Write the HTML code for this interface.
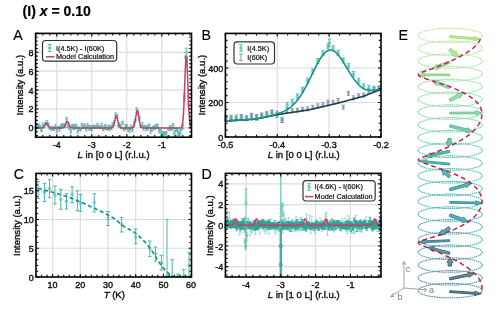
<!DOCTYPE html><html><head><meta charset="utf-8"><style>html,body{margin:0;padding:0;background:#fff;overflow:hidden;}svg{display:block;will-change:transform;}text{font-family:"Liberation Sans", sans-serif;}</style></head><body>
<svg width="500" height="311" viewBox="0 0 500 311">
<rect width="500" height="311" fill="#fff"/>
<text x="22.6" y="15.6" font-size="14" text-anchor="start" font-weight="bold" fill="#000" stroke="#000" stroke-width="0.2" >(I) <tspan font-style="italic">x</tspan> = 0.10</text>
<text x="13.2" y="39.6" font-size="14.2" text-anchor="start" font-weight="normal" fill="#000" stroke="#000" stroke-width="0.15" >A</text>
<text x="201.4" y="39.8" font-size="14.2" text-anchor="start" font-weight="normal" fill="#000" stroke="#000" stroke-width="0.15" >B</text>
<text x="13.8" y="178.6" font-size="14.2" text-anchor="start" font-weight="normal" fill="#000" stroke="#000" stroke-width="0.15" >C</text>
<text x="201.6" y="178.6" font-size="14.2" text-anchor="start" font-weight="normal" fill="#000" stroke="#000" stroke-width="0.15" >D</text>
<text x="398.4" y="39.8" font-size="14.2" text-anchor="start" font-weight="normal" fill="#000" stroke="#000" stroke-width="0.15" >E</text>
<path d="M56.8 33.4V137.2M91.8 33.4V137.2M126.8 33.4V137.2M161.8 33.4V137.2M35.6 127.9H191.5M35.6 109H191.5M35.6 90.1H191.5M35.6 71.2H191.5M35.6 52.3H191.5" stroke="#dcdcdc" stroke-width="1.2" fill="none"/>
<g opacity="0.9"><path d="M35.8 126.75V128.98M34.4 126.75h2.8M34.4 128.98h2.8" stroke="#3aaea2" stroke-width="0.8" fill="none"/><circle cx="35.8" cy="127.86" r="0.9" fill="none" stroke="#3aaea2" stroke-width="0.8"/><path d="M37.2 124.97V128.14M35.8 124.97h2.8M35.8 128.14h2.8" stroke="#3aaea2" stroke-width="0.8" fill="none"/><circle cx="37.2" cy="126.56" r="0.9" fill="none" stroke="#3aaea2" stroke-width="0.8"/><path d="M38.6 123.84V127.23M37.2 123.84h2.8M37.2 127.23h2.8" stroke="#3aaea2" stroke-width="0.8" fill="none"/><circle cx="38.6" cy="125.54" r="0.9" fill="none" stroke="#3aaea2" stroke-width="0.8"/><path d="M40 125.56V127.85M38.6 125.56h2.8M38.6 127.85h2.8" stroke="#3aaea2" stroke-width="0.8" fill="none"/><circle cx="40" cy="126.7" r="0.9" fill="none" stroke="#3aaea2" stroke-width="0.8"/><path d="M41.4 128.87V131.58M40 128.87h2.8M40 131.58h2.8" stroke="#3aaea2" stroke-width="0.8" fill="none"/><circle cx="41.4" cy="130.23" r="0.9" fill="none" stroke="#3aaea2" stroke-width="0.8"/><path d="M42.8 123.05V128.08M41.4 123.05h2.8M41.4 128.08h2.8" stroke="#3aaea2" stroke-width="0.8" fill="none"/><circle cx="42.8" cy="125.56" r="0.9" fill="none" stroke="#3aaea2" stroke-width="0.8"/><path d="M44.2 125.74V127.89M42.8 125.74h2.8M42.8 127.89h2.8" stroke="#3aaea2" stroke-width="0.8" fill="none"/><circle cx="44.2" cy="126.81" r="0.9" fill="none" stroke="#3aaea2" stroke-width="0.8"/><path d="M45.6 122.17V125.1M44.2 122.17h2.8M44.2 125.1h2.8" stroke="#3aaea2" stroke-width="0.8" fill="none"/><circle cx="45.6" cy="123.64" r="0.9" fill="none" stroke="#3aaea2" stroke-width="0.8"/><path d="M47 120.48V125.09M45.6 120.48h2.8M45.6 125.09h2.8" stroke="#3aaea2" stroke-width="0.8" fill="none"/><circle cx="47" cy="122.79" r="0.9" fill="none" stroke="#3aaea2" stroke-width="0.8"/><path d="M48.4 123.01V126.87M47 123.01h2.8M47 126.87h2.8" stroke="#3aaea2" stroke-width="0.8" fill="none"/><circle cx="48.4" cy="124.94" r="0.9" fill="none" stroke="#3aaea2" stroke-width="0.8"/><path d="M49.8 126.98V129.18M48.4 126.98h2.8M48.4 129.18h2.8" stroke="#3aaea2" stroke-width="0.8" fill="none"/><circle cx="49.8" cy="128.08" r="0.9" fill="none" stroke="#3aaea2" stroke-width="0.8"/><path d="M51.2 127.32V129.98M49.8 127.32h2.8M49.8 129.98h2.8" stroke="#3aaea2" stroke-width="0.8" fill="none"/><circle cx="51.2" cy="128.65" r="0.9" fill="none" stroke="#3aaea2" stroke-width="0.8"/><path d="M52.6 126.25V130.12M51.2 126.25h2.8M51.2 130.12h2.8" stroke="#3aaea2" stroke-width="0.8" fill="none"/><circle cx="52.6" cy="128.19" r="0.9" fill="none" stroke="#3aaea2" stroke-width="0.8"/><path d="M54 127.58V130.53M52.6 127.58h2.8M52.6 130.53h2.8" stroke="#3aaea2" stroke-width="0.8" fill="none"/><circle cx="54" cy="129.06" r="0.9" fill="none" stroke="#3aaea2" stroke-width="0.8"/><path d="M55.4 124.78V128.62M54 124.78h2.8M54 128.62h2.8" stroke="#3aaea2" stroke-width="0.8" fill="none"/><circle cx="55.4" cy="126.7" r="0.9" fill="none" stroke="#3aaea2" stroke-width="0.8"/><path d="M56.8 127.56V132.36M55.4 127.56h2.8M55.4 132.36h2.8" stroke="#3aaea2" stroke-width="0.8" fill="none"/><circle cx="56.8" cy="129.96" r="0.9" fill="none" stroke="#3aaea2" stroke-width="0.8"/><path d="M58.2 126.42V128.8M56.8 126.42h2.8M56.8 128.8h2.8" stroke="#3aaea2" stroke-width="0.8" fill="none"/><circle cx="58.2" cy="127.61" r="0.9" fill="none" stroke="#3aaea2" stroke-width="0.8"/><path d="M59.6 126.61V131.03M58.2 126.61h2.8M58.2 131.03h2.8" stroke="#3aaea2" stroke-width="0.8" fill="none"/><circle cx="59.6" cy="128.82" r="0.9" fill="none" stroke="#3aaea2" stroke-width="0.8"/><path d="M61 124.22V128.36M59.6 124.22h2.8M59.6 128.36h2.8" stroke="#3aaea2" stroke-width="0.8" fill="none"/><circle cx="61" cy="126.29" r="0.9" fill="none" stroke="#3aaea2" stroke-width="0.8"/><path d="M62.4 123.85V127.68M61 123.85h2.8M61 127.68h2.8" stroke="#3aaea2" stroke-width="0.8" fill="none"/><circle cx="62.4" cy="125.77" r="0.9" fill="none" stroke="#3aaea2" stroke-width="0.8"/><path d="M63.8 123.86V127.77M62.4 123.86h2.8M62.4 127.77h2.8" stroke="#3aaea2" stroke-width="0.8" fill="none"/><circle cx="63.8" cy="125.82" r="0.9" fill="none" stroke="#3aaea2" stroke-width="0.8"/><path d="M65.2 124.05V127.51M63.8 124.05h2.8M63.8 127.51h2.8" stroke="#3aaea2" stroke-width="0.8" fill="none"/><circle cx="65.2" cy="125.78" r="0.9" fill="none" stroke="#3aaea2" stroke-width="0.8"/><path d="M66.6 117.38V121.51M65.2 117.38h2.8M65.2 121.51h2.8" stroke="#3aaea2" stroke-width="0.8" fill="none"/><circle cx="66.6" cy="119.44" r="0.9" fill="none" stroke="#3aaea2" stroke-width="0.8"/><path d="M68 123.45V127.7M66.6 123.45h2.8M66.6 127.7h2.8" stroke="#3aaea2" stroke-width="0.8" fill="none"/><circle cx="68" cy="125.57" r="0.9" fill="none" stroke="#3aaea2" stroke-width="0.8"/><path d="M69.4 126.39V129.3M68 126.39h2.8M68 129.3h2.8" stroke="#3aaea2" stroke-width="0.8" fill="none"/><circle cx="69.4" cy="127.85" r="0.9" fill="none" stroke="#3aaea2" stroke-width="0.8"/><path d="M70.8 129.11V133.25M69.4 129.11h2.8M69.4 133.25h2.8" stroke="#3aaea2" stroke-width="0.8" fill="none"/><circle cx="70.8" cy="131.18" r="0.9" fill="none" stroke="#3aaea2" stroke-width="0.8"/><path d="M72.2 124.32V126.69M70.8 124.32h2.8M70.8 126.69h2.8" stroke="#3aaea2" stroke-width="0.8" fill="none"/><circle cx="72.2" cy="125.51" r="0.9" fill="none" stroke="#3aaea2" stroke-width="0.8"/><path d="M73.6 124.93V129.39M72.2 124.93h2.8M72.2 129.39h2.8" stroke="#3aaea2" stroke-width="0.8" fill="none"/><circle cx="73.6" cy="127.16" r="0.9" fill="none" stroke="#3aaea2" stroke-width="0.8"/><path d="M75 124.15V128.94M73.6 124.15h2.8M73.6 128.94h2.8" stroke="#3aaea2" stroke-width="0.8" fill="none"/><circle cx="75" cy="126.55" r="0.9" fill="none" stroke="#3aaea2" stroke-width="0.8"/><path d="M76.4 124.78V128.21M75 124.78h2.8M75 128.21h2.8" stroke="#3aaea2" stroke-width="0.8" fill="none"/><circle cx="76.4" cy="126.5" r="0.9" fill="none" stroke="#3aaea2" stroke-width="0.8"/><path d="M77.8 128.4V133.17M76.4 128.4h2.8M76.4 133.17h2.8" stroke="#3aaea2" stroke-width="0.8" fill="none"/><circle cx="77.8" cy="130.79" r="0.9" fill="none" stroke="#3aaea2" stroke-width="0.8"/><path d="M79.2 126.84V130.17M77.8 126.84h2.8M77.8 130.17h2.8" stroke="#3aaea2" stroke-width="0.8" fill="none"/><circle cx="79.2" cy="128.51" r="0.9" fill="none" stroke="#3aaea2" stroke-width="0.8"/><path d="M80.6 128.42V130.9M79.2 128.42h2.8M79.2 130.9h2.8" stroke="#3aaea2" stroke-width="0.8" fill="none"/><circle cx="80.6" cy="129.66" r="0.9" fill="none" stroke="#3aaea2" stroke-width="0.8"/><path d="M82 123.32V126.06M80.6 123.32h2.8M80.6 126.06h2.8" stroke="#3aaea2" stroke-width="0.8" fill="none"/><circle cx="82" cy="124.69" r="0.9" fill="none" stroke="#3aaea2" stroke-width="0.8"/><path d="M83.4 125.8V128.64M82 125.8h2.8M82 128.64h2.8" stroke="#3aaea2" stroke-width="0.8" fill="none"/><circle cx="83.4" cy="127.22" r="0.9" fill="none" stroke="#3aaea2" stroke-width="0.8"/><path d="M84.8 123.81V127.15M83.4 123.81h2.8M83.4 127.15h2.8" stroke="#3aaea2" stroke-width="0.8" fill="none"/><circle cx="84.8" cy="125.48" r="0.9" fill="none" stroke="#3aaea2" stroke-width="0.8"/><path d="M86.2 126.82V131.03M84.8 126.82h2.8M84.8 131.03h2.8" stroke="#3aaea2" stroke-width="0.8" fill="none"/><circle cx="86.2" cy="128.93" r="0.9" fill="none" stroke="#3aaea2" stroke-width="0.8"/><path d="M87.6 123.83V127.81M86.2 123.83h2.8M86.2 127.81h2.8" stroke="#3aaea2" stroke-width="0.8" fill="none"/><circle cx="87.6" cy="125.82" r="0.9" fill="none" stroke="#3aaea2" stroke-width="0.8"/><path d="M89 125.43V129.93M87.6 125.43h2.8M87.6 129.93h2.8" stroke="#3aaea2" stroke-width="0.8" fill="none"/><circle cx="89" cy="127.68" r="0.9" fill="none" stroke="#3aaea2" stroke-width="0.8"/><path d="M90.4 125.66V130.21M89 125.66h2.8M89 130.21h2.8" stroke="#3aaea2" stroke-width="0.8" fill="none"/><circle cx="90.4" cy="127.93" r="0.9" fill="none" stroke="#3aaea2" stroke-width="0.8"/><path d="M91.8 126.75V130.78M90.4 126.75h2.8M90.4 130.78h2.8" stroke="#3aaea2" stroke-width="0.8" fill="none"/><circle cx="91.8" cy="128.77" r="0.9" fill="none" stroke="#3aaea2" stroke-width="0.8"/><path d="M93.2 125.25V127.46M91.8 125.25h2.8M91.8 127.46h2.8" stroke="#3aaea2" stroke-width="0.8" fill="none"/><circle cx="93.2" cy="126.35" r="0.9" fill="none" stroke="#3aaea2" stroke-width="0.8"/><path d="M94.6 126.08V128.25M93.2 126.08h2.8M93.2 128.25h2.8" stroke="#3aaea2" stroke-width="0.8" fill="none"/><circle cx="94.6" cy="127.17" r="0.9" fill="none" stroke="#3aaea2" stroke-width="0.8"/><path d="M96 125.21V127.69M94.6 125.21h2.8M94.6 127.69h2.8" stroke="#3aaea2" stroke-width="0.8" fill="none"/><circle cx="96" cy="126.45" r="0.9" fill="none" stroke="#3aaea2" stroke-width="0.8"/><path d="M97.4 123.73V128.53M96 123.73h2.8M96 128.53h2.8" stroke="#3aaea2" stroke-width="0.8" fill="none"/><circle cx="97.4" cy="126.13" r="0.9" fill="none" stroke="#3aaea2" stroke-width="0.8"/><path d="M98.8 125.23V127.7M97.4 125.23h2.8M97.4 127.7h2.8" stroke="#3aaea2" stroke-width="0.8" fill="none"/><circle cx="98.8" cy="126.46" r="0.9" fill="none" stroke="#3aaea2" stroke-width="0.8"/><path d="M100.2 126.25V128.65M98.8 126.25h2.8M98.8 128.65h2.8" stroke="#3aaea2" stroke-width="0.8" fill="none"/><circle cx="100.2" cy="127.45" r="0.9" fill="none" stroke="#3aaea2" stroke-width="0.8"/><path d="M101.6 123.27V128.45M100.2 123.27h2.8M100.2 128.45h2.8" stroke="#3aaea2" stroke-width="0.8" fill="none"/><circle cx="101.6" cy="125.86" r="0.9" fill="none" stroke="#3aaea2" stroke-width="0.8"/><path d="M103 128.18V130.5M101.6 128.18h2.8M101.6 130.5h2.8" stroke="#3aaea2" stroke-width="0.8" fill="none"/><circle cx="103" cy="129.34" r="0.9" fill="none" stroke="#3aaea2" stroke-width="0.8"/><path d="M104.4 125.59V128.44M103 125.59h2.8M103 128.44h2.8" stroke="#3aaea2" stroke-width="0.8" fill="none"/><circle cx="104.4" cy="127.01" r="0.9" fill="none" stroke="#3aaea2" stroke-width="0.8"/><path d="M105.8 124.43V129.47M104.4 124.43h2.8M104.4 129.47h2.8" stroke="#3aaea2" stroke-width="0.8" fill="none"/><circle cx="105.8" cy="126.95" r="0.9" fill="none" stroke="#3aaea2" stroke-width="0.8"/><path d="M107.2 127.08V129.55M105.8 127.08h2.8M105.8 129.55h2.8" stroke="#3aaea2" stroke-width="0.8" fill="none"/><circle cx="107.2" cy="128.32" r="0.9" fill="none" stroke="#3aaea2" stroke-width="0.8"/><path d="M108.6 125.25V130.38M107.2 125.25h2.8M107.2 130.38h2.8" stroke="#3aaea2" stroke-width="0.8" fill="none"/><circle cx="108.6" cy="127.81" r="0.9" fill="none" stroke="#3aaea2" stroke-width="0.8"/><path d="M110 125.42V129.64M108.6 125.42h2.8M108.6 129.64h2.8" stroke="#3aaea2" stroke-width="0.8" fill="none"/><circle cx="110" cy="127.53" r="0.9" fill="none" stroke="#3aaea2" stroke-width="0.8"/><path d="M111.4 125.22V129.69M110 125.22h2.8M110 129.69h2.8" stroke="#3aaea2" stroke-width="0.8" fill="none"/><circle cx="111.4" cy="127.46" r="0.9" fill="none" stroke="#3aaea2" stroke-width="0.8"/><path d="M112.8 122.58V127.07M111.4 122.58h2.8M111.4 127.07h2.8" stroke="#3aaea2" stroke-width="0.8" fill="none"/><circle cx="112.8" cy="124.82" r="0.9" fill="none" stroke="#3aaea2" stroke-width="0.8"/><path d="M114.2 120.4V125.55M112.8 120.4h2.8M112.8 125.55h2.8" stroke="#3aaea2" stroke-width="0.8" fill="none"/><circle cx="114.2" cy="122.97" r="0.9" fill="none" stroke="#3aaea2" stroke-width="0.8"/><path d="M115.6 112.9V117.48M114.2 112.9h2.8M114.2 117.48h2.8" stroke="#3aaea2" stroke-width="0.8" fill="none"/><circle cx="115.6" cy="115.19" r="0.9" fill="none" stroke="#3aaea2" stroke-width="0.8"/><path d="M117 114.56V118.22M115.6 114.56h2.8M115.6 118.22h2.8" stroke="#3aaea2" stroke-width="0.8" fill="none"/><circle cx="117" cy="116.39" r="0.9" fill="none" stroke="#3aaea2" stroke-width="0.8"/><path d="M118.4 124.32V126.41M117 124.32h2.8M117 126.41h2.8" stroke="#3aaea2" stroke-width="0.8" fill="none"/><circle cx="118.4" cy="125.36" r="0.9" fill="none" stroke="#3aaea2" stroke-width="0.8"/><path d="M119.8 123.03V127.25M118.4 123.03h2.8M118.4 127.25h2.8" stroke="#3aaea2" stroke-width="0.8" fill="none"/><circle cx="119.8" cy="125.14" r="0.9" fill="none" stroke="#3aaea2" stroke-width="0.8"/><path d="M121.2 125.37V128.8M119.8 125.37h2.8M119.8 128.8h2.8" stroke="#3aaea2" stroke-width="0.8" fill="none"/><circle cx="121.2" cy="127.09" r="0.9" fill="none" stroke="#3aaea2" stroke-width="0.8"/><path d="M122.6 121.17V124.34M121.2 121.17h2.8M121.2 124.34h2.8" stroke="#3aaea2" stroke-width="0.8" fill="none"/><circle cx="122.6" cy="122.75" r="0.9" fill="none" stroke="#3aaea2" stroke-width="0.8"/><path d="M124 128.02V130.74M122.6 128.02h2.8M122.6 130.74h2.8" stroke="#3aaea2" stroke-width="0.8" fill="none"/><circle cx="124" cy="129.38" r="0.9" fill="none" stroke="#3aaea2" stroke-width="0.8"/><path d="M125.4 124.61V129.49M124 124.61h2.8M124 129.49h2.8" stroke="#3aaea2" stroke-width="0.8" fill="none"/><circle cx="125.4" cy="127.05" r="0.9" fill="none" stroke="#3aaea2" stroke-width="0.8"/><path d="M126.8 124.57V128.11M125.4 124.57h2.8M125.4 128.11h2.8" stroke="#3aaea2" stroke-width="0.8" fill="none"/><circle cx="126.8" cy="126.34" r="0.9" fill="none" stroke="#3aaea2" stroke-width="0.8"/><path d="M128.2 127.12V131.23M126.8 127.12h2.8M126.8 131.23h2.8" stroke="#3aaea2" stroke-width="0.8" fill="none"/><circle cx="128.2" cy="129.17" r="0.9" fill="none" stroke="#3aaea2" stroke-width="0.8"/><path d="M129.6 127.68V132.18M128.2 127.68h2.8M128.2 132.18h2.8" stroke="#3aaea2" stroke-width="0.8" fill="none"/><circle cx="129.6" cy="129.93" r="0.9" fill="none" stroke="#3aaea2" stroke-width="0.8"/><path d="M131 125.16V129.68M129.6 125.16h2.8M129.6 129.68h2.8" stroke="#3aaea2" stroke-width="0.8" fill="none"/><circle cx="131" cy="127.42" r="0.9" fill="none" stroke="#3aaea2" stroke-width="0.8"/><path d="M132.4 126.96V131.52M131 126.96h2.8M131 131.52h2.8" stroke="#3aaea2" stroke-width="0.8" fill="none"/><circle cx="132.4" cy="129.24" r="0.9" fill="none" stroke="#3aaea2" stroke-width="0.8"/><path d="M133.8 121.82V126.85M132.4 121.82h2.8M132.4 126.85h2.8" stroke="#3aaea2" stroke-width="0.8" fill="none"/><circle cx="133.8" cy="124.34" r="0.9" fill="none" stroke="#3aaea2" stroke-width="0.8"/><path d="M135.2 119.15V121.69M133.8 119.15h2.8M133.8 121.69h2.8" stroke="#3aaea2" stroke-width="0.8" fill="none"/><circle cx="135.2" cy="120.42" r="0.9" fill="none" stroke="#3aaea2" stroke-width="0.8"/><path d="M136.6 107.8V112.38M135.2 107.8h2.8M135.2 112.38h2.8" stroke="#3aaea2" stroke-width="0.8" fill="none"/><circle cx="136.6" cy="110.09" r="0.9" fill="none" stroke="#3aaea2" stroke-width="0.8"/><path d="M138 110.09V114.73M136.6 110.09h2.8M136.6 114.73h2.8" stroke="#3aaea2" stroke-width="0.8" fill="none"/><circle cx="138" cy="112.41" r="0.9" fill="none" stroke="#3aaea2" stroke-width="0.8"/><path d="M139.4 116.3V120.05M138 116.3h2.8M138 120.05h2.8" stroke="#3aaea2" stroke-width="0.8" fill="none"/><circle cx="139.4" cy="118.17" r="0.9" fill="none" stroke="#3aaea2" stroke-width="0.8"/><path d="M140.8 125.38V127.42M139.4 125.38h2.8M139.4 127.42h2.8" stroke="#3aaea2" stroke-width="0.8" fill="none"/><circle cx="140.8" cy="126.4" r="0.9" fill="none" stroke="#3aaea2" stroke-width="0.8"/><path d="M142.2 122.38V127.36M140.8 122.38h2.8M140.8 127.36h2.8" stroke="#3aaea2" stroke-width="0.8" fill="none"/><circle cx="142.2" cy="124.87" r="0.9" fill="none" stroke="#3aaea2" stroke-width="0.8"/><path d="M143.6 125.48V130.26M142.2 125.48h2.8M142.2 130.26h2.8" stroke="#3aaea2" stroke-width="0.8" fill="none"/><circle cx="143.6" cy="127.87" r="0.9" fill="none" stroke="#3aaea2" stroke-width="0.8"/><path d="M145 125.42V128.36M143.6 125.42h2.8M143.6 128.36h2.8" stroke="#3aaea2" stroke-width="0.8" fill="none"/><circle cx="145" cy="126.89" r="0.9" fill="none" stroke="#3aaea2" stroke-width="0.8"/><path d="M146.4 126.53V130.41M145 126.53h2.8M145 130.41h2.8" stroke="#3aaea2" stroke-width="0.8" fill="none"/><circle cx="146.4" cy="128.47" r="0.9" fill="none" stroke="#3aaea2" stroke-width="0.8"/><path d="M147.8 125.08V129.99M146.4 125.08h2.8M146.4 129.99h2.8" stroke="#3aaea2" stroke-width="0.8" fill="none"/><circle cx="147.8" cy="127.53" r="0.9" fill="none" stroke="#3aaea2" stroke-width="0.8"/><path d="M149.2 123.92V127.39M147.8 123.92h2.8M147.8 127.39h2.8" stroke="#3aaea2" stroke-width="0.8" fill="none"/><circle cx="149.2" cy="125.66" r="0.9" fill="none" stroke="#3aaea2" stroke-width="0.8"/><path d="M150.6 128.15V133.09M149.2 128.15h2.8M149.2 133.09h2.8" stroke="#3aaea2" stroke-width="0.8" fill="none"/><circle cx="150.6" cy="130.62" r="0.9" fill="none" stroke="#3aaea2" stroke-width="0.8"/><path d="M152 127.42V131.12M150.6 127.42h2.8M150.6 131.12h2.8" stroke="#3aaea2" stroke-width="0.8" fill="none"/><circle cx="152" cy="129.27" r="0.9" fill="none" stroke="#3aaea2" stroke-width="0.8"/><path d="M153.4 126.46V129.05M152 126.46h2.8M152 129.05h2.8" stroke="#3aaea2" stroke-width="0.8" fill="none"/><circle cx="153.4" cy="127.75" r="0.9" fill="none" stroke="#3aaea2" stroke-width="0.8"/><path d="M154.8 125.2V129.75M153.4 125.2h2.8M153.4 129.75h2.8" stroke="#3aaea2" stroke-width="0.8" fill="none"/><circle cx="154.8" cy="127.48" r="0.9" fill="none" stroke="#3aaea2" stroke-width="0.8"/><path d="M156.2 124.63V128.41M154.8 124.63h2.8M154.8 128.41h2.8" stroke="#3aaea2" stroke-width="0.8" fill="none"/><circle cx="156.2" cy="126.52" r="0.9" fill="none" stroke="#3aaea2" stroke-width="0.8"/><path d="M157.6 123.9V127.55M156.2 123.9h2.8M156.2 127.55h2.8" stroke="#3aaea2" stroke-width="0.8" fill="none"/><circle cx="157.6" cy="125.73" r="0.9" fill="none" stroke="#3aaea2" stroke-width="0.8"/><path d="M159 128.33V132.12M157.6 128.33h2.8M157.6 132.12h2.8" stroke="#3aaea2" stroke-width="0.8" fill="none"/><circle cx="159" cy="130.23" r="0.9" fill="none" stroke="#3aaea2" stroke-width="0.8"/><path d="M160.4 129.38V133M159 129.38h2.8M159 133h2.8" stroke="#3aaea2" stroke-width="0.8" fill="none"/><circle cx="160.4" cy="131.19" r="1.3" fill="none" stroke="#3aaea2" stroke-width="0.8"/><path d="M161.8 133.64V137.05M160.4 133.64h2.8M160.4 137.05h2.8" stroke="#3aaea2" stroke-width="0.8" fill="none"/><circle cx="161.8" cy="135.35" r="1.3" fill="none" stroke="#3aaea2" stroke-width="0.8"/><path d="M163.2 131.49V135.7M161.8 131.49h2.8M161.8 135.7h2.8" stroke="#3aaea2" stroke-width="0.8" fill="none"/><circle cx="163.2" cy="133.6" r="1.3" fill="none" stroke="#3aaea2" stroke-width="0.8"/><path d="M164.6 131.82V136.84M163.2 131.82h2.8M163.2 136.84h2.8" stroke="#3aaea2" stroke-width="0.8" fill="none"/><circle cx="164.6" cy="134.33" r="1.3" fill="none" stroke="#3aaea2" stroke-width="0.8"/><path d="M166 131.49V134.32M164.6 131.49h2.8M164.6 134.32h2.8" stroke="#3aaea2" stroke-width="0.8" fill="none"/><circle cx="166" cy="132.91" r="1.3" fill="none" stroke="#3aaea2" stroke-width="0.8"/><path d="M167.4 135.89V138.33M166 135.89h2.8M166 138.33h2.8" stroke="#3aaea2" stroke-width="0.8" fill="none"/><circle cx="167.4" cy="137.11" r="1.3" fill="none" stroke="#3aaea2" stroke-width="0.8"/><path d="M168.8 127.76V130.53M167.4 127.76h2.8M167.4 130.53h2.8" stroke="#3aaea2" stroke-width="0.8" fill="none"/><circle cx="168.8" cy="129.14" r="1.3" fill="none" stroke="#3aaea2" stroke-width="0.8"/><path d="M170.2 125.24V130.11M168.8 125.24h2.8M168.8 130.11h2.8" stroke="#3aaea2" stroke-width="0.8" fill="none"/><circle cx="170.2" cy="127.68" r="1.3" fill="none" stroke="#3aaea2" stroke-width="0.8"/><path d="M171.6 127.61V130.06M170.2 127.61h2.8M170.2 130.06h2.8" stroke="#3aaea2" stroke-width="0.8" fill="none"/><circle cx="171.6" cy="128.84" r="1.3" fill="none" stroke="#3aaea2" stroke-width="0.8"/><path d="M173 123.55V128.6M171.6 123.55h2.8M171.6 128.6h2.8" stroke="#3aaea2" stroke-width="0.8" fill="none"/><circle cx="173" cy="126.07" r="1.3" fill="none" stroke="#3aaea2" stroke-width="0.8"/><path d="M174.4 131.33V135.99M173 131.33h2.8M173 135.99h2.8" stroke="#3aaea2" stroke-width="0.8" fill="none"/><circle cx="174.4" cy="133.66" r="1.3" fill="none" stroke="#3aaea2" stroke-width="0.8"/><path d="M175.8 128.18V131.27M174.4 128.18h2.8M174.4 131.27h2.8" stroke="#3aaea2" stroke-width="0.8" fill="none"/><circle cx="175.8" cy="129.72" r="1.3" fill="none" stroke="#3aaea2" stroke-width="0.8"/><path d="M177.2 129.4V131.46M175.8 129.4h2.8M175.8 131.46h2.8" stroke="#3aaea2" stroke-width="0.8" fill="none"/><circle cx="177.2" cy="130.43" r="1.3" fill="none" stroke="#3aaea2" stroke-width="0.8"/><path d="M178.6 132.37V135.43M177.2 132.37h2.8M177.2 135.43h2.8" stroke="#3aaea2" stroke-width="0.8" fill="none"/><circle cx="178.6" cy="133.9" r="1.3" fill="none" stroke="#3aaea2" stroke-width="0.8"/><path d="M180 130.87V136.02M178.6 130.87h2.8M178.6 136.02h2.8" stroke="#3aaea2" stroke-width="0.8" fill="none"/><circle cx="180" cy="133.44" r="1.3" fill="none" stroke="#3aaea2" stroke-width="0.8"/><path d="M181.4 127.57V130.42M180 127.57h2.8M180 130.42h2.8" stroke="#3aaea2" stroke-width="0.8" fill="none"/><circle cx="181.4" cy="129" r="1.3" fill="none" stroke="#3aaea2" stroke-width="0.8"/><path d="M182.8 124.07V128.56M181.4 124.07h2.8M181.4 128.56h2.8" stroke="#3aaea2" stroke-width="0.8" fill="none"/><circle cx="182.8" cy="126.32" r="0.9" fill="none" stroke="#3aaea2" stroke-width="0.8"/><path d="M184.2 96.02V100.93M182.8 96.02h2.8M182.8 100.93h2.8" stroke="#3aaea2" stroke-width="0.8" fill="none"/><circle cx="184.2" cy="98.48" r="0.9" fill="none" stroke="#3aaea2" stroke-width="0.8"/><path d="M185.6 55.91V58.74M184.2 55.91h2.8M184.2 58.74h2.8" stroke="#3aaea2" stroke-width="0.8" fill="none"/><circle cx="185.6" cy="57.32" r="0.9" fill="none" stroke="#3aaea2" stroke-width="0.8"/><path d="M187 57.07V61.31M185.6 57.07h2.8M185.6 61.31h2.8" stroke="#3aaea2" stroke-width="0.8" fill="none"/><circle cx="187" cy="59.19" r="0.9" fill="none" stroke="#3aaea2" stroke-width="0.8"/><path d="M188.4 96.16V98.34M187 96.16h2.8M187 98.34h2.8" stroke="#3aaea2" stroke-width="0.8" fill="none"/><circle cx="188.4" cy="97.25" r="0.9" fill="none" stroke="#3aaea2" stroke-width="0.8"/><path d="M189.8 120.04V125.05M188.4 120.04h2.8M188.4 125.05h2.8" stroke="#3aaea2" stroke-width="0.8" fill="none"/><circle cx="189.8" cy="122.55" r="0.9" fill="none" stroke="#3aaea2" stroke-width="0.8"/><path d="M186.3 48.2V57M184.5 48.2h3.6M184.5 57h3.6" stroke="#4cb8ae" stroke-width="0.9" fill="none"/><circle cx="186.3" cy="52.6" r="1.4" fill="none" stroke="#4cb8ae" stroke-width="0.8"/><path d="M184.6 93.5V98.5M183.1 93.5h3M183.1 98.5h3" stroke="#4cb8ae" stroke-width="0.8" fill="none"/><circle cx="184.6" cy="96" r="1.1" fill="none" stroke="#4cb8ae" stroke-width="0.8"/><path d="M188.2 101.5V106.5M186.7 101.5h3M186.7 106.5h3" stroke="#4cb8ae" stroke-width="0.8" fill="none"/><circle cx="188.2" cy="104" r="1.1" fill="none" stroke="#4cb8ae" stroke-width="0.8"/></g>
<path d="M35.45 127.9 L35.8 127.9 L36.15 127.9 L36.5 127.9 L36.85 127.9 L37.2 127.9 L37.55 127.9 L37.9 127.9 L38.25 127.9 L38.6 127.9 L38.95 127.9 L39.3 127.9 L39.65 127.9 L40 127.9 L40.35 127.9 L40.7 127.89 L41.05 127.88 L41.4 127.86 L41.75 127.83 L42.1 127.77 L42.45 127.66 L42.8 127.5 L43.15 127.26 L43.5 126.93 L43.85 126.49 L44.2 125.96 L44.55 125.35 L44.9 124.72 L45.25 124.12 L45.6 123.62 L45.95 123.29 L46.3 123.18 L46.65 123.29 L47 123.62 L47.35 124.12 L47.7 124.72 L48.05 125.35 L48.4 125.96 L48.75 126.49 L49.1 126.93 L49.45 127.26 L49.8 127.5 L50.15 127.66 L50.5 127.77 L50.85 127.83 L51.2 127.86 L51.55 127.88 L51.9 127.89 L52.25 127.9 L52.6 127.9 L52.95 127.9 L53.3 127.9 L53.65 127.9 L54 127.9 L54.35 127.9 L54.7 127.9 L55.05 127.9 L55.4 127.9 L55.75 127.9 L56.1 127.9 L56.45 127.9 L56.8 127.9 L57.15 127.9 L57.5 127.9 L57.85 127.9 L58.2 127.9 L58.55 127.9 L58.9 127.9 L59.25 127.9 L59.6 127.9 L59.95 127.9 L60.3 127.9 L60.65 127.9 L61 127.9 L61.35 127.89 L61.7 127.89 L62.05 127.88 L62.4 127.85 L62.75 127.8 L63.1 127.72 L63.45 127.58 L63.8 127.36 L64.15 127.03 L64.5 126.58 L64.85 125.98 L65.2 125.26 L65.55 124.43 L65.9 123.57 L66.25 122.75 L66.6 122.08 L66.95 121.63 L67.3 121.47 L67.65 121.63 L68 122.08 L68.35 122.75 L68.7 123.57 L69.05 124.43 L69.4 125.26 L69.75 125.98 L70.1 126.58 L70.45 127.03 L70.8 127.36 L71.15 127.58 L71.5 127.72 L71.85 127.8 L72.2 127.85 L72.55 127.88 L72.9 127.89 L73.25 127.89 L73.6 127.9 L73.95 127.9 L74.3 127.9 L74.65 127.9 L75 127.9 L75.35 127.9 L75.7 127.9 L76.05 127.9 L76.4 127.9 L76.75 127.9 L77.1 127.9 L77.45 127.9 L77.8 127.9 L78.15 127.9 L78.5 127.9 L78.85 127.9 L79.2 127.9 L79.55 127.9 L79.9 127.9 L80.25 127.9 L80.6 127.9 L80.95 127.9 L81.3 127.9 L81.65 127.9 L82 127.9 L82.35 127.9 L82.7 127.9 L83.05 127.9 L83.4 127.9 L83.75 127.9 L84.1 127.9 L84.45 127.9 L84.8 127.9 L85.15 127.9 L85.5 127.9 L85.85 127.9 L86.2 127.9 L86.55 127.9 L86.9 127.9 L87.25 127.9 L87.6 127.9 L87.95 127.9 L88.3 127.9 L88.65 127.9 L89 127.9 L89.35 127.9 L89.7 127.9 L90.05 127.9 L90.4 127.9 L90.75 127.9 L91.1 127.9 L91.45 127.9 L91.8 127.9 L92.15 127.9 L92.5 127.9 L92.85 127.9 L93.2 127.9 L93.55 127.9 L93.9 127.9 L94.25 127.9 L94.6 127.9 L94.95 127.9 L95.3 127.9 L95.65 127.9 L96 127.9 L96.35 127.9 L96.7 127.9 L97.05 127.9 L97.4 127.9 L97.75 127.9 L98.1 127.9 L98.45 127.9 L98.8 127.9 L99.15 127.9 L99.5 127.9 L99.85 127.9 L100.2 127.9 L100.55 127.9 L100.9 127.9 L101.25 127.9 L101.6 127.9 L101.95 127.9 L102.3 127.9 L102.65 127.9 L103 127.9 L103.35 127.9 L103.7 127.9 L104.05 127.9 L104.4 127.9 L104.75 127.9 L105.1 127.9 L105.45 127.9 L105.8 127.9 L106.15 127.9 L106.5 127.9 L106.85 127.9 L107.2 127.9 L107.55 127.9 L107.9 127.9 L108.25 127.9 L108.6 127.9 L108.95 127.9 L109.3 127.9 L109.65 127.9 L110 127.9 L110.35 127.89 L110.7 127.88 L111.05 127.86 L111.4 127.81 L111.75 127.72 L112.1 127.57 L112.45 127.32 L112.8 126.92 L113.15 126.34 L113.5 125.53 L113.85 124.46 L114.2 123.16 L114.55 121.68 L114.9 120.13 L115.25 118.67 L115.6 117.46 L115.95 116.65 L116.3 116.37 L116.65 116.65 L117 117.46 L117.35 118.67 L117.7 120.13 L118.05 121.68 L118.4 123.16 L118.75 124.46 L119.1 125.53 L119.45 126.34 L119.8 126.92 L120.15 127.32 L120.5 127.57 L120.85 127.72 L121.2 127.81 L121.55 127.86 L121.9 127.88 L122.25 127.89 L122.6 127.9 L122.95 127.9 L123.3 127.9 L123.65 127.9 L124 127.9 L124.35 127.9 L124.7 127.9 L125.05 127.9 L125.4 127.9 L125.75 127.9 L126.1 127.9 L126.45 127.9 L126.8 127.9 L127.15 127.9 L127.5 127.9 L127.85 127.9 L128.2 127.9 L128.55 127.9 L128.9 127.9 L129.25 127.9 L129.6 127.9 L129.95 127.9 L130.3 127.9 L130.65 127.9 L131 127.89 L131.35 127.89 L131.7 127.87 L132.05 127.83 L132.4 127.77 L132.75 127.64 L133.1 127.41 L133.45 127.04 L133.8 126.46 L134.15 125.6 L134.5 124.4 L134.85 122.83 L135.2 120.91 L135.55 118.72 L135.9 116.44 L136.25 114.28 L136.6 112.49 L136.95 111.3 L137.3 110.89 L137.65 111.3 L138 112.49 L138.35 114.28 L138.7 116.44 L139.05 118.72 L139.4 120.91 L139.75 122.83 L140.1 124.4 L140.45 125.6 L140.8 126.46 L141.15 127.04 L141.5 127.41 L141.85 127.64 L142.2 127.77 L142.55 127.83 L142.9 127.87 L143.25 127.89 L143.6 127.89 L143.95 127.9 L144.3 127.9 L144.65 127.9 L145 127.9 L145.35 127.9 L145.7 127.9 L146.05 127.9 L146.4 127.9 L146.75 127.9 L147.1 127.9 L147.45 127.9 L147.8 127.9 L148.15 127.9 L148.5 127.9 L148.85 127.9 L149.2 127.9 L149.55 127.9 L149.9 127.9 L150.25 127.9 L150.6 127.9 L150.95 127.9 L151.3 127.9 L151.65 127.9 L152 127.9 L152.35 127.9 L152.7 127.9 L153.05 127.9 L153.4 127.9 L153.75 127.9 L154.1 127.9 L154.45 127.9 L154.8 127.9 L155.15 127.9 L155.5 127.9 L155.85 127.9 L156.2 127.9 L156.55 127.9 L156.9 127.9 L157.25 127.9 L157.6 127.9 L157.95 127.9 L158.3 127.9 L158.65 127.9 L159 127.9 L159.35 127.9 L159.7 127.9 L160.05 127.9 L160.4 127.9 L160.75 127.9 L161.1 127.9 L161.45 127.9 L161.8 127.9 L162.15 127.9 L162.5 127.9 L162.85 127.9 L163.2 127.9 L163.55 127.9 L163.9 127.9 L164.25 127.9 L164.6 127.9 L164.95 127.9 L165.3 127.9 L165.65 127.9 L166 127.9 L166.35 127.9 L166.7 127.9 L167.05 127.9 L167.4 127.9 L167.75 127.9 L168.1 127.9 L168.45 127.9 L168.8 127.9 L169.15 127.9 L169.5 127.9 L169.85 127.9 L170.2 127.9 L170.55 127.9 L170.9 127.9 L171.25 127.9 L171.6 127.9 L171.95 127.9 L172.3 127.9 L172.65 127.9 L173 127.9 L173.35 127.9 L173.7 127.9 L174.05 127.9 L174.4 127.9 L174.75 127.9 L175.1 127.9 L175.45 127.9 L175.8 127.9 L176.15 127.9 L176.5 127.9 L176.85 127.9 L177.2 127.9 L177.55 127.9 L177.9 127.9 L178.25 127.9 L178.6 127.9 L178.95 127.9 L179.3 127.9 L179.65 127.89 L180 127.88 L180.35 127.84 L180.7 127.77 L181.05 127.62 L181.4 127.33 L181.75 126.79 L182.1 125.85 L182.45 124.28 L182.8 121.82 L183.15 118.18 L183.5 113.11 L183.85 106.48 L184.2 98.37 L184.55 89.16 L184.9 79.52 L185.25 70.39 L185.6 62.83 L185.95 57.83 L186.3 56.08 L186.65 57.83 L187 62.83 L187.35 70.39 L187.7 79.52 L188.05 89.16 L188.4 98.37 L188.75 106.48 L189.1 113.11 L189.45 118.18 L189.8 121.82 L190.15 124.28 L190.5 125.85 L190.85 126.79 L191.2 127.33 L191.55 127.62" stroke="#c93d68" stroke-width="1.5" fill="none" stroke-linejoin="round" />
<rect x="35.6" y="33.4" width="155.9" height="103.8" fill="none" stroke="#000" stroke-width="1.6"/><path d="M35.8 137.2v-2.2M35.8 33.4v2.2M42.8 137.2v-2.2M42.8 33.4v2.2M49.8 137.2v-2.2M49.8 33.4v2.2M56.8 137.2v-3.0M56.8 33.4v3.0M63.8 137.2v-2.2M63.8 33.4v2.2M70.8 137.2v-2.2M70.8 33.4v2.2M77.8 137.2v-2.2M77.8 33.4v2.2M84.8 137.2v-2.2M84.8 33.4v2.2M91.8 137.2v-3.0M91.8 33.4v3.0M98.8 137.2v-2.2M98.8 33.4v2.2M105.8 137.2v-2.2M105.8 33.4v2.2M112.8 137.2v-2.2M112.8 33.4v2.2M119.8 137.2v-2.2M119.8 33.4v2.2M126.8 137.2v-3.0M126.8 33.4v3.0M133.8 137.2v-2.2M133.8 33.4v2.2M140.8 137.2v-2.2M140.8 33.4v2.2M147.8 137.2v-2.2M147.8 33.4v2.2M154.8 137.2v-2.2M154.8 33.4v2.2M161.8 137.2v-3.0M161.8 33.4v3.0M168.8 137.2v-2.2M168.8 33.4v2.2M175.8 137.2v-2.2M175.8 33.4v2.2M182.8 137.2v-2.2M182.8 33.4v2.2M189.8 137.2v-2.2M189.8 33.4v2.2M35.6 135.46h2.2M191.5 135.46h-2.2M35.6 131.68h2.2M191.5 131.68h-2.2M35.6 127.9h3.0M191.5 127.9h-3.0M35.6 124.12h2.2M191.5 124.12h-2.2M35.6 120.34h2.2M191.5 120.34h-2.2M35.6 116.56h2.2M191.5 116.56h-2.2M35.6 112.78h2.2M191.5 112.78h-2.2M35.6 109h3.0M191.5 109h-3.0M35.6 105.22h2.2M191.5 105.22h-2.2M35.6 101.44h2.2M191.5 101.44h-2.2M35.6 97.66h2.2M191.5 97.66h-2.2M35.6 93.88h2.2M191.5 93.88h-2.2M35.6 90.1h3.0M191.5 90.1h-3.0M35.6 86.32h2.2M191.5 86.32h-2.2M35.6 82.54h2.2M191.5 82.54h-2.2M35.6 78.76h2.2M191.5 78.76h-2.2M35.6 74.98h2.2M191.5 74.98h-2.2M35.6 71.2h3.0M191.5 71.2h-3.0M35.6 67.42h2.2M191.5 67.42h-2.2M35.6 63.64h2.2M191.5 63.64h-2.2M35.6 59.86h2.2M191.5 59.86h-2.2M35.6 56.08h2.2M191.5 56.08h-2.2M35.6 52.3h3.0M191.5 52.3h-3.0M35.6 48.52h2.2M191.5 48.52h-2.2M35.6 44.74h2.2M191.5 44.74h-2.2M35.6 40.96h2.2M191.5 40.96h-2.2M35.6 37.18h2.2M191.5 37.18h-2.2M35.6 33.4h3.0M191.5 33.4h-3.0" stroke="#000" stroke-width="1.1" fill="none"/>
<text x="56.8" y="147.6" font-size="9.0" text-anchor="middle" font-weight="normal" fill="#111" stroke="#111" stroke-width="0.38" >-4</text>
<text x="91.8" y="147.6" font-size="9.0" text-anchor="middle" font-weight="normal" fill="#111" stroke="#111" stroke-width="0.38" >-3</text>
<text x="126.8" y="147.6" font-size="9.0" text-anchor="middle" font-weight="normal" fill="#111" stroke="#111" stroke-width="0.38" >-2</text>
<text x="161.8" y="147.6" font-size="9.0" text-anchor="middle" font-weight="normal" fill="#111" stroke="#111" stroke-width="0.38" >-1</text>
<text x="33.6" y="131.3" font-size="9.0" text-anchor="end" font-weight="normal" fill="#111" stroke="#111" stroke-width="0.38" >0</text>
<text x="33.6" y="112.4" font-size="9.0" text-anchor="end" font-weight="normal" fill="#111" stroke="#111" stroke-width="0.38" >2</text>
<text x="33.6" y="93.5" font-size="9.0" text-anchor="end" font-weight="normal" fill="#111" stroke="#111" stroke-width="0.38" >4</text>
<text x="33.6" y="74.6" font-size="9.0" text-anchor="end" font-weight="normal" fill="#111" stroke="#111" stroke-width="0.38" >6</text>
<text x="33.6" y="55.7" font-size="9.0" text-anchor="end" font-weight="normal" fill="#111" stroke="#111" stroke-width="0.38" >8</text>
<text x="113.6" y="157.8" font-size="9.6" text-anchor="middle" font-weight="normal" fill="#111" stroke="#111" stroke-width="0.38" ><tspan font-style="italic">L</tspan> in [0 0 L] (r.l.u.)</text>
<text x="0" y="0" font-size="9.6" text-anchor="middle" font-weight="normal" fill="#111" stroke="#111" stroke-width="0.38" transform="translate(22.9 85.1) rotate(-90)">Intensity (a.u.)</text>
<rect x="42.5" y="40.5" width="74.2" height="20.7" rx="3.2" ry="3.2" fill="#fff" stroke="#333" stroke-width="1.2"/>
<path d="M49.7 44.5V51.5M47.9 44.5h3.6M47.9 51.5h3.6" stroke="#4cb8ae" stroke-width="0.9" fill="none"/><circle cx="49.7" cy="48" r="1.3" fill="none" stroke="#4cb8ae" stroke-width="0.8"/>
<path d="M46 56.8H54.5" stroke="#c93d68" stroke-width="1.5"/>
<text x="56" y="50.8" font-size="7.3" text-anchor="start" font-weight="normal" fill="#111" stroke="#111" stroke-width="0.2" >I(4.5K) - I(60K)</text>
<text x="56" y="58.7" font-size="7.3" text-anchor="start" font-weight="normal" fill="#111" stroke="#111" stroke-width="0.2" >Model Calculation</text>
<path d="M277.25 33.4V137M329.1 33.4V137M225.4 102.5H381M225.4 68H381" stroke="#dcdcdc" stroke-width="1.2" fill="none"/>
<g><path d="M226 115.44V120.44M224.3 115.44h3.4M224.3 120.44h3.4" stroke="#4cb8ae" stroke-width="0.9" fill="none"/><circle cx="226" cy="117.94" r="1.3" fill="none" stroke="#4cb8ae" stroke-width="0.8"/><path d="M231.1 116.47V121.47M229.4 116.47h3.4M229.4 121.47h3.4" stroke="#4cb8ae" stroke-width="0.9" fill="none"/><circle cx="231.1" cy="118.97" r="1.3" fill="none" stroke="#4cb8ae" stroke-width="0.8"/><path d="M236.2 115V120M234.5 115h3.4M234.5 120h3.4" stroke="#4cb8ae" stroke-width="0.9" fill="none"/><circle cx="236.2" cy="117.5" r="1.3" fill="none" stroke="#4cb8ae" stroke-width="0.8"/><path d="M241.3 115.23V120.23M239.6 115.23h3.4M239.6 120.23h3.4" stroke="#4cb8ae" stroke-width="0.9" fill="none"/><circle cx="241.3" cy="117.73" r="1.3" fill="none" stroke="#4cb8ae" stroke-width="0.8"/><path d="M246.4 115.74V120.74M244.7 115.74h3.4M244.7 120.74h3.4" stroke="#4cb8ae" stroke-width="0.9" fill="none"/><circle cx="246.4" cy="118.24" r="1.3" fill="none" stroke="#4cb8ae" stroke-width="0.8"/><path d="M251.5 113.3V118.3M249.8 113.3h3.4M249.8 118.3h3.4" stroke="#4cb8ae" stroke-width="0.9" fill="none"/><circle cx="251.5" cy="115.8" r="1.3" fill="none" stroke="#4cb8ae" stroke-width="0.8"/><path d="M256.6 115.36V120.36M254.9 115.36h3.4M254.9 120.36h3.4" stroke="#4cb8ae" stroke-width="0.9" fill="none"/><circle cx="256.6" cy="117.86" r="1.3" fill="none" stroke="#4cb8ae" stroke-width="0.8"/><path d="M261.7 112.92V117.92M260 112.92h3.4M260 117.92h3.4" stroke="#4cb8ae" stroke-width="0.9" fill="none"/><circle cx="261.7" cy="115.42" r="1.3" fill="none" stroke="#4cb8ae" stroke-width="0.8"/><path d="M266.8 111.72V116.72M265.1 111.72h3.4M265.1 116.72h3.4" stroke="#4cb8ae" stroke-width="0.9" fill="none"/><circle cx="266.8" cy="114.22" r="1.3" fill="none" stroke="#4cb8ae" stroke-width="0.8"/><path d="M271.9 110.3V115.3M270.2 110.3h3.4M270.2 115.3h3.4" stroke="#4cb8ae" stroke-width="0.9" fill="none"/><circle cx="271.9" cy="112.8" r="1.3" fill="none" stroke="#4cb8ae" stroke-width="0.8"/><path d="M277 112.44V117.44M275.3 112.44h3.4M275.3 117.44h3.4" stroke="#4cb8ae" stroke-width="0.9" fill="none"/><circle cx="277" cy="114.94" r="1.3" fill="none" stroke="#4cb8ae" stroke-width="0.8"/><path d="M282.1 117.4V122.4M280.4 117.4h3.4M280.4 122.4h3.4" stroke="#4cb8ae" stroke-width="0.9" fill="none"/><circle cx="282.1" cy="119.9" r="1.3" fill="none" stroke="#4cb8ae" stroke-width="0.8"/><path d="M287.2 102.65V107.65M285.5 102.65h3.4M285.5 107.65h3.4" stroke="#4cb8ae" stroke-width="0.9" fill="none"/><circle cx="287.2" cy="105.15" r="1.3" fill="none" stroke="#4cb8ae" stroke-width="0.8"/><path d="M292.3 99.23V104.23M290.6 99.23h3.4M290.6 104.23h3.4" stroke="#4cb8ae" stroke-width="0.9" fill="none"/><circle cx="292.3" cy="101.73" r="1.3" fill="none" stroke="#4cb8ae" stroke-width="0.8"/><path d="M297.4 93.91V98.91M295.7 93.91h3.4M295.7 98.91h3.4" stroke="#4cb8ae" stroke-width="0.9" fill="none"/><circle cx="297.4" cy="96.41" r="1.3" fill="none" stroke="#4cb8ae" stroke-width="0.8"/><path d="M302.5 87.22V92.22M300.8 87.22h3.4M300.8 92.22h3.4" stroke="#4cb8ae" stroke-width="0.9" fill="none"/><circle cx="302.5" cy="89.72" r="1.3" fill="none" stroke="#4cb8ae" stroke-width="0.8"/><path d="M307.6 78.2V83.2M305.9 78.2h3.4M305.9 83.2h3.4" stroke="#4cb8ae" stroke-width="0.9" fill="none"/><circle cx="307.6" cy="80.7" r="1.3" fill="none" stroke="#4cb8ae" stroke-width="0.8"/><path d="M312.7 68.85V73.85M311 68.85h3.4M311 73.85h3.4" stroke="#4cb8ae" stroke-width="0.9" fill="none"/><circle cx="312.7" cy="71.35" r="1.3" fill="none" stroke="#4cb8ae" stroke-width="0.8"/><path d="M317.8 58.51V63.51M316.1 58.51h3.4M316.1 63.51h3.4" stroke="#4cb8ae" stroke-width="0.9" fill="none"/><circle cx="317.8" cy="61.01" r="1.3" fill="none" stroke="#4cb8ae" stroke-width="0.8"/><path d="M322.9 50.76V55.76M321.2 50.76h3.4M321.2 55.76h3.4" stroke="#4cb8ae" stroke-width="0.9" fill="none"/><circle cx="322.9" cy="53.26" r="1.3" fill="none" stroke="#4cb8ae" stroke-width="0.8"/><path d="M328 44.02V49.02M326.3 44.02h3.4M326.3 49.02h3.4" stroke="#4cb8ae" stroke-width="0.9" fill="none"/><circle cx="328" cy="46.52" r="1.3" fill="none" stroke="#4cb8ae" stroke-width="0.8"/><path d="M333.1 45.73V50.73M331.4 45.73h3.4M331.4 50.73h3.4" stroke="#4cb8ae" stroke-width="0.9" fill="none"/><circle cx="333.1" cy="48.23" r="1.3" fill="none" stroke="#4cb8ae" stroke-width="0.8"/><path d="M338.2 50.39V55.39M336.5 50.39h3.4M336.5 55.39h3.4" stroke="#4cb8ae" stroke-width="0.9" fill="none"/><circle cx="338.2" cy="52.89" r="1.3" fill="none" stroke="#4cb8ae" stroke-width="0.8"/><path d="M343.3 57.91V62.91M341.6 57.91h3.4M341.6 62.91h3.4" stroke="#4cb8ae" stroke-width="0.9" fill="none"/><circle cx="343.3" cy="60.41" r="1.3" fill="none" stroke="#4cb8ae" stroke-width="0.8"/><path d="M348.4 63.68V68.68M346.7 63.68h3.4M346.7 68.68h3.4" stroke="#4cb8ae" stroke-width="0.9" fill="none"/><circle cx="348.4" cy="66.18" r="1.3" fill="none" stroke="#4cb8ae" stroke-width="0.8"/><path d="M353.5 71.44V76.44M351.8 71.44h3.4M351.8 76.44h3.4" stroke="#4cb8ae" stroke-width="0.9" fill="none"/><circle cx="353.5" cy="73.94" r="1.3" fill="none" stroke="#4cb8ae" stroke-width="0.8"/><path d="M358.6 78.31V83.31M356.9 78.31h3.4M356.9 83.31h3.4" stroke="#4cb8ae" stroke-width="0.9" fill="none"/><circle cx="358.6" cy="80.81" r="1.3" fill="none" stroke="#4cb8ae" stroke-width="0.8"/><path d="M363.7 83.73V88.73M362 83.73h3.4M362 88.73h3.4" stroke="#4cb8ae" stroke-width="0.9" fill="none"/><circle cx="363.7" cy="86.23" r="1.3" fill="none" stroke="#4cb8ae" stroke-width="0.8"/><path d="M368.8 85.4V90.4M367.1 85.4h3.4M367.1 90.4h3.4" stroke="#4cb8ae" stroke-width="0.9" fill="none"/><circle cx="368.8" cy="87.9" r="1.3" fill="none" stroke="#4cb8ae" stroke-width="0.8"/><path d="M373.9 86.16V91.16M372.2 86.16h3.4M372.2 91.16h3.4" stroke="#4cb8ae" stroke-width="0.9" fill="none"/><circle cx="373.9" cy="88.66" r="1.3" fill="none" stroke="#4cb8ae" stroke-width="0.8"/><path d="M379 85.85V90.85M377.3 85.85h3.4M377.3 90.85h3.4" stroke="#4cb8ae" stroke-width="0.9" fill="none"/><circle cx="379" cy="88.35" r="1.3" fill="none" stroke="#4cb8ae" stroke-width="0.8"/><path d="M329.4 39.3V46.7M327.7 39.3h3.4M327.7 46.7h3.4" stroke="#4cb8ae" stroke-width="0.9" fill="none"/><circle cx="329.4" cy="43" r="1.3" fill="none" stroke="#4cb8ae" stroke-width="0.8"/></g>
<g><path d="M226 116.04V120.04M224.3 116.04h3.4M224.3 120.04h3.4" stroke="#7f909c" stroke-width="0.9" fill="none"/><circle cx="226" cy="118.04" r="1.0" fill="none" stroke="#7f909c" stroke-width="0.8"/><path d="M231.1 115.23V119.23M229.4 115.23h3.4M229.4 119.23h3.4" stroke="#7f909c" stroke-width="0.9" fill="none"/><circle cx="231.1" cy="117.23" r="1.0" fill="none" stroke="#7f909c" stroke-width="0.8"/><path d="M236.2 117.08V121.08M234.5 117.08h3.4M234.5 121.08h3.4" stroke="#7f909c" stroke-width="0.9" fill="none"/><circle cx="236.2" cy="119.08" r="1.0" fill="none" stroke="#7f909c" stroke-width="0.8"/><path d="M241.3 114.45V118.45M239.6 114.45h3.4M239.6 118.45h3.4" stroke="#7f909c" stroke-width="0.9" fill="none"/><circle cx="241.3" cy="116.45" r="1.0" fill="none" stroke="#7f909c" stroke-width="0.8"/><path d="M246.4 116.52V120.52M244.7 116.52h3.4M244.7 120.52h3.4" stroke="#7f909c" stroke-width="0.9" fill="none"/><circle cx="246.4" cy="118.52" r="1.0" fill="none" stroke="#7f909c" stroke-width="0.8"/><path d="M251.5 113.82V117.82M249.8 113.82h3.4M249.8 117.82h3.4" stroke="#7f909c" stroke-width="0.9" fill="none"/><circle cx="251.5" cy="115.82" r="1.0" fill="none" stroke="#7f909c" stroke-width="0.8"/><path d="M256.6 114.52V118.52M254.9 114.52h3.4M254.9 118.52h3.4" stroke="#7f909c" stroke-width="0.9" fill="none"/><circle cx="256.6" cy="116.52" r="1.0" fill="none" stroke="#7f909c" stroke-width="0.8"/><path d="M261.7 113.85V117.85M260 113.85h3.4M260 117.85h3.4" stroke="#7f909c" stroke-width="0.9" fill="none"/><circle cx="261.7" cy="115.85" r="1.0" fill="none" stroke="#7f909c" stroke-width="0.8"/><path d="M266.8 112.19V116.19M265.1 112.19h3.4M265.1 116.19h3.4" stroke="#7f909c" stroke-width="0.9" fill="none"/><circle cx="266.8" cy="114.19" r="1.0" fill="none" stroke="#7f909c" stroke-width="0.8"/><path d="M271.9 110.05V114.05M270.2 110.05h3.4M270.2 114.05h3.4" stroke="#7f909c" stroke-width="0.9" fill="none"/><circle cx="271.9" cy="112.05" r="1.0" fill="none" stroke="#7f909c" stroke-width="0.8"/><path d="M277 111.01V115.01M275.3 111.01h3.4M275.3 115.01h3.4" stroke="#7f909c" stroke-width="0.9" fill="none"/><circle cx="277" cy="113.01" r="1.0" fill="none" stroke="#7f909c" stroke-width="0.8"/><path d="M282.1 118.53V122.53M280.4 118.53h3.4M280.4 122.53h3.4" stroke="#7f909c" stroke-width="0.9" fill="none"/><circle cx="282.1" cy="120.53" r="1.0" fill="none" stroke="#7f909c" stroke-width="0.8"/><path d="M287.2 108.55V112.55M285.5 108.55h3.4M285.5 112.55h3.4" stroke="#7f909c" stroke-width="0.9" fill="none"/><circle cx="287.2" cy="110.55" r="1.0" fill="none" stroke="#7f909c" stroke-width="0.8"/><path d="M292.3 108.64V112.64M290.6 108.64h3.4M290.6 112.64h3.4" stroke="#7f909c" stroke-width="0.9" fill="none"/><circle cx="292.3" cy="110.64" r="1.0" fill="none" stroke="#7f909c" stroke-width="0.8"/><path d="M297.4 108.24V112.24M295.7 108.24h3.4M295.7 112.24h3.4" stroke="#7f909c" stroke-width="0.9" fill="none"/><circle cx="297.4" cy="110.24" r="1.0" fill="none" stroke="#7f909c" stroke-width="0.8"/><path d="M302.5 107.3V111.3M300.8 107.3h3.4M300.8 111.3h3.4" stroke="#7f909c" stroke-width="0.9" fill="none"/><circle cx="302.5" cy="109.3" r="1.0" fill="none" stroke="#7f909c" stroke-width="0.8"/><path d="M307.6 106.86V110.86M305.9 106.86h3.4M305.9 110.86h3.4" stroke="#7f909c" stroke-width="0.9" fill="none"/><circle cx="307.6" cy="108.86" r="1.0" fill="none" stroke="#7f909c" stroke-width="0.8"/><path d="M312.7 105.38V109.38M311 105.38h3.4M311 109.38h3.4" stroke="#7f909c" stroke-width="0.9" fill="none"/><circle cx="312.7" cy="107.38" r="1.0" fill="none" stroke="#7f909c" stroke-width="0.8"/><path d="M317.8 103.88V107.88M316.1 103.88h3.4M316.1 107.88h3.4" stroke="#7f909c" stroke-width="0.9" fill="none"/><circle cx="317.8" cy="105.88" r="1.0" fill="none" stroke="#7f909c" stroke-width="0.8"/><path d="M322.9 102.73V106.73M321.2 102.73h3.4M321.2 106.73h3.4" stroke="#7f909c" stroke-width="0.9" fill="none"/><circle cx="322.9" cy="104.73" r="1.0" fill="none" stroke="#7f909c" stroke-width="0.8"/><path d="M328 100.19V104.19M326.3 100.19h3.4M326.3 104.19h3.4" stroke="#7f909c" stroke-width="0.9" fill="none"/><circle cx="328" cy="102.19" r="1.0" fill="none" stroke="#7f909c" stroke-width="0.8"/><path d="M333.1 100.43V104.43M331.4 100.43h3.4M331.4 104.43h3.4" stroke="#7f909c" stroke-width="0.9" fill="none"/><circle cx="333.1" cy="102.43" r="1.0" fill="none" stroke="#7f909c" stroke-width="0.8"/><path d="M338.2 98.57V102.57M336.5 98.57h3.4M336.5 102.57h3.4" stroke="#7f909c" stroke-width="0.9" fill="none"/><circle cx="338.2" cy="100.57" r="1.0" fill="none" stroke="#7f909c" stroke-width="0.8"/><path d="M343.3 105.16V109.16M341.6 105.16h3.4M341.6 109.16h3.4" stroke="#7f909c" stroke-width="0.9" fill="none"/><circle cx="343.3" cy="107.16" r="1.0" fill="none" stroke="#7f909c" stroke-width="0.8"/><path d="M348.4 91.27V95.27M346.7 91.27h3.4M346.7 95.27h3.4" stroke="#7f909c" stroke-width="0.9" fill="none"/><circle cx="348.4" cy="93.27" r="1.0" fill="none" stroke="#7f909c" stroke-width="0.8"/><path d="M353.5 95.87V99.87M351.8 95.87h3.4M351.8 99.87h3.4" stroke="#7f909c" stroke-width="0.9" fill="none"/><circle cx="353.5" cy="97.87" r="1.0" fill="none" stroke="#7f909c" stroke-width="0.8"/><path d="M358.6 93.79V97.79M356.9 93.79h3.4M356.9 97.79h3.4" stroke="#7f909c" stroke-width="0.9" fill="none"/><circle cx="358.6" cy="95.79" r="1.0" fill="none" stroke="#7f909c" stroke-width="0.8"/><path d="M363.7 93.12V97.12M362 93.12h3.4M362 97.12h3.4" stroke="#7f909c" stroke-width="0.9" fill="none"/><circle cx="363.7" cy="95.12" r="1.0" fill="none" stroke="#7f909c" stroke-width="0.8"/><path d="M368.8 88.99V92.99M367.1 88.99h3.4M367.1 92.99h3.4" stroke="#7f909c" stroke-width="0.9" fill="none"/><circle cx="368.8" cy="90.99" r="1.0" fill="none" stroke="#7f909c" stroke-width="0.8"/><path d="M373.9 87.48V91.48M372.2 87.48h3.4M372.2 91.48h3.4" stroke="#7f909c" stroke-width="0.9" fill="none"/><circle cx="373.9" cy="89.48" r="1.0" fill="none" stroke="#7f909c" stroke-width="0.8"/><path d="M379 86.52V90.52M377.3 86.52h3.4M377.3 90.52h3.4" stroke="#7f909c" stroke-width="0.9" fill="none"/><circle cx="379" cy="88.52" r="1.0" fill="none" stroke="#7f909c" stroke-width="0.8"/></g>
<path d="M225.4 120.98 L225.9 120.95 L226.4 120.92 L226.9 120.89 L227.4 120.86 L227.9 120.83 L228.4 120.8 L228.9 120.77 L229.4 120.74 L229.9 120.71 L230.4 120.68 L230.9 120.65 L231.4 120.62 L231.9 120.59 L232.4 120.56 L232.9 120.53 L233.4 120.5 L233.9 120.47 L234.4 120.44 L234.9 120.41 L235.4 120.38 L235.9 120.35 L236.4 120.32 L236.9 120.29 L237.4 120.26 L237.9 120.23 L238.4 120.2 L238.9 120.17 L239.4 120.14 L239.9 120.11 L240.4 120.08 L240.9 120.05 L241.4 120.02 L241.9 119.99 L242.4 119.96 L242.9 119.93 L243.4 119.9 L243.9 119.87 L244.4 119.84 L244.9 119.81 L245.4 119.78 L245.9 119.75 L246.4 119.72 L246.9 119.69 L247.4 119.66 L247.9 119.63 L248.4 119.6 L248.9 119.57 L249.4 119.54 L249.9 119.51 L250.4 119.48 L250.9 119.45 L251.4 119.42 L251.9 119.39 L252.4 119.36 L252.9 119.33 L253.4 119.3 L253.9 119.27 L254.4 119.24 L254.9 119.21 L255.4 119.12 L255.9 119.02 L256.4 118.92 L256.9 118.82 L257.4 118.72 L257.9 118.62 L258.4 118.52 L258.9 118.42 L259.4 118.32 L259.9 118.22 L260.4 118.12 L260.9 118.02 L261.4 117.93 L261.9 117.83 L262.4 117.73 L262.9 117.63 L263.4 117.53 L263.9 117.43 L264.4 117.33 L264.9 117.23 L265.4 117.13 L265.9 117.03 L266.4 116.93 L266.9 116.83 L267.4 116.73 L267.9 116.63 L268.4 116.53 L268.9 116.43 L269.4 116.33 L269.9 116.23 L270.4 116.13 L270.9 116.03 L271.4 115.93 L271.9 115.83 L272.4 115.73 L272.9 115.63 L273.4 115.53 L273.9 115.44 L274.4 115.34 L274.9 115.24 L275.4 115.14 L275.9 115.04 L276.4 114.94 L276.9 114.84 L277.4 114.74 L277.9 114.64 L278.4 114.54 L278.9 114.44 L279.4 114.34 L279.9 114.25 L280.4 114.18 L280.9 114.1 L281.4 114.02 L281.9 113.95 L282.4 113.87 L282.9 113.79 L283.4 113.72 L283.9 113.64 L284.4 113.56 L284.9 113.49 L285.4 113.41 L285.9 113.33 L286.4 113.26 L286.9 113.18 L287.4 113.1 L287.9 113.03 L288.4 112.95 L288.9 112.87 L289.4 112.8 L289.9 112.72 L290.4 112.64 L290.9 112.57 L291.4 112.49 L291.9 112.41 L292.4 112.34 L292.9 112.26 L293.4 112.18 L293.9 112.11 L294.4 112.03 L294.9 111.95 L295.4 111.88 L295.9 111.8 L296.4 111.72 L296.9 111.65 L297.4 111.57 L297.9 111.49 L298.4 111.42 L298.9 111.34 L299.4 111.26 L299.9 111.19 L300.4 111.11 L300.9 111.03 L301.4 110.96 L301.9 110.88 L302.4 110.8 L302.9 110.73 L303.4 110.65 L303.9 110.57 L304.4 110.5 L304.9 110.42 L305.4 110.34 L305.9 110.27 L306.4 110.19 L306.9 110.11 L307.4 110.04 L307.9 109.96 L308.4 109.88 L308.9 109.81 L309.4 109.73 L309.9 109.63 L310.4 109.52 L310.9 109.4 L311.4 109.29 L311.9 109.17 L312.4 109.06 L312.9 108.94 L313.4 108.83 L313.9 108.71 L314.4 108.6 L314.9 108.48 L315.4 108.37 L315.9 108.25 L316.4 108.14 L316.9 108.02 L317.4 107.91 L317.9 107.79 L318.4 107.68 L318.9 107.56 L319.4 107.45 L319.9 107.33 L320.4 107.22 L320.9 107.1 L321.4 106.99 L321.9 106.87 L322.4 106.76 L322.9 106.64 L323.4 106.53 L323.9 106.41 L324.4 106.3 L324.9 106.18 L325.4 106.07 L325.9 105.95 L326.4 105.84 L326.9 105.72 L327.4 105.61 L327.9 105.49 L328.4 105.38 L328.9 105.26 L329.4 105.15 L329.9 105.03 L330.4 104.92 L330.9 104.8 L331.4 104.69 L331.9 104.57 L332.4 104.46 L332.9 104.34 L333.4 104.23 L333.9 104.11 L334.4 104 L334.9 103.88 L335.4 103.77 L335.9 103.65 L336.4 103.54 L336.9 103.42 L337.4 103.29 L337.9 103.16 L338.4 103.02 L338.9 102.88 L339.4 102.75 L339.9 102.61 L340.4 102.48 L340.9 102.34 L341.4 102.21 L341.9 102.07 L342.4 101.94 L342.9 101.8 L343.4 101.67 L343.9 101.53 L344.4 101.39 L344.9 101.26 L345.4 101.12 L345.9 100.99 L346.4 100.85 L346.9 100.72 L347.4 100.58 L347.9 100.45 L348.4 100.31 L348.9 100.17 L349.4 100.04 L349.9 99.9 L350.4 99.77 L350.9 99.63 L351.4 99.5 L351.9 99.36 L352.4 99.23 L352.9 99.09 L353.4 98.95 L353.9 98.82 L354.4 98.68 L354.9 98.55 L355.4 98.41 L355.9 98.28 L356.4 98.14 L356.9 98.01 L357.4 97.87 L357.9 97.73 L358.4 97.6 L358.9 97.46 L359.4 97.33 L359.9 97.19 L360.4 97.06 L360.9 96.92 L361.4 96.79 L361.9 96.65 L362.4 96.52 L362.9 96.38 L363.4 96.24 L363.9 96.11 L364.4 95.96 L364.9 95.76 L365.4 95.56 L365.9 95.36 L366.4 95.16 L366.9 94.95 L367.4 94.75 L367.9 94.55 L368.4 94.35 L368.9 94.15 L369.4 93.95 L369.9 93.75 L370.4 93.55 L370.9 93.34 L371.4 93.14 L371.9 92.94 L372.4 92.74 L372.9 92.54 L373.4 92.34 L373.9 92.14 L374.4 91.94 L374.9 91.73 L375.4 91.53 L375.9 91.33 L376.4 91.13 L376.9 90.93 L377.4 90.73 L377.9 90.53 L378.4 90.33 L378.9 90.13 L379.4 89.92 L379.9 89.72 L380.4 89.52 L380.9 89.32" stroke="#1f3f55" stroke-width="1.6" fill="none" stroke-linejoin="round" />
<path d="M225.4 120.98 L225.9 120.95 L226.4 120.92 L226.9 120.89 L227.4 120.86 L227.9 120.83 L228.4 120.8 L228.9 120.77 L229.4 120.74 L229.9 120.71 L230.4 120.68 L230.9 120.65 L231.4 120.62 L231.9 120.59 L232.4 120.56 L232.9 120.53 L233.4 120.5 L233.9 120.47 L234.4 120.44 L234.9 120.41 L235.4 120.38 L235.9 120.35 L236.4 120.32 L236.9 120.29 L237.4 120.26 L237.9 120.23 L238.4 120.2 L238.9 120.17 L239.4 120.14 L239.9 120.11 L240.4 120.08 L240.9 120.05 L241.4 120.02 L241.9 119.99 L242.4 119.96 L242.9 119.93 L243.4 119.9 L243.9 119.87 L244.4 119.84 L244.9 119.81 L245.4 119.77 L245.9 119.74 L246.4 119.71 L246.9 119.68 L247.4 119.65 L247.9 119.62 L248.4 119.59 L248.9 119.56 L249.4 119.53 L249.9 119.5 L250.4 119.47 L250.9 119.44 L251.4 119.41 L251.9 119.38 L252.4 119.35 L252.9 119.32 L253.4 119.29 L253.9 119.26 L254.4 119.23 L254.9 119.2 L255.4 119.11 L255.9 119.01 L256.4 118.91 L256.9 118.8 L257.4 118.7 L257.9 118.6 L258.4 118.5 L258.9 118.4 L259.4 118.29 L259.9 118.19 L260.4 118.09 L260.9 117.98 L261.4 117.88 L261.9 117.78 L262.4 117.67 L262.9 117.57 L263.4 117.46 L263.9 117.35 L264.4 117.24 L264.9 117.14 L265.4 117.03 L265.9 116.92 L266.4 116.81 L266.9 116.69 L267.4 116.58 L267.9 116.47 L268.4 116.35 L268.9 116.23 L269.4 116.12 L269.9 115.99 L270.4 115.87 L270.9 115.75 L271.4 115.62 L271.9 115.49 L272.4 115.36 L272.9 115.23 L273.4 115.09 L273.9 114.95 L274.4 114.81 L274.9 114.66 L275.4 114.52 L275.9 114.36 L276.4 114.2 L276.9 114.04 L277.4 113.88 L277.9 113.71 L278.4 113.53 L278.9 113.35 L279.4 113.16 L279.9 112.98 L280.4 112.8 L280.9 112.62 L281.4 112.43 L281.9 112.23 L282.4 112.02 L282.9 111.81 L283.4 111.59 L283.9 111.36 L284.4 111.11 L284.9 110.86 L285.4 110.6 L285.9 110.33 L286.4 110.04 L286.9 109.75 L287.4 109.44 L287.9 109.12 L288.4 108.79 L288.9 108.44 L289.4 108.08 L289.9 107.71 L290.4 107.32 L290.9 106.92 L291.4 106.5 L291.9 106.06 L292.4 105.61 L292.9 105.14 L293.4 104.66 L293.9 104.16 L294.4 103.64 L294.9 103.1 L295.4 102.54 L295.9 101.97 L296.4 101.37 L296.9 100.76 L297.4 100.13 L297.9 99.48 L298.4 98.82 L298.9 98.13 L299.4 97.42 L299.9 96.7 L300.4 95.95 L300.9 95.19 L301.4 94.41 L301.9 93.61 L302.4 92.8 L302.9 91.97 L303.4 91.12 L303.9 90.25 L304.4 89.37 L304.9 88.48 L305.4 87.57 L305.9 86.64 L306.4 85.71 L306.9 84.76 L307.4 83.8 L307.9 82.83 L308.4 81.85 L308.9 80.87 L309.4 79.88 L309.9 78.86 L310.4 77.82 L310.9 76.78 L311.4 75.74 L311.9 74.7 L312.4 73.66 L312.9 72.62 L313.4 71.59 L313.9 70.57 L314.4 69.55 L314.9 68.54 L315.4 67.55 L315.9 66.56 L316.4 65.59 L316.9 64.64 L317.4 63.7 L317.9 62.79 L318.4 61.89 L318.9 61.02 L319.4 60.17 L319.9 59.34 L320.4 58.55 L320.9 57.78 L321.4 57.04 L321.9 56.33 L322.4 55.65 L322.9 55.01 L323.4 54.4 L323.9 53.83 L324.4 53.3 L324.9 52.8 L325.4 52.34 L325.9 51.92 L326.4 51.55 L326.9 51.21 L327.4 50.91 L327.9 50.66 L328.4 50.45 L328.9 50.28 L329.4 50.15 L329.9 50.07 L330.4 50.03 L330.9 50.04 L331.4 50.1 L331.9 50.2 L332.4 50.34 L332.9 50.53 L333.4 50.77 L333.9 51.04 L334.4 51.36 L334.9 51.72 L335.4 52.12 L335.9 52.56 L336.4 53.03 L336.9 53.54 L337.4 54.06 L337.9 54.62 L338.4 55.2 L338.9 55.82 L339.4 56.46 L339.9 57.13 L340.4 57.82 L340.9 58.53 L341.4 59.26 L341.9 60.02 L342.4 60.78 L342.9 61.57 L343.4 62.36 L343.9 63.17 L344.4 63.98 L344.9 64.81 L345.4 65.63 L345.9 66.47 L346.4 67.3 L346.9 68.13 L347.4 68.97 L347.9 69.8 L348.4 70.62 L348.9 71.44 L349.4 72.25 L349.9 73.06 L350.4 73.85 L350.9 74.63 L351.4 75.4 L351.9 76.16 L352.4 76.91 L352.9 77.63 L353.4 78.35 L353.9 79.04 L354.4 79.72 L354.9 80.38 L355.4 81.02 L355.9 81.64 L356.4 82.24 L356.9 82.83 L357.4 83.39 L357.9 83.93 L358.4 84.45 L358.9 84.95 L359.4 85.43 L359.9 85.89 L360.4 86.33 L360.9 86.75 L361.4 87.15 L361.9 87.52 L362.4 87.88 L362.9 88.22 L363.4 88.54 L363.9 88.84 L364.4 89.1 L364.9 89.3 L365.4 89.48 L365.9 89.64 L366.4 89.78 L366.9 89.91 L367.4 90.02 L367.9 90.12 L368.4 90.2 L368.9 90.26 L369.4 90.32 L369.9 90.35 L370.4 90.38 L370.9 90.39 L371.4 90.39 L371.9 90.38 L372.4 90.36 L372.9 90.33 L373.4 90.28 L373.9 90.23 L374.4 90.17 L374.9 90.1 L375.4 90.02 L375.9 89.93 L376.4 89.84 L376.9 89.74 L377.4 89.63 L377.9 89.51 L378.4 89.39 L378.9 89.27 L379.4 89.13 L379.9 89 L380.4 88.86 L380.9 88.71" stroke="#12978a" stroke-width="1.6" fill="none" stroke-linejoin="round" />
<rect x="225.4" y="33.4" width="155.6" height="103.6" fill="none" stroke="#000" stroke-width="1.6"/><path d="M225.4 137v-3.0M225.4 33.4v3.0M235.77 137v-2.2M235.77 33.4v2.2M246.14 137v-2.2M246.14 33.4v2.2M256.51 137v-2.2M256.51 33.4v2.2M266.88 137v-2.2M266.88 33.4v2.2M277.25 137v-3.0M277.25 33.4v3.0M287.62 137v-2.2M287.62 33.4v2.2M297.99 137v-2.2M297.99 33.4v2.2M308.36 137v-2.2M308.36 33.4v2.2M318.73 137v-2.2M318.73 33.4v2.2M329.1 137v-3.0M329.1 33.4v3.0M339.47 137v-2.2M339.47 33.4v2.2M349.84 137v-2.2M349.84 33.4v2.2M360.21 137v-2.2M360.21 33.4v2.2M370.58 137v-2.2M370.58 33.4v2.2M380.95 137v-3.0M380.95 33.4v3.0M225.4 137h3.0M381 137h-3.0M225.4 130.1h2.2M381 130.1h-2.2M225.4 123.2h2.2M381 123.2h-2.2M225.4 116.3h2.2M381 116.3h-2.2M225.4 109.4h2.2M381 109.4h-2.2M225.4 102.5h3.0M381 102.5h-3.0M225.4 95.6h2.2M381 95.6h-2.2M225.4 88.7h2.2M381 88.7h-2.2M225.4 81.8h2.2M381 81.8h-2.2M225.4 74.9h2.2M381 74.9h-2.2M225.4 68h3.0M381 68h-3.0M225.4 61.1h2.2M381 61.1h-2.2M225.4 54.2h2.2M381 54.2h-2.2M225.4 47.3h2.2M381 47.3h-2.2M225.4 40.4h2.2M381 40.4h-2.2M225.4 33.5h3.0M381 33.5h-3.0" stroke="#000" stroke-width="1.1" fill="none"/>
<text x="225.4" y="147.6" font-size="9.0" text-anchor="middle" font-weight="normal" fill="#111" stroke="#111" stroke-width="0.38" >-0.5</text>
<text x="277.25" y="147.6" font-size="9.0" text-anchor="middle" font-weight="normal" fill="#111" stroke="#111" stroke-width="0.38" >-0.4</text>
<text x="329.1" y="147.6" font-size="9.0" text-anchor="middle" font-weight="normal" fill="#111" stroke="#111" stroke-width="0.38" >-0.3</text>
<text x="380.95" y="147.6" font-size="9.0" text-anchor="middle" font-weight="normal" fill="#111" stroke="#111" stroke-width="0.38" >-0.2</text>
<text x="223.3" y="140.6" font-size="9.0" text-anchor="end" font-weight="normal" fill="#111" stroke="#111" stroke-width="0.38" >0</text>
<text x="223.3" y="106.1" font-size="9.0" text-anchor="end" font-weight="normal" fill="#111" stroke="#111" stroke-width="0.38" >200</text>
<text x="223.3" y="71.6" font-size="9.0" text-anchor="end" font-weight="normal" fill="#111" stroke="#111" stroke-width="0.38" >400</text>
<text x="303.7" y="157.8" font-size="9.6" text-anchor="middle" font-weight="normal" fill="#111" stroke="#111" stroke-width="0.38" ><tspan font-style="italic">L</tspan> in [0 0 L] (r.l.u.)</text>
<text x="0" y="0" font-size="9.6" text-anchor="middle" font-weight="normal" fill="#111" stroke="#111" stroke-width="0.38" transform="translate(205 85.1) rotate(-90)">Intensity (a.u.)</text>
<rect x="234" y="41.8" width="40.5" height="22.2" rx="3.2" ry="3.2" fill="#fff" stroke="#333" stroke-width="1.2"/>
<path d="M241 44.7V51.3M239.2 44.7h3.6M239.2 51.3h3.6" stroke="#4cb8ae" stroke-width="0.9" fill="none"/><circle cx="241" cy="48" r="1.3" fill="none" stroke="#4cb8ae" stroke-width="0.8"/>
<path d="M241 54V60.6M239.2 54h3.6M239.2 60.6h3.6" stroke="#7f909c" stroke-width="0.9" fill="none"/>
<text x="247.2" y="50.6" font-size="7.3" text-anchor="start" font-weight="normal" fill="#111" stroke="#111" stroke-width="0.2" >I(4.5K)</text>
<text x="247.2" y="59.9" font-size="7.3" text-anchor="start" font-weight="normal" fill="#111" stroke="#111" stroke-width="0.2" >I(60K)</text>
<path d="M52.6 173.4V277M80.3 173.4V277M108 173.4V277M135.7 173.4V277M163.4 173.4V277M36 248.25H191.5M36 219.5H191.5M36 190.75H191.5" stroke="#dcdcdc" stroke-width="1.2" fill="none"/>
<g><path d="M38 181.6V198.5M36.2 181.6h3.6M36.2 198.5h3.6" stroke="#4cb8ae" stroke-width="1.0" fill="none"/><circle cx="38" cy="190" r="1.3" fill="none" stroke="#4cb8ae" stroke-width="0.8"/><path d="M44.5 183.6V201.7M42.7 183.6h3.6M42.7 201.7h3.6" stroke="#4cb8ae" stroke-width="1.0" fill="none"/><circle cx="44.5" cy="192" r="1.3" fill="none" stroke="#4cb8ae" stroke-width="0.8"/><path d="M49.6 179.7V197.7M47.8 179.7h3.6M47.8 197.7h3.6" stroke="#4cb8ae" stroke-width="1.0" fill="none"/><circle cx="49.6" cy="188.6" r="1.3" fill="none" stroke="#4cb8ae" stroke-width="0.8"/><path d="M54.9 186V204M53.1 186h3.6M53.1 204h3.6" stroke="#4cb8ae" stroke-width="1.0" fill="none"/><circle cx="54.9" cy="195.3" r="1.3" fill="none" stroke="#4cb8ae" stroke-width="0.8"/><path d="M60.8 189.4V209.3M59 189.4h3.6M59 209.3h3.6" stroke="#4cb8ae" stroke-width="1.0" fill="none"/><circle cx="60.8" cy="199.3" r="1.3" fill="none" stroke="#4cb8ae" stroke-width="0.8"/><path d="M66.5 193.7V209M64.7 193.7h3.6M64.7 209h3.6" stroke="#4cb8ae" stroke-width="1.0" fill="none"/><circle cx="66.5" cy="201.3" r="1.3" fill="none" stroke="#4cb8ae" stroke-width="0.8"/><path d="M72.1 186.8V202.5M70.3 186.8h3.6M70.3 202.5h3.6" stroke="#4cb8ae" stroke-width="1.0" fill="none"/><circle cx="72.1" cy="194.5" r="1.3" fill="none" stroke="#4cb8ae" stroke-width="0.8"/><path d="M77.4 190.8V210.6M75.6 190.8h3.6M75.6 210.6h3.6" stroke="#4cb8ae" stroke-width="1.0" fill="none"/><circle cx="77.4" cy="201" r="1.3" fill="none" stroke="#4cb8ae" stroke-width="0.8"/><path d="M80.6 194.5V211.4M78.8 194.5h3.6M78.8 211.4h3.6" stroke="#4cb8ae" stroke-width="1.0" fill="none"/><circle cx="80.6" cy="203.4" r="1.3" fill="none" stroke="#4cb8ae" stroke-width="0.8"/><path d="M94.3 193.7V211.9M92.5 193.7h3.6M92.5 211.9h3.6" stroke="#4cb8ae" stroke-width="1.0" fill="none"/><circle cx="94.3" cy="202.5" r="1.3" fill="none" stroke="#4cb8ae" stroke-width="0.8"/><path d="M108.1 211.5V225.5M106.3 211.5h3.6M106.3 225.5h3.6" stroke="#4cb8ae" stroke-width="1.0" fill="none"/><circle cx="108.1" cy="218.5" r="1.3" fill="none" stroke="#4cb8ae" stroke-width="0.8"/><path d="M121.6 217.5V232M119.8 217.5h3.6M119.8 232h3.6" stroke="#4cb8ae" stroke-width="1.0" fill="none"/><circle cx="121.6" cy="224.4" r="1.3" fill="none" stroke="#4cb8ae" stroke-width="0.8"/><path d="M135.7 229V243.7M133.9 229h3.6M133.9 243.7h3.6" stroke="#4cb8ae" stroke-width="1.0" fill="none"/><circle cx="135.7" cy="237.3" r="1.3" fill="none" stroke="#4cb8ae" stroke-width="0.8"/><path d="M149.8 241V256.6M148 241h3.6M148 256.6h3.6" stroke="#4cb8ae" stroke-width="1.0" fill="none"/><circle cx="149.8" cy="248.8" r="1.3" fill="none" stroke="#4cb8ae" stroke-width="0.8"/><path d="M155.5 247V261M153.7 247h3.6M153.7 261h3.6" stroke="#4cb8ae" stroke-width="1.0" fill="none"/><circle cx="155.5" cy="254" r="1.3" fill="none" stroke="#4cb8ae" stroke-width="0.8"/><path d="M161.4 255.3V270M159.6 255.3h3.6M159.6 270h3.6" stroke="#4cb8ae" stroke-width="1.0" fill="none"/><circle cx="161.4" cy="263" r="1.3" fill="none" stroke="#4cb8ae" stroke-width="0.8"/><path d="M167 219.3V276.3M165.2 219.3h3.6M165.2 276.3h3.6" stroke="#4cb8ae" stroke-width="1.0" fill="none"/><circle cx="167" cy="276.3" r="1.3" fill="none" stroke="#4cb8ae" stroke-width="0.8"/><path d="M172.2 259.6V276.3M170.4 259.6h3.6M170.4 276.3h3.6" stroke="#4cb8ae" stroke-width="1.0" fill="none"/><circle cx="172.2" cy="276.3" r="1.3" fill="none" stroke="#4cb8ae" stroke-width="0.8"/><path d="M178 274V276.3M176.2 274h3.6M176.2 276.3h3.6" stroke="#4cb8ae" stroke-width="1.0" fill="none"/><circle cx="178" cy="276.3" r="1.3" fill="none" stroke="#4cb8ae" stroke-width="0.8"/><path d="M183.8 269.4V276.3M182 269.4h3.6M182 276.3h3.6" stroke="#4cb8ae" stroke-width="1.0" fill="none"/><circle cx="183.8" cy="276.3" r="1.3" fill="none" stroke="#4cb8ae" stroke-width="0.8"/><path d="M189 252.7V276.3M187.2 252.7h3.6M187.2 276.3h3.6" stroke="#4cb8ae" stroke-width="1.0" fill="none"/><circle cx="189" cy="265.5" r="1.3" fill="none" stroke="#4cb8ae" stroke-width="0.8"/></g>
<path d="M38 188.2 L39.63 188.68 L41.67 189.24 L44.04 189.9 L46.71 190.63 L49.61 191.43 L52.7 192.29 L55.91 193.22 L59.2 194.2 L62.51 195.22 L65.78 196.28 L68.96 197.38 L72 198.5 L75.04 199.7 L78.23 201.01 L81.54 202.42 L84.9 203.89 L88.28 205.41 L91.64 206.95 L94.93 208.49 L98.11 210.01 L101.13 211.48 L103.95 212.89 L106.52 214.2 L108.8 215.4 L110.77 216.5 L112.48 217.53 L113.95 218.5 L115.23 219.42 L116.35 220.29 L117.35 221.12 L118.27 221.93 L119.14 222.7 L120 223.46 L120.89 224.21 L121.84 224.95 L122.9 225.7 L124.01 226.42 L125.11 227.07 L126.19 227.69 L127.26 228.27 L128.32 228.83 L129.38 229.39 L130.43 229.95 L131.47 230.54 L132.52 231.17 L133.58 231.85 L134.63 232.58 L135.7 233.4 L136.77 234.27 L137.85 235.17 L138.92 236.11 L140 237.08 L141.07 238.08 L142.15 239.12 L143.23 240.21 L144.3 241.33 L145.38 242.5 L146.45 243.72 L147.53 244.98 L148.6 246.3 L149.68 247.71 L150.77 249.25 L151.87 250.88 L152.97 252.58 L154.07 254.32 L155.16 256.09 L156.25 257.84 L157.32 259.57 L158.38 261.23 L159.41 262.81 L160.42 264.27 L161.4 265.6 L162.38 266.83 L163.38 268 L164.39 269.13 L165.4 270.2 L166.39 271.21 L167.35 272.16 L168.27 273.04 L169.12 273.84 L169.91 274.58 L170.61 275.24 L171.21 275.81 L171.7 276.3" stroke="#12978a" stroke-width="1.7" fill="none" stroke-linejoin="round" stroke-dasharray="4 2.6"/>
<rect x="36" y="173.4" width="155.5" height="103.6" fill="none" stroke="#000" stroke-width="1.6"/><path d="M35.98 277v-2.2M35.98 173.4v2.2M41.52 277v-2.2M41.52 173.4v2.2M47.06 277v-2.2M47.06 173.4v2.2M52.6 277v-3.0M52.6 173.4v3.0M58.14 277v-2.2M58.14 173.4v2.2M63.68 277v-2.2M63.68 173.4v2.2M69.22 277v-2.2M69.22 173.4v2.2M74.76 277v-2.2M74.76 173.4v2.2M80.3 277v-3.0M80.3 173.4v3.0M85.84 277v-2.2M85.84 173.4v2.2M91.38 277v-2.2M91.38 173.4v2.2M96.92 277v-2.2M96.92 173.4v2.2M102.46 277v-2.2M102.46 173.4v2.2M108 277v-3.0M108 173.4v3.0M113.54 277v-2.2M113.54 173.4v2.2M119.08 277v-2.2M119.08 173.4v2.2M124.62 277v-2.2M124.62 173.4v2.2M130.16 277v-2.2M130.16 173.4v2.2M135.7 277v-3.0M135.7 173.4v3.0M141.24 277v-2.2M141.24 173.4v2.2M146.78 277v-2.2M146.78 173.4v2.2M152.32 277v-2.2M152.32 173.4v2.2M157.86 277v-2.2M157.86 173.4v2.2M163.4 277v-3.0M163.4 173.4v3.0M168.94 277v-2.2M168.94 173.4v2.2M174.48 277v-2.2M174.48 173.4v2.2M180.02 277v-2.2M180.02 173.4v2.2M185.56 277v-2.2M185.56 173.4v2.2M191.1 277v-3.0M191.1 173.4v3.0M36 277h3.0M191.5 277h-3.0M36 271.25h2.2M191.5 271.25h-2.2M36 265.5h2.2M191.5 265.5h-2.2M36 259.75h2.2M191.5 259.75h-2.2M36 254h2.2M191.5 254h-2.2M36 248.25h3.0M191.5 248.25h-3.0M36 242.5h2.2M191.5 242.5h-2.2M36 236.75h2.2M191.5 236.75h-2.2M36 231h2.2M191.5 231h-2.2M36 225.25h2.2M191.5 225.25h-2.2M36 219.5h3.0M191.5 219.5h-3.0M36 213.75h2.2M191.5 213.75h-2.2M36 208h2.2M191.5 208h-2.2M36 202.25h2.2M191.5 202.25h-2.2M36 196.5h2.2M191.5 196.5h-2.2M36 190.75h3.0M191.5 190.75h-3.0M36 185h2.2M191.5 185h-2.2M36 179.25h2.2M191.5 179.25h-2.2M36 173.5h2.2M191.5 173.5h-2.2" stroke="#000" stroke-width="1.1" fill="none"/>
<text x="52.6" y="287.6" font-size="9.0" text-anchor="middle" font-weight="normal" fill="#111" stroke="#111" stroke-width="0.38" >10</text>
<text x="80.3" y="287.6" font-size="9.0" text-anchor="middle" font-weight="normal" fill="#111" stroke="#111" stroke-width="0.38" >20</text>
<text x="108" y="287.6" font-size="9.0" text-anchor="middle" font-weight="normal" fill="#111" stroke="#111" stroke-width="0.38" >30</text>
<text x="135.7" y="287.6" font-size="9.0" text-anchor="middle" font-weight="normal" fill="#111" stroke="#111" stroke-width="0.38" >40</text>
<text x="163.4" y="287.6" font-size="9.0" text-anchor="middle" font-weight="normal" fill="#111" stroke="#111" stroke-width="0.38" >50</text>
<text x="191.1" y="287.6" font-size="9.0" text-anchor="middle" font-weight="normal" fill="#111" stroke="#111" stroke-width="0.38" >60</text>
<text x="33.8" y="280.6" font-size="9.0" text-anchor="end" font-weight="normal" fill="#111" stroke="#111" stroke-width="0.38" >0</text>
<text x="33.8" y="251.85" font-size="9.0" text-anchor="end" font-weight="normal" fill="#111" stroke="#111" stroke-width="0.38" >5</text>
<text x="33.8" y="223.1" font-size="9.0" text-anchor="end" font-weight="normal" fill="#111" stroke="#111" stroke-width="0.38" >10</text>
<text x="33.8" y="194.35" font-size="9.0" text-anchor="end" font-weight="normal" fill="#111" stroke="#111" stroke-width="0.38" >15</text>
<text x="114.3" y="297.8" font-size="9.6" text-anchor="middle" font-weight="normal" fill="#111" stroke="#111" stroke-width="0.38" ><tspan font-style="italic">T</tspan> (K)</text>
<text x="0" y="0" font-size="9.6" text-anchor="middle" font-weight="normal" fill="#111" stroke="#111" stroke-width="0.38" transform="translate(19.6 225.6) rotate(-90)">Intensity (a.u.)</text>
<path d="M246 173.4V277M280.8 173.4V277M315.6 173.4V277M350.4 173.4V277M225.4 266.65H381M225.4 245.95H381M225.4 204.55H381M225.4 183.85H381" stroke="#dcdcdc" stroke-width="1.2" fill="none"/>
<g opacity="0.85"><path d="M225.12 227.11V231.05M223.82 227.11h2.6M223.82 231.05h2.6" stroke="#6cc4bb" stroke-width="0.7" fill="none"/><path d="M226.16 223.25V228.92M224.86 223.25h2.6M224.86 228.92h2.6" stroke="#6cc4bb" stroke-width="0.7" fill="none"/><path d="M227.21 210.82V219.65M225.91 210.82h2.6M225.91 219.65h2.6" stroke="#6cc4bb" stroke-width="0.7" fill="none"/><path d="M228.25 221.75V228.03M226.95 221.75h2.6M226.95 228.03h2.6" stroke="#6cc4bb" stroke-width="0.7" fill="none"/><path d="M229.3 212.61V217.47M228 212.61h2.6M228 217.47h2.6" stroke="#6cc4bb" stroke-width="0.7" fill="none"/><path d="M230.34 218.82V223.96M229.04 218.82h2.6M229.04 223.96h2.6" stroke="#6cc4bb" stroke-width="0.7" fill="none"/><path d="M231.38 222.3V228.15M230.08 222.3h2.6M230.08 228.15h2.6" stroke="#6cc4bb" stroke-width="0.7" fill="none"/><path d="M232.43 220.83V226.84M231.13 220.83h2.6M231.13 226.84h2.6" stroke="#6cc4bb" stroke-width="0.7" fill="none"/><path d="M233.47 219.29V222.32M232.17 219.29h2.6M232.17 222.32h2.6" stroke="#6cc4bb" stroke-width="0.7" fill="none"/><path d="M234.52 219.6V224.19M233.22 219.6h2.6M233.22 224.19h2.6" stroke="#6cc4bb" stroke-width="0.7" fill="none"/><path d="M235.56 221.5V224.75M234.26 221.5h2.6M234.26 224.75h2.6" stroke="#6cc4bb" stroke-width="0.7" fill="none"/><path d="M236.6 224.64V227.77M235.3 224.64h2.6M235.3 227.77h2.6" stroke="#6cc4bb" stroke-width="0.7" fill="none"/><path d="M237.65 219.29V225.81M236.35 219.29h2.6M236.35 225.81h2.6" stroke="#6cc4bb" stroke-width="0.7" fill="none"/><path d="M238.69 222.14V228.32M237.39 222.14h2.6M237.39 228.32h2.6" stroke="#6cc4bb" stroke-width="0.7" fill="none"/><path d="M239.74 227.36V234.66M238.44 227.36h2.6M238.44 234.66h2.6" stroke="#6cc4bb" stroke-width="0.7" fill="none"/><path d="M240.78 223.8V232.07M239.48 223.8h2.6M239.48 232.07h2.6" stroke="#6cc4bb" stroke-width="0.7" fill="none"/><path d="M241.82 218.56V227.47M240.52 218.56h2.6M240.52 227.47h2.6" stroke="#6cc4bb" stroke-width="0.7" fill="none"/><path d="M242.87 224.21V228.11M241.57 224.21h2.6M241.57 228.11h2.6" stroke="#6cc4bb" stroke-width="0.7" fill="none"/><path d="M243.91 229.19V232.45M242.61 229.19h2.6M242.61 232.45h2.6" stroke="#6cc4bb" stroke-width="0.7" fill="none"/><path d="M244.96 216.94V224.96M243.66 216.94h2.6M243.66 224.96h2.6" stroke="#6cc4bb" stroke-width="0.7" fill="none"/><path d="M246 225.02V232.42M244.7 225.02h2.6M244.7 232.42h2.6" stroke="#6cc4bb" stroke-width="0.7" fill="none"/><path d="M247.04 218.24V226.12M245.74 218.24h2.6M245.74 226.12h2.6" stroke="#6cc4bb" stroke-width="0.7" fill="none"/><path d="M248.09 218.56V224.59M246.79 218.56h2.6M246.79 224.59h2.6" stroke="#6cc4bb" stroke-width="0.7" fill="none"/><path d="M249.13 218.77V226.78M247.83 218.77h2.6M247.83 226.78h2.6" stroke="#6cc4bb" stroke-width="0.7" fill="none"/><path d="M250.18 228.93V235.43M248.88 228.93h2.6M248.88 235.43h2.6" stroke="#6cc4bb" stroke-width="0.7" fill="none"/><path d="M251.22 223.55V231.9M249.92 223.55h2.6M249.92 231.9h2.6" stroke="#6cc4bb" stroke-width="0.7" fill="none"/><path d="M252.26 228.58V232.96M250.96 228.58h2.6M250.96 232.96h2.6" stroke="#6cc4bb" stroke-width="0.7" fill="none"/><path d="M253.31 221.16V224.35M252.01 221.16h2.6M252.01 224.35h2.6" stroke="#6cc4bb" stroke-width="0.7" fill="none"/><path d="M254.35 220.67V224.3M253.05 220.67h2.6M253.05 224.3h2.6" stroke="#6cc4bb" stroke-width="0.7" fill="none"/><path d="M255.4 226.4V234.42M254.1 226.4h2.6M254.1 234.42h2.6" stroke="#6cc4bb" stroke-width="0.7" fill="none"/><path d="M256.44 223.86V230.62M255.14 223.86h2.6M255.14 230.62h2.6" stroke="#6cc4bb" stroke-width="0.7" fill="none"/><path d="M257.48 222.03V229.11M256.18 222.03h2.6M256.18 229.11h2.6" stroke="#6cc4bb" stroke-width="0.7" fill="none"/><path d="M258.53 221.34V229.12M257.23 221.34h2.6M257.23 229.12h2.6" stroke="#6cc4bb" stroke-width="0.7" fill="none"/><path d="M259.57 226.37V233.86M258.27 226.37h2.6M258.27 233.86h2.6" stroke="#6cc4bb" stroke-width="0.7" fill="none"/><path d="M260.62 221.86V228.82M259.32 221.86h2.6M259.32 228.82h2.6" stroke="#6cc4bb" stroke-width="0.7" fill="none"/><path d="M261.66 223.8V227.2M260.36 223.8h2.6M260.36 227.2h2.6" stroke="#6cc4bb" stroke-width="0.7" fill="none"/><path d="M262.7 226.51V229.96M261.4 226.51h2.6M261.4 229.96h2.6" stroke="#6cc4bb" stroke-width="0.7" fill="none"/><path d="M263.75 223.3V227.89M262.45 223.3h2.6M262.45 227.89h2.6" stroke="#6cc4bb" stroke-width="0.7" fill="none"/><path d="M264.79 224.17V231.61M263.49 224.17h2.6M263.49 231.61h2.6" stroke="#6cc4bb" stroke-width="0.7" fill="none"/><path d="M265.84 224.68V233.54M264.54 224.68h2.6M264.54 233.54h2.6" stroke="#6cc4bb" stroke-width="0.7" fill="none"/><path d="M266.88 222.17V228.04M265.58 222.17h2.6M265.58 228.04h2.6" stroke="#6cc4bb" stroke-width="0.7" fill="none"/><path d="M267.92 221.12V228.22M266.62 221.12h2.6M266.62 228.22h2.6" stroke="#6cc4bb" stroke-width="0.7" fill="none"/><path d="M268.97 227.24V234.1M267.67 227.24h2.6M267.67 234.1h2.6" stroke="#6cc4bb" stroke-width="0.7" fill="none"/><path d="M270.01 221.71V225.17M268.71 221.71h2.6M268.71 225.17h2.6" stroke="#6cc4bb" stroke-width="0.7" fill="none"/><path d="M271.06 219.11V226.57M269.76 219.11h2.6M269.76 226.57h2.6" stroke="#6cc4bb" stroke-width="0.7" fill="none"/><path d="M272.1 223.4V228.23M270.8 223.4h2.6M270.8 228.23h2.6" stroke="#6cc4bb" stroke-width="0.7" fill="none"/><path d="M273.14 223.83V227.19M271.84 223.83h2.6M271.84 227.19h2.6" stroke="#6cc4bb" stroke-width="0.7" fill="none"/><path d="M274.19 225.79V230.4M272.89 225.79h2.6M272.89 230.4h2.6" stroke="#6cc4bb" stroke-width="0.7" fill="none"/><path d="M275.23 227.05V234.1M273.93 227.05h2.6M273.93 234.1h2.6" stroke="#6cc4bb" stroke-width="0.7" fill="none"/><path d="M276.28 227.25V232M274.98 227.25h2.6M274.98 232h2.6" stroke="#6cc4bb" stroke-width="0.7" fill="none"/><path d="M277.32 222.81V228.61M276.02 222.81h2.6M276.02 228.61h2.6" stroke="#6cc4bb" stroke-width="0.7" fill="none"/><path d="M278.36 221.34V225.05M277.06 221.34h2.6M277.06 225.05h2.6" stroke="#6cc4bb" stroke-width="0.7" fill="none"/><path d="M279.41 222.44V231.31M278.11 222.44h2.6M278.11 231.31h2.6" stroke="#6cc4bb" stroke-width="0.7" fill="none"/><path d="M280.45 216.61V225.23M279.15 216.61h2.6M279.15 225.23h2.6" stroke="#6cc4bb" stroke-width="0.7" fill="none"/><path d="M281.5 220.81V228.73M280.2 220.81h2.6M280.2 228.73h2.6" stroke="#6cc4bb" stroke-width="0.7" fill="none"/><path d="M282.54 223.8V232.61M281.24 223.8h2.6M281.24 232.61h2.6" stroke="#6cc4bb" stroke-width="0.7" fill="none"/><path d="M283.58 222.15V226.41M282.28 222.15h2.6M282.28 226.41h2.6" stroke="#6cc4bb" stroke-width="0.7" fill="none"/><path d="M284.63 219.64V228.32M283.33 219.64h2.6M283.33 228.32h2.6" stroke="#6cc4bb" stroke-width="0.7" fill="none"/><path d="M285.67 218.29V222.14M284.37 218.29h2.6M284.37 222.14h2.6" stroke="#6cc4bb" stroke-width="0.7" fill="none"/><path d="M286.72 220.17V226.32M285.42 220.17h2.6M285.42 226.32h2.6" stroke="#6cc4bb" stroke-width="0.7" fill="none"/><path d="M287.76 221.9V229.82M286.46 221.9h2.6M286.46 229.82h2.6" stroke="#6cc4bb" stroke-width="0.7" fill="none"/><path d="M288.8 217.58V223.63M287.5 217.58h2.6M287.5 223.63h2.6" stroke="#6cc4bb" stroke-width="0.7" fill="none"/><path d="M289.85 227.06V231.44M288.55 227.06h2.6M288.55 231.44h2.6" stroke="#6cc4bb" stroke-width="0.7" fill="none"/><path d="M290.89 221.94V230.32M289.59 221.94h2.6M289.59 230.32h2.6" stroke="#6cc4bb" stroke-width="0.7" fill="none"/><path d="M291.94 223.66V226.68M290.64 223.66h2.6M290.64 226.68h2.6" stroke="#6cc4bb" stroke-width="0.7" fill="none"/><path d="M292.98 225.45V231.4M291.68 225.45h2.6M291.68 231.4h2.6" stroke="#6cc4bb" stroke-width="0.7" fill="none"/><path d="M294.02 222.31V226.16M292.72 222.31h2.6M292.72 226.16h2.6" stroke="#6cc4bb" stroke-width="0.7" fill="none"/><path d="M295.07 225.76V230.82M293.77 225.76h2.6M293.77 230.82h2.6" stroke="#6cc4bb" stroke-width="0.7" fill="none"/><path d="M296.11 216.85V219.86M294.81 216.85h2.6M294.81 219.86h2.6" stroke="#6cc4bb" stroke-width="0.7" fill="none"/><path d="M297.16 220.44V227.95M295.86 220.44h2.6M295.86 227.95h2.6" stroke="#6cc4bb" stroke-width="0.7" fill="none"/><path d="M298.2 222.66V231.21M296.9 222.66h2.6M296.9 231.21h2.6" stroke="#6cc4bb" stroke-width="0.7" fill="none"/><path d="M299.24 218.96V226.24M297.94 218.96h2.6M297.94 226.24h2.6" stroke="#6cc4bb" stroke-width="0.7" fill="none"/><path d="M300.29 224.52V229.75M298.99 224.52h2.6M298.99 229.75h2.6" stroke="#6cc4bb" stroke-width="0.7" fill="none"/><path d="M301.33 217.33V222.68M300.03 217.33h2.6M300.03 222.68h2.6" stroke="#6cc4bb" stroke-width="0.7" fill="none"/><path d="M302.38 222.71V227.87M301.08 222.71h2.6M301.08 227.87h2.6" stroke="#6cc4bb" stroke-width="0.7" fill="none"/><path d="M303.42 222.66V228.23M302.12 222.66h2.6M302.12 228.23h2.6" stroke="#6cc4bb" stroke-width="0.7" fill="none"/><path d="M304.46 222.22V225.83M303.16 222.22h2.6M303.16 225.83h2.6" stroke="#6cc4bb" stroke-width="0.7" fill="none"/><path d="M305.51 223.29V231.3M304.21 223.29h2.6M304.21 231.3h2.6" stroke="#6cc4bb" stroke-width="0.7" fill="none"/><path d="M306.55 214.02V218.52M305.25 214.02h2.6M305.25 218.52h2.6" stroke="#6cc4bb" stroke-width="0.7" fill="none"/><path d="M307.6 225.5V230.09M306.3 225.5h2.6M306.3 230.09h2.6" stroke="#6cc4bb" stroke-width="0.7" fill="none"/><path d="M308.64 222.81V228.05M307.34 222.81h2.6M307.34 228.05h2.6" stroke="#6cc4bb" stroke-width="0.7" fill="none"/><path d="M309.68 215.51V224.25M308.38 215.51h2.6M308.38 224.25h2.6" stroke="#6cc4bb" stroke-width="0.7" fill="none"/><path d="M310.73 226.64V233.42M309.43 226.64h2.6M309.43 233.42h2.6" stroke="#6cc4bb" stroke-width="0.7" fill="none"/><path d="M311.77 216.39V224.87M310.47 216.39h2.6M310.47 224.87h2.6" stroke="#6cc4bb" stroke-width="0.7" fill="none"/><path d="M312.82 223.4V230.72M311.52 223.4h2.6M311.52 230.72h2.6" stroke="#6cc4bb" stroke-width="0.7" fill="none"/><path d="M313.86 224.08V227.37M312.56 224.08h2.6M312.56 227.37h2.6" stroke="#6cc4bb" stroke-width="0.7" fill="none"/><path d="M314.9 225.77V233.29M313.6 225.77h2.6M313.6 233.29h2.6" stroke="#6cc4bb" stroke-width="0.7" fill="none"/><path d="M315.95 222.1V228.96M314.65 222.1h2.6M314.65 228.96h2.6" stroke="#6cc4bb" stroke-width="0.7" fill="none"/><path d="M316.99 219.76V228.32M315.69 219.76h2.6M315.69 228.32h2.6" stroke="#6cc4bb" stroke-width="0.7" fill="none"/><path d="M318.04 226.92V230.69M316.74 226.92h2.6M316.74 230.69h2.6" stroke="#6cc4bb" stroke-width="0.7" fill="none"/><path d="M319.08 222.23V227.02M317.78 222.23h2.6M317.78 227.02h2.6" stroke="#6cc4bb" stroke-width="0.7" fill="none"/><path d="M320.12 218.51V225.95M318.82 218.51h2.6M318.82 225.95h2.6" stroke="#6cc4bb" stroke-width="0.7" fill="none"/><path d="M321.17 222.24V229.17M319.87 222.24h2.6M319.87 229.17h2.6" stroke="#6cc4bb" stroke-width="0.7" fill="none"/><path d="M322.21 226.53V231.34M320.91 226.53h2.6M320.91 231.34h2.6" stroke="#6cc4bb" stroke-width="0.7" fill="none"/><path d="M323.26 224.64V228.64M321.96 224.64h2.6M321.96 228.64h2.6" stroke="#6cc4bb" stroke-width="0.7" fill="none"/><path d="M324.3 221.03V225M323 221.03h2.6M323 225h2.6" stroke="#6cc4bb" stroke-width="0.7" fill="none"/><path d="M325.34 214V219.99M324.04 214h2.6M324.04 219.99h2.6" stroke="#6cc4bb" stroke-width="0.7" fill="none"/><path d="M326.39 212.1V216.42M325.09 212.1h2.6M325.09 216.42h2.6" stroke="#6cc4bb" stroke-width="0.7" fill="none"/><path d="M327.43 229.74V235.44M326.13 229.74h2.6M326.13 235.44h2.6" stroke="#6cc4bb" stroke-width="0.7" fill="none"/><path d="M328.48 222.72V226.56M327.18 222.72h2.6M327.18 226.56h2.6" stroke="#6cc4bb" stroke-width="0.7" fill="none"/><path d="M329.52 221.12V226.17M328.22 221.12h2.6M328.22 226.17h2.6" stroke="#6cc4bb" stroke-width="0.7" fill="none"/><path d="M330.56 223.27V226.82M329.26 223.27h2.6M329.26 226.82h2.6" stroke="#6cc4bb" stroke-width="0.7" fill="none"/><path d="M331.61 219.01V225.43M330.31 219.01h2.6M330.31 225.43h2.6" stroke="#6cc4bb" stroke-width="0.7" fill="none"/><path d="M332.65 221.1V229.42M331.35 221.1h2.6M331.35 229.42h2.6" stroke="#6cc4bb" stroke-width="0.7" fill="none"/><path d="M333.7 226.57V232.05M332.4 226.57h2.6M332.4 232.05h2.6" stroke="#6cc4bb" stroke-width="0.7" fill="none"/><path d="M334.74 224.73V230.88M333.44 224.73h2.6M333.44 230.88h2.6" stroke="#6cc4bb" stroke-width="0.7" fill="none"/><path d="M335.78 221.07V224.44M334.48 221.07h2.6M334.48 224.44h2.6" stroke="#6cc4bb" stroke-width="0.7" fill="none"/><path d="M336.83 220.92V225.58M335.53 220.92h2.6M335.53 225.58h2.6" stroke="#6cc4bb" stroke-width="0.7" fill="none"/><path d="M337.87 222.65V228.67M336.57 222.65h2.6M336.57 228.67h2.6" stroke="#6cc4bb" stroke-width="0.7" fill="none"/><path d="M338.92 220.07V226.85M337.62 220.07h2.6M337.62 226.85h2.6" stroke="#6cc4bb" stroke-width="0.7" fill="none"/><path d="M339.96 225.02V229.65M338.66 225.02h2.6M338.66 229.65h2.6" stroke="#6cc4bb" stroke-width="0.7" fill="none"/><path d="M341 226.46V230.95M339.7 226.46h2.6M339.7 230.95h2.6" stroke="#6cc4bb" stroke-width="0.7" fill="none"/><path d="M342.05 218.37V227.09M340.75 218.37h2.6M340.75 227.09h2.6" stroke="#6cc4bb" stroke-width="0.7" fill="none"/><path d="M343.09 220.63V228.72M341.79 220.63h2.6M341.79 228.72h2.6" stroke="#6cc4bb" stroke-width="0.7" fill="none"/><path d="M344.14 224.25V227.44M342.84 224.25h2.6M342.84 227.44h2.6" stroke="#6cc4bb" stroke-width="0.7" fill="none"/><path d="M345.18 218.09V225.35M343.88 218.09h2.6M343.88 225.35h2.6" stroke="#6cc4bb" stroke-width="0.7" fill="none"/><path d="M346.22 224.7V231.23M344.92 224.7h2.6M344.92 231.23h2.6" stroke="#6cc4bb" stroke-width="0.7" fill="none"/><path d="M347.27 230.73V233.74M345.97 230.73h2.6M345.97 233.74h2.6" stroke="#6cc4bb" stroke-width="0.7" fill="none"/><path d="M348.31 215.61V223.56M347.01 215.61h2.6M347.01 223.56h2.6" stroke="#6cc4bb" stroke-width="0.7" fill="none"/><path d="M349.36 218.26V226.39M348.06 218.26h2.6M348.06 226.39h2.6" stroke="#6cc4bb" stroke-width="0.7" fill="none"/><path d="M350.4 223.94V227.59M349.1 223.94h2.6M349.1 227.59h2.6" stroke="#6cc4bb" stroke-width="0.7" fill="none"/><path d="M351.44 229.18V233.11M350.14 229.18h2.6M350.14 233.11h2.6" stroke="#6cc4bb" stroke-width="0.7" fill="none"/><path d="M352.49 221.76V230.41M351.19 221.76h2.6M351.19 230.41h2.6" stroke="#6cc4bb" stroke-width="0.7" fill="none"/><path d="M353.53 225.61V232.94M352.23 225.61h2.6M352.23 232.94h2.6" stroke="#6cc4bb" stroke-width="0.7" fill="none"/><path d="M354.58 227.73V233.47M353.28 227.73h2.6M353.28 233.47h2.6" stroke="#6cc4bb" stroke-width="0.7" fill="none"/><path d="M355.62 215.44V221.75M354.32 215.44h2.6M354.32 221.75h2.6" stroke="#6cc4bb" stroke-width="0.7" fill="none"/><path d="M356.66 221.36V225.76M355.36 221.36h2.6M355.36 225.76h2.6" stroke="#6cc4bb" stroke-width="0.7" fill="none"/><path d="M357.71 223.03V231.55M356.41 223.03h2.6M356.41 231.55h2.6" stroke="#6cc4bb" stroke-width="0.7" fill="none"/><path d="M358.75 226.02V229.79M357.45 226.02h2.6M357.45 229.79h2.6" stroke="#6cc4bb" stroke-width="0.7" fill="none"/><path d="M359.8 226.99V231.5M358.5 226.99h2.6M358.5 231.5h2.6" stroke="#6cc4bb" stroke-width="0.7" fill="none"/><path d="M360.84 228.02V231.69M359.54 228.02h2.6M359.54 231.69h2.6" stroke="#6cc4bb" stroke-width="0.7" fill="none"/><path d="M361.88 228.68V232.1M360.58 228.68h2.6M360.58 232.1h2.6" stroke="#6cc4bb" stroke-width="0.7" fill="none"/><path d="M362.93 223.38V228.71M361.63 223.38h2.6M361.63 228.71h2.6" stroke="#6cc4bb" stroke-width="0.7" fill="none"/><path d="M363.97 223.54V227.88M362.67 223.54h2.6M362.67 227.88h2.6" stroke="#6cc4bb" stroke-width="0.7" fill="none"/><path d="M365.02 223.18V227.99M363.72 223.18h2.6M363.72 227.99h2.6" stroke="#6cc4bb" stroke-width="0.7" fill="none"/><path d="M366.06 216.9V222.66M364.76 216.9h2.6M364.76 222.66h2.6" stroke="#6cc4bb" stroke-width="0.7" fill="none"/><path d="M367.1 222.54V230.84M365.8 222.54h2.6M365.8 230.84h2.6" stroke="#6cc4bb" stroke-width="0.7" fill="none"/><path d="M368.15 222.04V227.89M366.85 222.04h2.6M366.85 227.89h2.6" stroke="#6cc4bb" stroke-width="0.7" fill="none"/><path d="M369.19 217.92V226.68M367.89 217.92h2.6M367.89 226.68h2.6" stroke="#6cc4bb" stroke-width="0.7" fill="none"/><path d="M370.24 221.93V229.16M368.94 221.93h2.6M368.94 229.16h2.6" stroke="#6cc4bb" stroke-width="0.7" fill="none"/><path d="M371.28 221.48V227.47M369.98 221.48h2.6M369.98 227.47h2.6" stroke="#6cc4bb" stroke-width="0.7" fill="none"/><path d="M372.32 224.38V231.43M371.02 224.38h2.6M371.02 231.43h2.6" stroke="#6cc4bb" stroke-width="0.7" fill="none"/><path d="M373.37 220.29V227.29M372.07 220.29h2.6M372.07 227.29h2.6" stroke="#6cc4bb" stroke-width="0.7" fill="none"/><path d="M374.41 220.82V229.37M373.11 220.82h2.6M373.11 229.37h2.6" stroke="#6cc4bb" stroke-width="0.7" fill="none"/><path d="M375.46 221.71V226.74M374.16 221.71h2.6M374.16 226.74h2.6" stroke="#6cc4bb" stroke-width="0.7" fill="none"/><path d="M376.5 223.56V229.09M375.2 223.56h2.6M375.2 229.09h2.6" stroke="#6cc4bb" stroke-width="0.7" fill="none"/><path d="M377.54 223.74V231.52M376.24 223.74h2.6M376.24 231.52h2.6" stroke="#6cc4bb" stroke-width="0.7" fill="none"/><path d="M378.59 224.2V231.63M377.29 224.2h2.6M377.29 231.63h2.6" stroke="#6cc4bb" stroke-width="0.7" fill="none"/><path d="M379.63 220.92V229.74M378.33 220.92h2.6M378.33 229.74h2.6" stroke="#6cc4bb" stroke-width="0.7" fill="none"/><path d="M380.68 221.6V226.47M379.38 221.6h2.6M379.38 226.47h2.6" stroke="#6cc4bb" stroke-width="0.7" fill="none"/></g>
<g><path d="M225.12 224.85V227.96M223.92 224.85h2.4M223.92 227.96h2.4" stroke="#2fa295" stroke-width="0.75" fill="none"/><path d="M225.5 221.61V224.96M224.3 221.61h2.4M224.3 224.96h2.4" stroke="#2fa295" stroke-width="0.75" fill="none"/><circle cx="225.5" cy="223.28" r="1.0" fill="none" stroke="#2fa295" stroke-width="0.8"/><path d="M225.89 224.31V227.42M224.69 224.31h2.4M224.69 227.42h2.4" stroke="#2fa295" stroke-width="0.75" fill="none"/><path d="M226.27 222.05V226.58M225.07 222.05h2.4M225.07 226.58h2.4" stroke="#2fa295" stroke-width="0.75" fill="none"/><circle cx="226.27" cy="224.31" r="1.0" fill="none" stroke="#2fa295" stroke-width="0.8"/><path d="M226.65 224.02V227.1M225.45 224.02h2.4M225.45 227.1h2.4" stroke="#2fa295" stroke-width="0.75" fill="none"/><path d="M227.03 223.24V226.09M225.83 223.24h2.4M225.83 226.09h2.4" stroke="#2fa295" stroke-width="0.75" fill="none"/><circle cx="227.03" cy="224.66" r="1.0" fill="none" stroke="#2fa295" stroke-width="0.8"/><path d="M227.42 222.41V227.69M226.22 222.41h2.4M226.22 227.69h2.4" stroke="#2fa295" stroke-width="0.75" fill="none"/><path d="M227.8 218.8V223.55M226.6 218.8h2.4M226.6 223.55h2.4" stroke="#2fa295" stroke-width="0.75" fill="none"/><circle cx="227.8" cy="221.18" r="1.0" fill="none" stroke="#2fa295" stroke-width="0.8"/><path d="M228.18 223.82V226.81M226.98 223.82h2.4M226.98 226.81h2.4" stroke="#2fa295" stroke-width="0.75" fill="none"/><path d="M228.57 220.31V225.1M227.37 220.31h2.4M227.37 225.1h2.4" stroke="#2fa295" stroke-width="0.75" fill="none"/><circle cx="228.57" cy="222.7" r="1.0" fill="none" stroke="#2fa295" stroke-width="0.8"/><path d="M228.95 222.93V226.53M227.75 222.93h2.4M227.75 226.53h2.4" stroke="#2fa295" stroke-width="0.75" fill="none"/><circle cx="228.95" cy="224.73" r="1.0" fill="none" stroke="#2fa295" stroke-width="0.8"/><path d="M229.33 222.35V225.3M228.13 222.35h2.4M228.13 225.3h2.4" stroke="#2fa295" stroke-width="0.75" fill="none"/><circle cx="229.33" cy="223.82" r="1.0" fill="none" stroke="#2fa295" stroke-width="0.8"/><path d="M229.71 222.5V227.95M228.51 222.5h2.4M228.51 227.95h2.4" stroke="#2fa295" stroke-width="0.75" fill="none"/><circle cx="229.71" cy="225.22" r="1.0" fill="none" stroke="#2fa295" stroke-width="0.8"/><path d="M230.1 222.07V227.56M228.9 222.07h2.4M228.9 227.56h2.4" stroke="#2fa295" stroke-width="0.75" fill="none"/><path d="M230.48 221.14V226.17M229.28 221.14h2.4M229.28 226.17h2.4" stroke="#2fa295" stroke-width="0.75" fill="none"/><path d="M230.86 225.65V228.2M229.66 225.65h2.4M229.66 228.2h2.4" stroke="#2fa295" stroke-width="0.75" fill="none"/><path d="M231.24 223.46V226.48M230.04 223.46h2.4M230.04 226.48h2.4" stroke="#2fa295" stroke-width="0.75" fill="none"/><circle cx="231.24" cy="224.97" r="1.0" fill="none" stroke="#2fa295" stroke-width="0.8"/><path d="M231.63 220.84V226.11M230.43 220.84h2.4M230.43 226.11h2.4" stroke="#2fa295" stroke-width="0.75" fill="none"/><path d="M232.01 222.48V227.33M230.81 222.48h2.4M230.81 227.33h2.4" stroke="#2fa295" stroke-width="0.75" fill="none"/><circle cx="232.01" cy="224.91" r="1.0" fill="none" stroke="#2fa295" stroke-width="0.8"/><path d="M232.39 220.34V222.85M231.19 220.34h2.4M231.19 222.85h2.4" stroke="#2fa295" stroke-width="0.75" fill="none"/><circle cx="232.39" cy="221.6" r="1.0" fill="none" stroke="#2fa295" stroke-width="0.8"/><path d="M232.78 221.34V226.13M231.58 221.34h2.4M231.58 226.13h2.4" stroke="#2fa295" stroke-width="0.75" fill="none"/><path d="M233.16 224.13V227.61M231.96 224.13h2.4M231.96 227.61h2.4" stroke="#2fa295" stroke-width="0.75" fill="none"/><path d="M233.54 219.25V222.49M232.34 219.25h2.4M232.34 222.49h2.4" stroke="#2fa295" stroke-width="0.75" fill="none"/><path d="M233.92 223.57V226.98M232.72 223.57h2.4M232.72 226.98h2.4" stroke="#2fa295" stroke-width="0.75" fill="none"/><path d="M234.31 222.43V227.77M233.11 222.43h2.4M233.11 227.77h2.4" stroke="#2fa295" stroke-width="0.75" fill="none"/><path d="M234.69 221.27V226.69M233.49 221.27h2.4M233.49 226.69h2.4" stroke="#2fa295" stroke-width="0.75" fill="none"/><path d="M235.07 222.32V227.79M233.87 222.32h2.4M233.87 227.79h2.4" stroke="#2fa295" stroke-width="0.75" fill="none"/><path d="M235.46 223.44V227.08M234.26 223.44h2.4M234.26 227.08h2.4" stroke="#2fa295" stroke-width="0.75" fill="none"/><path d="M235.84 220.7V226.07M234.64 220.7h2.4M234.64 226.07h2.4" stroke="#2fa295" stroke-width="0.75" fill="none"/><circle cx="235.84" cy="223.38" r="1.0" fill="none" stroke="#2fa295" stroke-width="0.8"/><path d="M236.22 223V227.97M235.02 223h2.4M235.02 227.97h2.4" stroke="#2fa295" stroke-width="0.75" fill="none"/><path d="M236.6 226.34V230.69M235.4 226.34h2.4M235.4 230.69h2.4" stroke="#2fa295" stroke-width="0.75" fill="none"/><circle cx="236.6" cy="228.51" r="1.0" fill="none" stroke="#2fa295" stroke-width="0.8"/><path d="M236.99 225.52V228.95M235.79 225.52h2.4M235.79 228.95h2.4" stroke="#2fa295" stroke-width="0.75" fill="none"/><circle cx="236.99" cy="227.24" r="1.0" fill="none" stroke="#2fa295" stroke-width="0.8"/><path d="M237.37 221.39V224.42M236.17 221.39h2.4M236.17 224.42h2.4" stroke="#2fa295" stroke-width="0.75" fill="none"/><path d="M237.75 223.23V226.42M236.55 223.23h2.4M236.55 226.42h2.4" stroke="#2fa295" stroke-width="0.75" fill="none"/><path d="M238.14 223.35V226.79M236.94 223.35h2.4M236.94 226.79h2.4" stroke="#2fa295" stroke-width="0.75" fill="none"/><path d="M238.52 221.26V226.49M237.32 221.26h2.4M237.32 226.49h2.4" stroke="#2fa295" stroke-width="0.75" fill="none"/><circle cx="238.52" cy="223.87" r="1.0" fill="none" stroke="#2fa295" stroke-width="0.8"/><path d="M238.9 224V226.71M237.7 224h2.4M237.7 226.71h2.4" stroke="#2fa295" stroke-width="0.75" fill="none"/><path d="M239.28 224.13V228.8M238.08 224.13h2.4M238.08 228.8h2.4" stroke="#2fa295" stroke-width="0.75" fill="none"/><path d="M239.67 222.64V227.02M238.47 222.64h2.4M238.47 227.02h2.4" stroke="#2fa295" stroke-width="0.75" fill="none"/><path d="M240.05 221.37V226.16M238.85 221.37h2.4M238.85 226.16h2.4" stroke="#2fa295" stroke-width="0.75" fill="none"/><circle cx="240.05" cy="223.76" r="1.0" fill="none" stroke="#2fa295" stroke-width="0.8"/><path d="M240.43 224.84V229.93M239.23 224.84h2.4M239.23 229.93h2.4" stroke="#2fa295" stroke-width="0.75" fill="none"/><circle cx="240.43" cy="227.38" r="1.0" fill="none" stroke="#2fa295" stroke-width="0.8"/><path d="M240.81 225.15V229.37M239.61 225.15h2.4M239.61 229.37h2.4" stroke="#2fa295" stroke-width="0.75" fill="none"/><circle cx="240.81" cy="227.26" r="1.0" fill="none" stroke="#2fa295" stroke-width="0.8"/><path d="M241.2 221.59V224.78M240 221.59h2.4M240 224.78h2.4" stroke="#2fa295" stroke-width="0.75" fill="none"/><circle cx="241.2" cy="223.19" r="1.0" fill="none" stroke="#2fa295" stroke-width="0.8"/><path d="M241.58 222.08V224.97M240.38 222.08h2.4M240.38 224.97h2.4" stroke="#2fa295" stroke-width="0.75" fill="none"/><circle cx="241.58" cy="223.52" r="1.0" fill="none" stroke="#2fa295" stroke-width="0.8"/><path d="M241.96 224.95V228.62M240.76 224.95h2.4M240.76 228.62h2.4" stroke="#2fa295" stroke-width="0.75" fill="none"/><path d="M242.35 222.86V226.89M241.15 222.86h2.4M241.15 226.89h2.4" stroke="#2fa295" stroke-width="0.75" fill="none"/><path d="M242.73 219.29V224.86M241.53 219.29h2.4M241.53 224.86h2.4" stroke="#2fa295" stroke-width="0.75" fill="none"/><circle cx="242.73" cy="222.07" r="1.0" fill="none" stroke="#2fa295" stroke-width="0.8"/><path d="M243.11 221.87V225.79M241.91 221.87h2.4M241.91 225.79h2.4" stroke="#2fa295" stroke-width="0.75" fill="none"/><path d="M243.49 227.04V229.57M242.29 227.04h2.4M242.29 229.57h2.4" stroke="#2fa295" stroke-width="0.75" fill="none"/><circle cx="243.49" cy="228.31" r="1.0" fill="none" stroke="#2fa295" stroke-width="0.8"/><path d="M243.88 222.11V224.89M242.68 222.11h2.4M242.68 224.89h2.4" stroke="#2fa295" stroke-width="0.75" fill="none"/><path d="M244.26 218.17V223.55M243.06 218.17h2.4M243.06 223.55h2.4" stroke="#2fa295" stroke-width="0.75" fill="none"/><circle cx="244.26" cy="220.86" r="1.0" fill="none" stroke="#2fa295" stroke-width="0.8"/><path d="M244.64 223.96V229.13M243.44 223.96h2.4M243.44 229.13h2.4" stroke="#2fa295" stroke-width="0.75" fill="none"/><path d="M245.03 222.11V227.53M243.83 222.11h2.4M243.83 227.53h2.4" stroke="#2fa295" stroke-width="0.75" fill="none"/><circle cx="245.03" cy="224.82" r="1.0" fill="none" stroke="#2fa295" stroke-width="0.8"/><path d="M245.41 224V228.3M244.21 224h2.4M244.21 228.3h2.4" stroke="#2fa295" stroke-width="0.75" fill="none"/><circle cx="245.41" cy="226.15" r="1.0" fill="none" stroke="#2fa295" stroke-width="0.8"/><path d="M245.79 224.67V227.52M244.59 224.67h2.4M244.59 227.52h2.4" stroke="#2fa295" stroke-width="0.75" fill="none"/><circle cx="245.79" cy="226.09" r="1.0" fill="none" stroke="#2fa295" stroke-width="0.8"/><path d="M246.17 225.71V228.93M244.97 225.71h2.4M244.97 228.93h2.4" stroke="#2fa295" stroke-width="0.75" fill="none"/><circle cx="246.17" cy="227.32" r="1.0" fill="none" stroke="#2fa295" stroke-width="0.8"/><path d="M246.56 225.53V227.96M245.36 225.53h2.4M245.36 227.96h2.4" stroke="#2fa295" stroke-width="0.75" fill="none"/><circle cx="246.56" cy="226.74" r="1.0" fill="none" stroke="#2fa295" stroke-width="0.8"/><path d="M246.94 222.36V226.93M245.74 222.36h2.4M245.74 226.93h2.4" stroke="#2fa295" stroke-width="0.75" fill="none"/><circle cx="246.94" cy="224.65" r="1.0" fill="none" stroke="#2fa295" stroke-width="0.8"/><path d="M247.32 221.38V226.32M246.12 221.38h2.4M246.12 226.32h2.4" stroke="#2fa295" stroke-width="0.75" fill="none"/><path d="M247.71 222.53V225.13M246.51 222.53h2.4M246.51 225.13h2.4" stroke="#2fa295" stroke-width="0.75" fill="none"/><path d="M248.09 221.98V226.42M246.89 221.98h2.4M246.89 226.42h2.4" stroke="#2fa295" stroke-width="0.75" fill="none"/><circle cx="248.09" cy="224.2" r="1.0" fill="none" stroke="#2fa295" stroke-width="0.8"/><path d="M248.47 224.4V227.32M247.27 224.4h2.4M247.27 227.32h2.4" stroke="#2fa295" stroke-width="0.75" fill="none"/><circle cx="248.47" cy="225.86" r="1.0" fill="none" stroke="#2fa295" stroke-width="0.8"/><path d="M248.85 225.26V228.64M247.65 225.26h2.4M247.65 228.64h2.4" stroke="#2fa295" stroke-width="0.75" fill="none"/><path d="M249.24 225.06V228.46M248.04 225.06h2.4M248.04 228.46h2.4" stroke="#2fa295" stroke-width="0.75" fill="none"/><path d="M249.62 223.34V228.5M248.42 223.34h2.4M248.42 228.5h2.4" stroke="#2fa295" stroke-width="0.75" fill="none"/><path d="M250 222.54V226.11M248.8 222.54h2.4M248.8 226.11h2.4" stroke="#2fa295" stroke-width="0.75" fill="none"/><circle cx="250" cy="224.33" r="1.0" fill="none" stroke="#2fa295" stroke-width="0.8"/><path d="M250.38 221.36V223.77M249.18 221.36h2.4M249.18 223.77h2.4" stroke="#2fa295" stroke-width="0.75" fill="none"/><path d="M250.77 222.6V226.36M249.57 222.6h2.4M249.57 226.36h2.4" stroke="#2fa295" stroke-width="0.75" fill="none"/><path d="M251.15 224.94V228.81M249.95 224.94h2.4M249.95 228.81h2.4" stroke="#2fa295" stroke-width="0.75" fill="none"/><circle cx="251.15" cy="226.87" r="1.0" fill="none" stroke="#2fa295" stroke-width="0.8"/><path d="M251.53 226.41V228.86M250.33 226.41h2.4M250.33 228.86h2.4" stroke="#2fa295" stroke-width="0.75" fill="none"/><path d="M251.92 224.71V227.39M250.72 224.71h2.4M250.72 227.39h2.4" stroke="#2fa295" stroke-width="0.75" fill="none"/><path d="M252.3 224.44V228.03M251.1 224.44h2.4M251.1 228.03h2.4" stroke="#2fa295" stroke-width="0.75" fill="none"/><circle cx="252.3" cy="226.24" r="1.0" fill="none" stroke="#2fa295" stroke-width="0.8"/><path d="M252.68 223.24V227.31M251.48 223.24h2.4M251.48 227.31h2.4" stroke="#2fa295" stroke-width="0.75" fill="none"/><path d="M253.06 227.05V229.8M251.86 227.05h2.4M251.86 229.8h2.4" stroke="#2fa295" stroke-width="0.75" fill="none"/><path d="M253.45 223.54V226.58M252.25 223.54h2.4M252.25 226.58h2.4" stroke="#2fa295" stroke-width="0.75" fill="none"/><circle cx="253.45" cy="225.06" r="1.0" fill="none" stroke="#2fa295" stroke-width="0.8"/><path d="M253.83 220.54V225.96M252.63 220.54h2.4M252.63 225.96h2.4" stroke="#2fa295" stroke-width="0.75" fill="none"/><circle cx="253.83" cy="223.25" r="1.0" fill="none" stroke="#2fa295" stroke-width="0.8"/><path d="M254.21 222.88V228.24M253.01 222.88h2.4M253.01 228.24h2.4" stroke="#2fa295" stroke-width="0.75" fill="none"/><circle cx="254.21" cy="225.56" r="1.0" fill="none" stroke="#2fa295" stroke-width="0.8"/><path d="M254.6 224.99V230.28M253.4 224.99h2.4M253.4 230.28h2.4" stroke="#2fa295" stroke-width="0.75" fill="none"/><circle cx="254.6" cy="227.64" r="1.0" fill="none" stroke="#2fa295" stroke-width="0.8"/><path d="M254.98 225.05V229.96M253.78 225.05h2.4M253.78 229.96h2.4" stroke="#2fa295" stroke-width="0.75" fill="none"/><circle cx="254.98" cy="227.5" r="1.0" fill="none" stroke="#2fa295" stroke-width="0.8"/><path d="M255.36 221.52V225.21M254.16 221.52h2.4M254.16 225.21h2.4" stroke="#2fa295" stroke-width="0.75" fill="none"/><circle cx="255.36" cy="223.37" r="1.0" fill="none" stroke="#2fa295" stroke-width="0.8"/><path d="M255.74 226.42V229.52M254.54 226.42h2.4M254.54 229.52h2.4" stroke="#2fa295" stroke-width="0.75" fill="none"/><circle cx="255.74" cy="227.97" r="1.0" fill="none" stroke="#2fa295" stroke-width="0.8"/><path d="M256.13 223.89V227.95M254.93 223.89h2.4M254.93 227.95h2.4" stroke="#2fa295" stroke-width="0.75" fill="none"/><circle cx="256.13" cy="225.92" r="1.0" fill="none" stroke="#2fa295" stroke-width="0.8"/><path d="M256.51 222.29V227.01M255.31 222.29h2.4M255.31 227.01h2.4" stroke="#2fa295" stroke-width="0.75" fill="none"/><path d="M256.89 226.72V229.25M255.69 226.72h2.4M255.69 229.25h2.4" stroke="#2fa295" stroke-width="0.75" fill="none"/><circle cx="256.89" cy="227.99" r="1.0" fill="none" stroke="#2fa295" stroke-width="0.8"/><path d="M257.28 223.84V228.92M256.08 223.84h2.4M256.08 228.92h2.4" stroke="#2fa295" stroke-width="0.75" fill="none"/><circle cx="257.28" cy="226.38" r="1.0" fill="none" stroke="#2fa295" stroke-width="0.8"/><path d="M257.66 225.44V229.76M256.46 225.44h2.4M256.46 229.76h2.4" stroke="#2fa295" stroke-width="0.75" fill="none"/><circle cx="257.66" cy="227.6" r="1.0" fill="none" stroke="#2fa295" stroke-width="0.8"/><path d="M258.04 224.14V227.89M256.84 224.14h2.4M256.84 227.89h2.4" stroke="#2fa295" stroke-width="0.75" fill="none"/><path d="M258.42 224.41V228.17M257.22 224.41h2.4M257.22 228.17h2.4" stroke="#2fa295" stroke-width="0.75" fill="none"/><path d="M258.81 225.62V228.1M257.61 225.62h2.4M257.61 228.1h2.4" stroke="#2fa295" stroke-width="0.75" fill="none"/><path d="M259.19 222.99V226.96M257.99 222.99h2.4M257.99 226.96h2.4" stroke="#2fa295" stroke-width="0.75" fill="none"/><path d="M259.57 220.34V224.21M258.37 220.34h2.4M258.37 224.21h2.4" stroke="#2fa295" stroke-width="0.75" fill="none"/><circle cx="259.57" cy="222.27" r="1.0" fill="none" stroke="#2fa295" stroke-width="0.8"/><path d="M259.95 222.57V226.49M258.75 222.57h2.4M258.75 226.49h2.4" stroke="#2fa295" stroke-width="0.75" fill="none"/><path d="M260.34 223.33V226.02M259.14 223.33h2.4M259.14 226.02h2.4" stroke="#2fa295" stroke-width="0.75" fill="none"/><path d="M260.72 220.81V224.84M259.52 220.81h2.4M259.52 224.84h2.4" stroke="#2fa295" stroke-width="0.75" fill="none"/><circle cx="260.72" cy="222.83" r="1.0" fill="none" stroke="#2fa295" stroke-width="0.8"/><path d="M261.1 222.24V226.99M259.9 222.24h2.4M259.9 226.99h2.4" stroke="#2fa295" stroke-width="0.75" fill="none"/><path d="M261.49 221.27V225.3M260.29 221.27h2.4M260.29 225.3h2.4" stroke="#2fa295" stroke-width="0.75" fill="none"/><circle cx="261.49" cy="223.29" r="1.0" fill="none" stroke="#2fa295" stroke-width="0.8"/><path d="M261.87 221.83V227.27M260.67 221.83h2.4M260.67 227.27h2.4" stroke="#2fa295" stroke-width="0.75" fill="none"/><circle cx="261.87" cy="224.55" r="1.0" fill="none" stroke="#2fa295" stroke-width="0.8"/><path d="M262.25 219.82V224.97M261.05 219.82h2.4M261.05 224.97h2.4" stroke="#2fa295" stroke-width="0.75" fill="none"/><path d="M262.63 223.81V226.83M261.43 223.81h2.4M261.43 226.83h2.4" stroke="#2fa295" stroke-width="0.75" fill="none"/><path d="M263.02 219.49V223.46M261.82 219.49h2.4M261.82 223.46h2.4" stroke="#2fa295" stroke-width="0.75" fill="none"/><circle cx="263.02" cy="221.48" r="1.0" fill="none" stroke="#2fa295" stroke-width="0.8"/><path d="M263.4 223.84V228.77M262.2 223.84h2.4M262.2 228.77h2.4" stroke="#2fa295" stroke-width="0.75" fill="none"/><path d="M263.78 225.7V228.31M262.58 225.7h2.4M262.58 228.31h2.4" stroke="#2fa295" stroke-width="0.75" fill="none"/><circle cx="263.78" cy="227" r="1.0" fill="none" stroke="#2fa295" stroke-width="0.8"/><path d="M264.17 220.23V225.5M262.97 220.23h2.4M262.97 225.5h2.4" stroke="#2fa295" stroke-width="0.75" fill="none"/><circle cx="264.17" cy="222.87" r="1.0" fill="none" stroke="#2fa295" stroke-width="0.8"/><path d="M264.55 221.46V226.47M263.35 221.46h2.4M263.35 226.47h2.4" stroke="#2fa295" stroke-width="0.75" fill="none"/><path d="M264.93 222.09V225.15M263.73 222.09h2.4M263.73 225.15h2.4" stroke="#2fa295" stroke-width="0.75" fill="none"/><circle cx="264.93" cy="223.62" r="1.0" fill="none" stroke="#2fa295" stroke-width="0.8"/><path d="M265.31 223.44V227.46M264.11 223.44h2.4M264.11 227.46h2.4" stroke="#2fa295" stroke-width="0.75" fill="none"/><circle cx="265.31" cy="225.45" r="1.0" fill="none" stroke="#2fa295" stroke-width="0.8"/><path d="M265.7 223.35V226.27M264.5 223.35h2.4M264.5 226.27h2.4" stroke="#2fa295" stroke-width="0.75" fill="none"/><path d="M266.08 222.12V226.69M264.88 222.12h2.4M264.88 226.69h2.4" stroke="#2fa295" stroke-width="0.75" fill="none"/><path d="M266.46 224.52V227.29M265.26 224.52h2.4M265.26 227.29h2.4" stroke="#2fa295" stroke-width="0.75" fill="none"/><path d="M266.85 225.31V229.74M265.65 225.31h2.4M265.65 229.74h2.4" stroke="#2fa295" stroke-width="0.75" fill="none"/><path d="M267.23 220.36V224.62M266.03 220.36h2.4M266.03 224.62h2.4" stroke="#2fa295" stroke-width="0.75" fill="none"/><path d="M267.61 221.4V224.14M266.41 221.4h2.4M266.41 224.14h2.4" stroke="#2fa295" stroke-width="0.75" fill="none"/><circle cx="267.61" cy="222.77" r="1.0" fill="none" stroke="#2fa295" stroke-width="0.8"/><path d="M267.99 222.88V227.84M266.79 222.88h2.4M266.79 227.84h2.4" stroke="#2fa295" stroke-width="0.75" fill="none"/><circle cx="267.99" cy="225.36" r="1.0" fill="none" stroke="#2fa295" stroke-width="0.8"/><path d="M268.38 223.94V229.51M267.18 223.94h2.4M267.18 229.51h2.4" stroke="#2fa295" stroke-width="0.75" fill="none"/><path d="M268.76 224.12V227.93M267.56 224.12h2.4M267.56 227.93h2.4" stroke="#2fa295" stroke-width="0.75" fill="none"/><circle cx="268.76" cy="226.03" r="1.0" fill="none" stroke="#2fa295" stroke-width="0.8"/><path d="M269.14 219.75V224.53M267.94 219.75h2.4M267.94 224.53h2.4" stroke="#2fa295" stroke-width="0.75" fill="none"/><circle cx="269.14" cy="222.14" r="1.0" fill="none" stroke="#2fa295" stroke-width="0.8"/><path d="M269.52 222.05V226.5M268.32 222.05h2.4M268.32 226.5h2.4" stroke="#2fa295" stroke-width="0.75" fill="none"/><path d="M269.91 223.9V228.17M268.71 223.9h2.4M268.71 228.17h2.4" stroke="#2fa295" stroke-width="0.75" fill="none"/><circle cx="269.91" cy="226.04" r="1.0" fill="none" stroke="#2fa295" stroke-width="0.8"/><path d="M270.29 225.3V227.81M269.09 225.3h2.4M269.09 227.81h2.4" stroke="#2fa295" stroke-width="0.75" fill="none"/><circle cx="270.29" cy="226.56" r="1.0" fill="none" stroke="#2fa295" stroke-width="0.8"/><path d="M270.67 224.99V229.36M269.47 224.99h2.4M269.47 229.36h2.4" stroke="#2fa295" stroke-width="0.75" fill="none"/><path d="M271.06 222.97V225.79M269.86 222.97h2.4M269.86 225.79h2.4" stroke="#2fa295" stroke-width="0.75" fill="none"/><circle cx="271.06" cy="224.38" r="1.0" fill="none" stroke="#2fa295" stroke-width="0.8"/><path d="M271.44 222.88V227.37M270.24 222.88h2.4M270.24 227.37h2.4" stroke="#2fa295" stroke-width="0.75" fill="none"/><circle cx="271.44" cy="225.12" r="1.0" fill="none" stroke="#2fa295" stroke-width="0.8"/><path d="M271.82 223.86V226.6M270.62 223.86h2.4M270.62 226.6h2.4" stroke="#2fa295" stroke-width="0.75" fill="none"/><circle cx="271.82" cy="225.23" r="1.0" fill="none" stroke="#2fa295" stroke-width="0.8"/><path d="M272.2 225.72V228.84M271 225.72h2.4M271 228.84h2.4" stroke="#2fa295" stroke-width="0.75" fill="none"/><circle cx="272.2" cy="227.28" r="1.0" fill="none" stroke="#2fa295" stroke-width="0.8"/><path d="M272.59 224.23V228.62M271.39 224.23h2.4M271.39 228.62h2.4" stroke="#2fa295" stroke-width="0.75" fill="none"/><path d="M272.97 222.62V225.45M271.77 222.62h2.4M271.77 225.45h2.4" stroke="#2fa295" stroke-width="0.75" fill="none"/><circle cx="272.97" cy="224.04" r="1.0" fill="none" stroke="#2fa295" stroke-width="0.8"/><path d="M273.35 224.41V227.11M272.15 224.41h2.4M272.15 227.11h2.4" stroke="#2fa295" stroke-width="0.75" fill="none"/><path d="M273.74 222.3V227.49M272.54 222.3h2.4M272.54 227.49h2.4" stroke="#2fa295" stroke-width="0.75" fill="none"/><circle cx="273.74" cy="224.89" r="1.0" fill="none" stroke="#2fa295" stroke-width="0.8"/><path d="M274.12 225.78V228.22M272.92 225.78h2.4M272.92 228.22h2.4" stroke="#2fa295" stroke-width="0.75" fill="none"/><path d="M274.5 224.64V228.84M273.3 224.64h2.4M273.3 228.84h2.4" stroke="#2fa295" stroke-width="0.75" fill="none"/><path d="M274.88 220.5V225.9M273.68 220.5h2.4M273.68 225.9h2.4" stroke="#2fa295" stroke-width="0.75" fill="none"/><path d="M275.27 223.22V226.41M274.07 223.22h2.4M274.07 226.41h2.4" stroke="#2fa295" stroke-width="0.75" fill="none"/><path d="M275.65 223.7V227.4M274.45 223.7h2.4M274.45 227.4h2.4" stroke="#2fa295" stroke-width="0.75" fill="none"/><circle cx="275.65" cy="225.55" r="1.0" fill="none" stroke="#2fa295" stroke-width="0.8"/><path d="M276.03 223.91V226.49M274.83 223.91h2.4M274.83 226.49h2.4" stroke="#2fa295" stroke-width="0.75" fill="none"/><path d="M276.42 222.82V228.23M275.22 222.82h2.4M275.22 228.23h2.4" stroke="#2fa295" stroke-width="0.75" fill="none"/><circle cx="276.42" cy="225.52" r="1.0" fill="none" stroke="#2fa295" stroke-width="0.8"/><path d="M276.8 225.36V228.4M275.6 225.36h2.4M275.6 228.4h2.4" stroke="#2fa295" stroke-width="0.75" fill="none"/><path d="M277.18 224.06V229.07M275.98 224.06h2.4M275.98 229.07h2.4" stroke="#2fa295" stroke-width="0.75" fill="none"/><circle cx="277.18" cy="226.56" r="1.0" fill="none" stroke="#2fa295" stroke-width="0.8"/><path d="M277.56 223.73V227.12M276.36 223.73h2.4M276.36 227.12h2.4" stroke="#2fa295" stroke-width="0.75" fill="none"/><path d="M277.95 222.27V227.18M276.75 222.27h2.4M276.75 227.18h2.4" stroke="#2fa295" stroke-width="0.75" fill="none"/><path d="M278.33 222.41V224.83M277.13 222.41h2.4M277.13 224.83h2.4" stroke="#2fa295" stroke-width="0.75" fill="none"/><path d="M278.71 225.28V230.05M277.51 225.28h2.4M277.51 230.05h2.4" stroke="#2fa295" stroke-width="0.75" fill="none"/><path d="M279.09 222.68V225.8M277.89 222.68h2.4M277.89 225.8h2.4" stroke="#2fa295" stroke-width="0.75" fill="none"/><circle cx="279.09" cy="224.24" r="1.0" fill="none" stroke="#2fa295" stroke-width="0.8"/><path d="M279.48 222.73V226.2M278.28 222.73h2.4M278.28 226.2h2.4" stroke="#2fa295" stroke-width="0.75" fill="none"/><path d="M279.86 221.37V226M278.66 221.37h2.4M278.66 226h2.4" stroke="#2fa295" stroke-width="0.75" fill="none"/><circle cx="279.86" cy="223.69" r="1.0" fill="none" stroke="#2fa295" stroke-width="0.8"/><path d="M280.24 225.46V229.63M279.04 225.46h2.4M279.04 229.63h2.4" stroke="#2fa295" stroke-width="0.75" fill="none"/><path d="M280.63 224.16V229.08M279.43 224.16h2.4M279.43 229.08h2.4" stroke="#2fa295" stroke-width="0.75" fill="none"/><path d="M281.01 222.71V228.2M279.81 222.71h2.4M279.81 228.2h2.4" stroke="#2fa295" stroke-width="0.75" fill="none"/><circle cx="281.01" cy="225.45" r="1.0" fill="none" stroke="#2fa295" stroke-width="0.8"/><path d="M281.39 221.28V226.5M280.19 221.28h2.4M280.19 226.5h2.4" stroke="#2fa295" stroke-width="0.75" fill="none"/><circle cx="281.39" cy="223.89" r="1.0" fill="none" stroke="#2fa295" stroke-width="0.8"/><path d="M281.77 222.73V227.51M280.57 222.73h2.4M280.57 227.51h2.4" stroke="#2fa295" stroke-width="0.75" fill="none"/><path d="M282.16 224.54V229.33M280.96 224.54h2.4M280.96 229.33h2.4" stroke="#2fa295" stroke-width="0.75" fill="none"/><circle cx="282.16" cy="226.93" r="1.0" fill="none" stroke="#2fa295" stroke-width="0.8"/><path d="M282.54 220.46V223.62M281.34 220.46h2.4M281.34 223.62h2.4" stroke="#2fa295" stroke-width="0.75" fill="none"/><path d="M282.92 223.96V228.37M281.72 223.96h2.4M281.72 228.37h2.4" stroke="#2fa295" stroke-width="0.75" fill="none"/><path d="M283.31 225.74V229.64M282.11 225.74h2.4M282.11 229.64h2.4" stroke="#2fa295" stroke-width="0.75" fill="none"/><path d="M283.69 221.75V226.39M282.49 221.75h2.4M282.49 226.39h2.4" stroke="#2fa295" stroke-width="0.75" fill="none"/><path d="M284.07 224.61V228.83M282.87 224.61h2.4M282.87 228.83h2.4" stroke="#2fa295" stroke-width="0.75" fill="none"/><circle cx="284.07" cy="226.72" r="1.0" fill="none" stroke="#2fa295" stroke-width="0.8"/><path d="M284.45 224.22V227.3M283.25 224.22h2.4M283.25 227.3h2.4" stroke="#2fa295" stroke-width="0.75" fill="none"/><path d="M284.84 224.31V227.17M283.64 224.31h2.4M283.64 227.17h2.4" stroke="#2fa295" stroke-width="0.75" fill="none"/><circle cx="284.84" cy="225.74" r="1.0" fill="none" stroke="#2fa295" stroke-width="0.8"/><path d="M285.22 222.42V225.16M284.02 222.42h2.4M284.02 225.16h2.4" stroke="#2fa295" stroke-width="0.75" fill="none"/><circle cx="285.22" cy="223.79" r="1.0" fill="none" stroke="#2fa295" stroke-width="0.8"/><path d="M285.6 224.7V227.19M284.4 224.7h2.4M284.4 227.19h2.4" stroke="#2fa295" stroke-width="0.75" fill="none"/><circle cx="285.6" cy="225.95" r="1.0" fill="none" stroke="#2fa295" stroke-width="0.8"/><path d="M285.99 224.75V229.37M284.79 224.75h2.4M284.79 229.37h2.4" stroke="#2fa295" stroke-width="0.75" fill="none"/><path d="M286.37 225.97V228.58M285.17 225.97h2.4M285.17 228.58h2.4" stroke="#2fa295" stroke-width="0.75" fill="none"/><path d="M286.75 222.13V225.69M285.55 222.13h2.4M285.55 225.69h2.4" stroke="#2fa295" stroke-width="0.75" fill="none"/><path d="M287.13 226.91V229.52M285.93 226.91h2.4M285.93 229.52h2.4" stroke="#2fa295" stroke-width="0.75" fill="none"/><path d="M287.52 221.8V227.13M286.32 221.8h2.4M286.32 227.13h2.4" stroke="#2fa295" stroke-width="0.75" fill="none"/><circle cx="287.52" cy="224.46" r="1.0" fill="none" stroke="#2fa295" stroke-width="0.8"/><path d="M287.9 224.16V226.92M286.7 224.16h2.4M286.7 226.92h2.4" stroke="#2fa295" stroke-width="0.75" fill="none"/><circle cx="287.9" cy="225.54" r="1.0" fill="none" stroke="#2fa295" stroke-width="0.8"/><path d="M288.28 221.75V226.86M287.08 221.75h2.4M287.08 226.86h2.4" stroke="#2fa295" stroke-width="0.75" fill="none"/><path d="M288.66 225.35V229.77M287.46 225.35h2.4M287.46 229.77h2.4" stroke="#2fa295" stroke-width="0.75" fill="none"/><circle cx="288.66" cy="227.56" r="1.0" fill="none" stroke="#2fa295" stroke-width="0.8"/><path d="M289.05 221.47V224.19M287.85 221.47h2.4M287.85 224.19h2.4" stroke="#2fa295" stroke-width="0.75" fill="none"/><circle cx="289.05" cy="222.83" r="1.0" fill="none" stroke="#2fa295" stroke-width="0.8"/><path d="M289.43 221.83V225.25M288.23 221.83h2.4M288.23 225.25h2.4" stroke="#2fa295" stroke-width="0.75" fill="none"/><path d="M289.81 224.08V226.54M288.61 224.08h2.4M288.61 226.54h2.4" stroke="#2fa295" stroke-width="0.75" fill="none"/><path d="M290.2 222.03V225.61M289 222.03h2.4M289 225.61h2.4" stroke="#2fa295" stroke-width="0.75" fill="none"/><circle cx="290.2" cy="223.82" r="1.0" fill="none" stroke="#2fa295" stroke-width="0.8"/><path d="M290.58 225.94V231.43M289.38 225.94h2.4M289.38 231.43h2.4" stroke="#2fa295" stroke-width="0.75" fill="none"/><path d="M290.96 224.08V226.58M289.76 224.08h2.4M289.76 226.58h2.4" stroke="#2fa295" stroke-width="0.75" fill="none"/><path d="M291.34 223.12V226.91M290.14 223.12h2.4M290.14 226.91h2.4" stroke="#2fa295" stroke-width="0.75" fill="none"/><path d="M291.73 224.8V228.92M290.53 224.8h2.4M290.53 228.92h2.4" stroke="#2fa295" stroke-width="0.75" fill="none"/><circle cx="291.73" cy="226.86" r="1.0" fill="none" stroke="#2fa295" stroke-width="0.8"/><path d="M292.11 219.93V225.09M290.91 219.93h2.4M290.91 225.09h2.4" stroke="#2fa295" stroke-width="0.75" fill="none"/><circle cx="292.11" cy="222.51" r="1.0" fill="none" stroke="#2fa295" stroke-width="0.8"/><path d="M292.49 222.29V224.69M291.29 222.29h2.4M291.29 224.69h2.4" stroke="#2fa295" stroke-width="0.75" fill="none"/><circle cx="292.49" cy="223.49" r="1.0" fill="none" stroke="#2fa295" stroke-width="0.8"/><path d="M292.88 222.67V227.51M291.68 222.67h2.4M291.68 227.51h2.4" stroke="#2fa295" stroke-width="0.75" fill="none"/><path d="M293.26 223.29V227.26M292.06 223.29h2.4M292.06 227.26h2.4" stroke="#2fa295" stroke-width="0.75" fill="none"/><path d="M293.64 225.38V228.37M292.44 225.38h2.4M292.44 228.37h2.4" stroke="#2fa295" stroke-width="0.75" fill="none"/><path d="M294.02 223.58V226.81M292.82 223.58h2.4M292.82 226.81h2.4" stroke="#2fa295" stroke-width="0.75" fill="none"/><path d="M294.41 223V226.3M293.21 223h2.4M293.21 226.3h2.4" stroke="#2fa295" stroke-width="0.75" fill="none"/><path d="M294.79 221.21V223.96M293.59 221.21h2.4M293.59 223.96h2.4" stroke="#2fa295" stroke-width="0.75" fill="none"/><path d="M295.17 223.28V225.94M293.97 223.28h2.4M293.97 225.94h2.4" stroke="#2fa295" stroke-width="0.75" fill="none"/><path d="M295.56 225.69V230.1M294.36 225.69h2.4M294.36 230.1h2.4" stroke="#2fa295" stroke-width="0.75" fill="none"/><circle cx="295.56" cy="227.89" r="1.0" fill="none" stroke="#2fa295" stroke-width="0.8"/><path d="M295.94 226.33V230.01M294.74 226.33h2.4M294.74 230.01h2.4" stroke="#2fa295" stroke-width="0.75" fill="none"/><circle cx="295.94" cy="228.17" r="1.0" fill="none" stroke="#2fa295" stroke-width="0.8"/><path d="M296.32 220.35V225.6M295.12 220.35h2.4M295.12 225.6h2.4" stroke="#2fa295" stroke-width="0.75" fill="none"/><circle cx="296.32" cy="222.97" r="1.0" fill="none" stroke="#2fa295" stroke-width="0.8"/><path d="M296.7 224.03V227.09M295.5 224.03h2.4M295.5 227.09h2.4" stroke="#2fa295" stroke-width="0.75" fill="none"/><path d="M297.09 219.67V223.28M295.89 219.67h2.4M295.89 223.28h2.4" stroke="#2fa295" stroke-width="0.75" fill="none"/><path d="M297.47 225.78V228.93M296.27 225.78h2.4M296.27 228.93h2.4" stroke="#2fa295" stroke-width="0.75" fill="none"/><path d="M297.85 222.32V227.13M296.65 222.32h2.4M296.65 227.13h2.4" stroke="#2fa295" stroke-width="0.75" fill="none"/><path d="M298.23 223.97V227.48M297.03 223.97h2.4M297.03 227.48h2.4" stroke="#2fa295" stroke-width="0.75" fill="none"/><path d="M298.62 222.08V226.6M297.42 222.08h2.4M297.42 226.6h2.4" stroke="#2fa295" stroke-width="0.75" fill="none"/><path d="M299 226.59V229.53M297.8 226.59h2.4M297.8 229.53h2.4" stroke="#2fa295" stroke-width="0.75" fill="none"/><path d="M299.38 222.71V225.51M298.18 222.71h2.4M298.18 225.51h2.4" stroke="#2fa295" stroke-width="0.75" fill="none"/><path d="M299.77 222.55V227.78M298.57 222.55h2.4M298.57 227.78h2.4" stroke="#2fa295" stroke-width="0.75" fill="none"/><circle cx="299.77" cy="225.16" r="1.0" fill="none" stroke="#2fa295" stroke-width="0.8"/><path d="M300.15 221.78V226.43M298.95 221.78h2.4M298.95 226.43h2.4" stroke="#2fa295" stroke-width="0.75" fill="none"/><path d="M300.53 223.06V225.96M299.33 223.06h2.4M299.33 225.96h2.4" stroke="#2fa295" stroke-width="0.75" fill="none"/><circle cx="300.53" cy="224.51" r="1.0" fill="none" stroke="#2fa295" stroke-width="0.8"/><path d="M300.91 222.11V226.18M299.71 222.11h2.4M299.71 226.18h2.4" stroke="#2fa295" stroke-width="0.75" fill="none"/><circle cx="300.91" cy="224.15" r="1.0" fill="none" stroke="#2fa295" stroke-width="0.8"/><path d="M301.3 221.74V225.19M300.1 221.74h2.4M300.1 225.19h2.4" stroke="#2fa295" stroke-width="0.75" fill="none"/><path d="M301.68 219.45V222.17M300.48 219.45h2.4M300.48 222.17h2.4" stroke="#2fa295" stroke-width="0.75" fill="none"/><path d="M302.06 227.66V230.39M300.86 227.66h2.4M300.86 230.39h2.4" stroke="#2fa295" stroke-width="0.75" fill="none"/><path d="M302.45 219.52V224.26M301.25 219.52h2.4M301.25 224.26h2.4" stroke="#2fa295" stroke-width="0.75" fill="none"/><path d="M302.83 224.28V227.31M301.63 224.28h2.4M301.63 227.31h2.4" stroke="#2fa295" stroke-width="0.75" fill="none"/><circle cx="302.83" cy="225.79" r="1.0" fill="none" stroke="#2fa295" stroke-width="0.8"/><path d="M303.21 224.07V227.71M302.01 224.07h2.4M302.01 227.71h2.4" stroke="#2fa295" stroke-width="0.75" fill="none"/><circle cx="303.21" cy="225.89" r="1.0" fill="none" stroke="#2fa295" stroke-width="0.8"/><path d="M303.59 222.72V226.4M302.39 222.72h2.4M302.39 226.4h2.4" stroke="#2fa295" stroke-width="0.75" fill="none"/><path d="M303.98 225.65V230.08M302.78 225.65h2.4M302.78 230.08h2.4" stroke="#2fa295" stroke-width="0.75" fill="none"/><path d="M304.36 225.25V228.1M303.16 225.25h2.4M303.16 228.1h2.4" stroke="#2fa295" stroke-width="0.75" fill="none"/><path d="M304.74 223.68V228.99M303.54 223.68h2.4M303.54 228.99h2.4" stroke="#2fa295" stroke-width="0.75" fill="none"/><path d="M305.13 223.14V227.38M303.93 223.14h2.4M303.93 227.38h2.4" stroke="#2fa295" stroke-width="0.75" fill="none"/><circle cx="305.13" cy="225.26" r="1.0" fill="none" stroke="#2fa295" stroke-width="0.8"/><path d="M305.51 224.73V229.45M304.31 224.73h2.4M304.31 229.45h2.4" stroke="#2fa295" stroke-width="0.75" fill="none"/><path d="M305.89 223.87V228.75M304.69 223.87h2.4M304.69 228.75h2.4" stroke="#2fa295" stroke-width="0.75" fill="none"/><path d="M306.27 226.3V230.75M305.07 226.3h2.4M305.07 230.75h2.4" stroke="#2fa295" stroke-width="0.75" fill="none"/><path d="M306.66 224.1V227.5M305.46 224.1h2.4M305.46 227.5h2.4" stroke="#2fa295" stroke-width="0.75" fill="none"/><path d="M307.04 223.37V228.28M305.84 223.37h2.4M305.84 228.28h2.4" stroke="#2fa295" stroke-width="0.75" fill="none"/><path d="M307.42 223.04V227.46M306.22 223.04h2.4M306.22 227.46h2.4" stroke="#2fa295" stroke-width="0.75" fill="none"/><path d="M307.8 221.21V225.6M306.6 221.21h2.4M306.6 225.6h2.4" stroke="#2fa295" stroke-width="0.75" fill="none"/><path d="M308.19 221.96V226.52M306.99 221.96h2.4M306.99 226.52h2.4" stroke="#2fa295" stroke-width="0.75" fill="none"/><path d="M308.57 223.28V228.17M307.37 223.28h2.4M307.37 228.17h2.4" stroke="#2fa295" stroke-width="0.75" fill="none"/><circle cx="308.57" cy="225.73" r="1.0" fill="none" stroke="#2fa295" stroke-width="0.8"/><path d="M308.95 222.78V226.75M307.75 222.78h2.4M307.75 226.75h2.4" stroke="#2fa295" stroke-width="0.75" fill="none"/><path d="M309.34 223.87V226.79M308.14 223.87h2.4M308.14 226.79h2.4" stroke="#2fa295" stroke-width="0.75" fill="none"/><path d="M309.72 223.35V228.76M308.52 223.35h2.4M308.52 228.76h2.4" stroke="#2fa295" stroke-width="0.75" fill="none"/><path d="M310.1 223.28V227.41M308.9 223.28h2.4M308.9 227.41h2.4" stroke="#2fa295" stroke-width="0.75" fill="none"/><path d="M310.48 225.35V229.39M309.28 225.35h2.4M309.28 229.39h2.4" stroke="#2fa295" stroke-width="0.75" fill="none"/><path d="M310.87 225.93V229.64M309.67 225.93h2.4M309.67 229.64h2.4" stroke="#2fa295" stroke-width="0.75" fill="none"/><path d="M311.25 224.42V227.49M310.05 224.42h2.4M310.05 227.49h2.4" stroke="#2fa295" stroke-width="0.75" fill="none"/><path d="M311.63 225.46V228.26M310.43 225.46h2.4M310.43 228.26h2.4" stroke="#2fa295" stroke-width="0.75" fill="none"/><path d="M312.02 222.16V225.7M310.82 222.16h2.4M310.82 225.7h2.4" stroke="#2fa295" stroke-width="0.75" fill="none"/><circle cx="312.02" cy="223.93" r="1.0" fill="none" stroke="#2fa295" stroke-width="0.8"/><path d="M312.4 223.54V225.98M311.2 223.54h2.4M311.2 225.98h2.4" stroke="#2fa295" stroke-width="0.75" fill="none"/><path d="M312.78 223.9V227.65M311.58 223.9h2.4M311.58 227.65h2.4" stroke="#2fa295" stroke-width="0.75" fill="none"/><circle cx="312.78" cy="225.77" r="1.0" fill="none" stroke="#2fa295" stroke-width="0.8"/><path d="M313.16 225.24V228.36M311.96 225.24h2.4M311.96 228.36h2.4" stroke="#2fa295" stroke-width="0.75" fill="none"/><path d="M313.55 223.77V229.17M312.35 223.77h2.4M312.35 229.17h2.4" stroke="#2fa295" stroke-width="0.75" fill="none"/><path d="M313.93 223.63V227.29M312.73 223.63h2.4M312.73 227.29h2.4" stroke="#2fa295" stroke-width="0.75" fill="none"/><circle cx="313.93" cy="225.46" r="1.0" fill="none" stroke="#2fa295" stroke-width="0.8"/><path d="M314.31 223.31V226.12M313.11 223.31h2.4M313.11 226.12h2.4" stroke="#2fa295" stroke-width="0.75" fill="none"/><path d="M314.7 226.46V230.36M313.5 226.46h2.4M313.5 230.36h2.4" stroke="#2fa295" stroke-width="0.75" fill="none"/><path d="M315.08 222.09V225.21M313.88 222.09h2.4M313.88 225.21h2.4" stroke="#2fa295" stroke-width="0.75" fill="none"/><path d="M315.46 223.11V228.13M314.26 223.11h2.4M314.26 228.13h2.4" stroke="#2fa295" stroke-width="0.75" fill="none"/><path d="M315.84 223.91V227.81M314.64 223.91h2.4M314.64 227.81h2.4" stroke="#2fa295" stroke-width="0.75" fill="none"/><circle cx="315.84" cy="225.86" r="1.0" fill="none" stroke="#2fa295" stroke-width="0.8"/><path d="M316.23 220.58V225.65M315.03 220.58h2.4M315.03 225.65h2.4" stroke="#2fa295" stroke-width="0.75" fill="none"/><circle cx="316.23" cy="223.12" r="1.0" fill="none" stroke="#2fa295" stroke-width="0.8"/><path d="M316.61 222.88V228M315.41 222.88h2.4M315.41 228h2.4" stroke="#2fa295" stroke-width="0.75" fill="none"/><circle cx="316.61" cy="225.44" r="1.0" fill="none" stroke="#2fa295" stroke-width="0.8"/><path d="M316.99 221.67V225.43M315.79 221.67h2.4M315.79 225.43h2.4" stroke="#2fa295" stroke-width="0.75" fill="none"/><circle cx="316.99" cy="223.55" r="1.0" fill="none" stroke="#2fa295" stroke-width="0.8"/><path d="M317.37 224.3V226.71M316.17 224.3h2.4M316.17 226.71h2.4" stroke="#2fa295" stroke-width="0.75" fill="none"/><circle cx="317.37" cy="225.5" r="1.0" fill="none" stroke="#2fa295" stroke-width="0.8"/><path d="M317.76 224.97V228.34M316.56 224.97h2.4M316.56 228.34h2.4" stroke="#2fa295" stroke-width="0.75" fill="none"/><path d="M318.14 225.04V228.81M316.94 225.04h2.4M316.94 228.81h2.4" stroke="#2fa295" stroke-width="0.75" fill="none"/><circle cx="318.14" cy="226.93" r="1.0" fill="none" stroke="#2fa295" stroke-width="0.8"/><path d="M318.52 224.53V229.9M317.32 224.53h2.4M317.32 229.9h2.4" stroke="#2fa295" stroke-width="0.75" fill="none"/><path d="M318.91 222.16V224.74M317.71 222.16h2.4M317.71 224.74h2.4" stroke="#2fa295" stroke-width="0.75" fill="none"/><path d="M319.29 227.2V230.05M318.09 227.2h2.4M318.09 230.05h2.4" stroke="#2fa295" stroke-width="0.75" fill="none"/><path d="M319.67 222.77V227.2M318.47 222.77h2.4M318.47 227.2h2.4" stroke="#2fa295" stroke-width="0.75" fill="none"/><path d="M320.05 222.98V227.47M318.85 222.98h2.4M318.85 227.47h2.4" stroke="#2fa295" stroke-width="0.75" fill="none"/><circle cx="320.05" cy="225.22" r="1.0" fill="none" stroke="#2fa295" stroke-width="0.8"/><path d="M320.44 223.09V225.81M319.24 223.09h2.4M319.24 225.81h2.4" stroke="#2fa295" stroke-width="0.75" fill="none"/><path d="M320.82 222.49V226M319.62 222.49h2.4M319.62 226h2.4" stroke="#2fa295" stroke-width="0.75" fill="none"/><circle cx="320.82" cy="224.25" r="1.0" fill="none" stroke="#2fa295" stroke-width="0.8"/><path d="M321.2 222.33V227.62M320 222.33h2.4M320 227.62h2.4" stroke="#2fa295" stroke-width="0.75" fill="none"/><path d="M321.59 224.11V228.45M320.39 224.11h2.4M320.39 228.45h2.4" stroke="#2fa295" stroke-width="0.75" fill="none"/><path d="M321.97 220.54V225.08M320.77 220.54h2.4M320.77 225.08h2.4" stroke="#2fa295" stroke-width="0.75" fill="none"/><path d="M322.35 225.65V228.68M321.15 225.65h2.4M321.15 228.68h2.4" stroke="#2fa295" stroke-width="0.75" fill="none"/><path d="M322.73 223.3V227.4M321.53 223.3h2.4M321.53 227.4h2.4" stroke="#2fa295" stroke-width="0.75" fill="none"/><path d="M323.12 225.05V229.23M321.92 225.05h2.4M321.92 229.23h2.4" stroke="#2fa295" stroke-width="0.75" fill="none"/><circle cx="323.12" cy="227.14" r="1.0" fill="none" stroke="#2fa295" stroke-width="0.8"/><path d="M323.5 222.36V225.51M322.3 222.36h2.4M322.3 225.51h2.4" stroke="#2fa295" stroke-width="0.75" fill="none"/><circle cx="323.5" cy="223.94" r="1.0" fill="none" stroke="#2fa295" stroke-width="0.8"/><path d="M323.88 221.73V225.62M322.68 221.73h2.4M322.68 225.62h2.4" stroke="#2fa295" stroke-width="0.75" fill="none"/><circle cx="323.88" cy="223.68" r="1.0" fill="none" stroke="#2fa295" stroke-width="0.8"/><path d="M324.27 225.45V229.43M323.07 225.45h2.4M323.07 229.43h2.4" stroke="#2fa295" stroke-width="0.75" fill="none"/><path d="M324.65 224.01V226.44M323.45 224.01h2.4M323.45 226.44h2.4" stroke="#2fa295" stroke-width="0.75" fill="none"/><path d="M325.03 225.71V229.6M323.83 225.71h2.4M323.83 229.6h2.4" stroke="#2fa295" stroke-width="0.75" fill="none"/><path d="M325.41 224.45V228.05M324.21 224.45h2.4M324.21 228.05h2.4" stroke="#2fa295" stroke-width="0.75" fill="none"/><path d="M325.8 220.28V225.76M324.6 220.28h2.4M324.6 225.76h2.4" stroke="#2fa295" stroke-width="0.75" fill="none"/><path d="M326.18 222.86V225.35M324.98 222.86h2.4M324.98 225.35h2.4" stroke="#2fa295" stroke-width="0.75" fill="none"/><path d="M326.56 221.53V226.11M325.36 221.53h2.4M325.36 226.11h2.4" stroke="#2fa295" stroke-width="0.75" fill="none"/><path d="M326.94 223.89V227.92M325.74 223.89h2.4M325.74 227.92h2.4" stroke="#2fa295" stroke-width="0.75" fill="none"/><path d="M327.33 219.88V225.15M326.13 219.88h2.4M326.13 225.15h2.4" stroke="#2fa295" stroke-width="0.75" fill="none"/><path d="M327.71 222.92V226.4M326.51 222.92h2.4M326.51 226.4h2.4" stroke="#2fa295" stroke-width="0.75" fill="none"/><path d="M328.09 225.59V229.16M326.89 225.59h2.4M326.89 229.16h2.4" stroke="#2fa295" stroke-width="0.75" fill="none"/><path d="M328.48 223.37V226.44M327.28 223.37h2.4M327.28 226.44h2.4" stroke="#2fa295" stroke-width="0.75" fill="none"/><path d="M328.86 226.48V230.23M327.66 226.48h2.4M327.66 230.23h2.4" stroke="#2fa295" stroke-width="0.75" fill="none"/><circle cx="328.86" cy="228.36" r="1.0" fill="none" stroke="#2fa295" stroke-width="0.8"/><path d="M329.24 223.82V228.87M328.04 223.82h2.4M328.04 228.87h2.4" stroke="#2fa295" stroke-width="0.75" fill="none"/><path d="M329.62 223.53V227.54M328.42 223.53h2.4M328.42 227.54h2.4" stroke="#2fa295" stroke-width="0.75" fill="none"/><path d="M330.01 220.93V225.43M328.81 220.93h2.4M328.81 225.43h2.4" stroke="#2fa295" stroke-width="0.75" fill="none"/><path d="M330.39 224.13V227.59M329.19 224.13h2.4M329.19 227.59h2.4" stroke="#2fa295" stroke-width="0.75" fill="none"/><path d="M330.77 221.68V226.11M329.57 221.68h2.4M329.57 226.11h2.4" stroke="#2fa295" stroke-width="0.75" fill="none"/><path d="M331.16 224.61V227.14M329.96 224.61h2.4M329.96 227.14h2.4" stroke="#2fa295" stroke-width="0.75" fill="none"/><path d="M331.54 227.58V230.14M330.34 227.58h2.4M330.34 230.14h2.4" stroke="#2fa295" stroke-width="0.75" fill="none"/><circle cx="331.54" cy="228.86" r="1.0" fill="none" stroke="#2fa295" stroke-width="0.8"/><path d="M331.92 222.58V225M330.72 222.58h2.4M330.72 225h2.4" stroke="#2fa295" stroke-width="0.75" fill="none"/><path d="M332.3 219.31V223.81M331.1 219.31h2.4M331.1 223.81h2.4" stroke="#2fa295" stroke-width="0.75" fill="none"/><path d="M332.69 224.45V229.77M331.49 224.45h2.4M331.49 229.77h2.4" stroke="#2fa295" stroke-width="0.75" fill="none"/><path d="M333.07 224.51V229.14M331.87 224.51h2.4M331.87 229.14h2.4" stroke="#2fa295" stroke-width="0.75" fill="none"/><path d="M333.45 222.35V226.93M332.25 222.35h2.4M332.25 226.93h2.4" stroke="#2fa295" stroke-width="0.75" fill="none"/><path d="M333.84 220.29V225.13M332.64 220.29h2.4M332.64 225.13h2.4" stroke="#2fa295" stroke-width="0.75" fill="none"/><circle cx="333.84" cy="222.71" r="1.0" fill="none" stroke="#2fa295" stroke-width="0.8"/><path d="M334.22 220.8V223.78M333.02 220.8h2.4M333.02 223.78h2.4" stroke="#2fa295" stroke-width="0.75" fill="none"/><path d="M334.6 222.3V226.8M333.4 222.3h2.4M333.4 226.8h2.4" stroke="#2fa295" stroke-width="0.75" fill="none"/><circle cx="334.6" cy="224.55" r="1.0" fill="none" stroke="#2fa295" stroke-width="0.8"/><path d="M334.98 222.22V227.25M333.78 222.22h2.4M333.78 227.25h2.4" stroke="#2fa295" stroke-width="0.75" fill="none"/><circle cx="334.98" cy="224.74" r="1.0" fill="none" stroke="#2fa295" stroke-width="0.8"/><path d="M335.37 225.77V229.14M334.17 225.77h2.4M334.17 229.14h2.4" stroke="#2fa295" stroke-width="0.75" fill="none"/><path d="M335.75 225.83V229.25M334.55 225.83h2.4M334.55 229.25h2.4" stroke="#2fa295" stroke-width="0.75" fill="none"/><path d="M336.13 222.9V225.47M334.93 222.9h2.4M334.93 225.47h2.4" stroke="#2fa295" stroke-width="0.75" fill="none"/><path d="M336.51 221.63V224.16M335.31 221.63h2.4M335.31 224.16h2.4" stroke="#2fa295" stroke-width="0.75" fill="none"/><path d="M336.9 220.4V225.74M335.7 220.4h2.4M335.7 225.74h2.4" stroke="#2fa295" stroke-width="0.75" fill="none"/><path d="M337.28 225.82V228.26M336.08 225.82h2.4M336.08 228.26h2.4" stroke="#2fa295" stroke-width="0.75" fill="none"/><path d="M337.66 220.95V226.49M336.46 220.95h2.4M336.46 226.49h2.4" stroke="#2fa295" stroke-width="0.75" fill="none"/><path d="M338.05 221.36V225.08M336.85 221.36h2.4M336.85 225.08h2.4" stroke="#2fa295" stroke-width="0.75" fill="none"/><circle cx="338.05" cy="223.22" r="1.0" fill="none" stroke="#2fa295" stroke-width="0.8"/><path d="M338.43 222.29V225.18M337.23 222.29h2.4M337.23 225.18h2.4" stroke="#2fa295" stroke-width="0.75" fill="none"/><circle cx="338.43" cy="223.74" r="1.0" fill="none" stroke="#2fa295" stroke-width="0.8"/><path d="M338.81 224.4V226.82M337.61 224.4h2.4M337.61 226.82h2.4" stroke="#2fa295" stroke-width="0.75" fill="none"/><path d="M339.19 224.73V227.41M337.99 224.73h2.4M337.99 227.41h2.4" stroke="#2fa295" stroke-width="0.75" fill="none"/><path d="M339.58 221.06V223.87M338.38 221.06h2.4M338.38 223.87h2.4" stroke="#2fa295" stroke-width="0.75" fill="none"/><circle cx="339.58" cy="222.46" r="1.0" fill="none" stroke="#2fa295" stroke-width="0.8"/><path d="M339.96 222.56V227.31M338.76 222.56h2.4M338.76 227.31h2.4" stroke="#2fa295" stroke-width="0.75" fill="none"/><circle cx="339.96" cy="224.94" r="1.0" fill="none" stroke="#2fa295" stroke-width="0.8"/><path d="M340.34 223.55V226.11M339.14 223.55h2.4M339.14 226.11h2.4" stroke="#2fa295" stroke-width="0.75" fill="none"/><path d="M340.73 225.63V230.37M339.53 225.63h2.4M339.53 230.37h2.4" stroke="#2fa295" stroke-width="0.75" fill="none"/><circle cx="340.73" cy="228" r="1.0" fill="none" stroke="#2fa295" stroke-width="0.8"/><path d="M341.11 223.54V227.95M339.91 223.54h2.4M339.91 227.95h2.4" stroke="#2fa295" stroke-width="0.75" fill="none"/><path d="M341.49 225.53V228.75M340.29 225.53h2.4M340.29 228.75h2.4" stroke="#2fa295" stroke-width="0.75" fill="none"/><path d="M341.87 222.6V227.3M340.67 222.6h2.4M340.67 227.3h2.4" stroke="#2fa295" stroke-width="0.75" fill="none"/><path d="M342.26 222.72V227.74M341.06 222.72h2.4M341.06 227.74h2.4" stroke="#2fa295" stroke-width="0.75" fill="none"/><circle cx="342.26" cy="225.23" r="1.0" fill="none" stroke="#2fa295" stroke-width="0.8"/><path d="M342.64 223.69V227.08M341.44 223.69h2.4M341.44 227.08h2.4" stroke="#2fa295" stroke-width="0.75" fill="none"/><path d="M343.02 224.32V228.28M341.82 224.32h2.4M341.82 228.28h2.4" stroke="#2fa295" stroke-width="0.75" fill="none"/><circle cx="343.02" cy="226.3" r="1.0" fill="none" stroke="#2fa295" stroke-width="0.8"/><path d="M343.41 225.15V228.72M342.21 225.15h2.4M342.21 228.72h2.4" stroke="#2fa295" stroke-width="0.75" fill="none"/><path d="M343.79 224.68V227.54M342.59 224.68h2.4M342.59 227.54h2.4" stroke="#2fa295" stroke-width="0.75" fill="none"/><path d="M344.17 224.99V228.55M342.97 224.99h2.4M342.97 228.55h2.4" stroke="#2fa295" stroke-width="0.75" fill="none"/><path d="M344.55 225.39V229.03M343.35 225.39h2.4M343.35 229.03h2.4" stroke="#2fa295" stroke-width="0.75" fill="none"/><path d="M344.94 222.05V227.47M343.74 222.05h2.4M343.74 227.47h2.4" stroke="#2fa295" stroke-width="0.75" fill="none"/><circle cx="344.94" cy="224.76" r="1.0" fill="none" stroke="#2fa295" stroke-width="0.8"/><path d="M345.32 226.18V228.77M344.12 226.18h2.4M344.12 228.77h2.4" stroke="#2fa295" stroke-width="0.75" fill="none"/><path d="M345.7 222.19V226.84M344.5 222.19h2.4M344.5 226.84h2.4" stroke="#2fa295" stroke-width="0.75" fill="none"/><path d="M346.08 223.88V229.41M344.88 223.88h2.4M344.88 229.41h2.4" stroke="#2fa295" stroke-width="0.75" fill="none"/><path d="M346.47 223.76V228.08M345.27 223.76h2.4M345.27 228.08h2.4" stroke="#2fa295" stroke-width="0.75" fill="none"/><path d="M346.85 221.71V225.32M345.65 221.71h2.4M345.65 225.32h2.4" stroke="#2fa295" stroke-width="0.75" fill="none"/><path d="M347.23 220.55V224.88M346.03 220.55h2.4M346.03 224.88h2.4" stroke="#2fa295" stroke-width="0.75" fill="none"/><circle cx="347.23" cy="222.71" r="1.0" fill="none" stroke="#2fa295" stroke-width="0.8"/><path d="M347.62 225.99V228.39M346.42 225.99h2.4M346.42 228.39h2.4" stroke="#2fa295" stroke-width="0.75" fill="none"/><circle cx="347.62" cy="227.19" r="1.0" fill="none" stroke="#2fa295" stroke-width="0.8"/><path d="M348 226.14V229.9M346.8 226.14h2.4M346.8 229.9h2.4" stroke="#2fa295" stroke-width="0.75" fill="none"/><path d="M348.38 225.66V228.19M347.18 225.66h2.4M347.18 228.19h2.4" stroke="#2fa295" stroke-width="0.75" fill="none"/><path d="M348.76 221.21V226.21M347.56 221.21h2.4M347.56 226.21h2.4" stroke="#2fa295" stroke-width="0.75" fill="none"/><circle cx="348.76" cy="223.71" r="1.0" fill="none" stroke="#2fa295" stroke-width="0.8"/><path d="M349.15 224.39V229.51M347.95 224.39h2.4M347.95 229.51h2.4" stroke="#2fa295" stroke-width="0.75" fill="none"/><path d="M349.53 221.56V226.15M348.33 221.56h2.4M348.33 226.15h2.4" stroke="#2fa295" stroke-width="0.75" fill="none"/><circle cx="349.53" cy="223.86" r="1.0" fill="none" stroke="#2fa295" stroke-width="0.8"/><path d="M349.91 224V228.17M348.71 224h2.4M348.71 228.17h2.4" stroke="#2fa295" stroke-width="0.75" fill="none"/><path d="M350.3 223.72V226.77M349.1 223.72h2.4M349.1 226.77h2.4" stroke="#2fa295" stroke-width="0.75" fill="none"/><circle cx="350.3" cy="225.25" r="1.0" fill="none" stroke="#2fa295" stroke-width="0.8"/><path d="M350.68 227.16V231.5M349.48 227.16h2.4M349.48 231.5h2.4" stroke="#2fa295" stroke-width="0.75" fill="none"/><path d="M351.06 222.94V226.83M349.86 222.94h2.4M349.86 226.83h2.4" stroke="#2fa295" stroke-width="0.75" fill="none"/><path d="M351.44 221.48V226.42M350.24 221.48h2.4M350.24 226.42h2.4" stroke="#2fa295" stroke-width="0.75" fill="none"/><path d="M351.83 222.86V225.54M350.63 222.86h2.4M350.63 225.54h2.4" stroke="#2fa295" stroke-width="0.75" fill="none"/><circle cx="351.83" cy="224.2" r="1.0" fill="none" stroke="#2fa295" stroke-width="0.8"/><path d="M352.21 225.96V230.21M351.01 225.96h2.4M351.01 230.21h2.4" stroke="#2fa295" stroke-width="0.75" fill="none"/><path d="M352.59 224.62V229.85M351.39 224.62h2.4M351.39 229.85h2.4" stroke="#2fa295" stroke-width="0.75" fill="none"/><path d="M352.98 224.02V227.03M351.78 224.02h2.4M351.78 227.03h2.4" stroke="#2fa295" stroke-width="0.75" fill="none"/><circle cx="352.98" cy="225.52" r="1.0" fill="none" stroke="#2fa295" stroke-width="0.8"/><path d="M353.36 224.27V227.24M352.16 224.27h2.4M352.16 227.24h2.4" stroke="#2fa295" stroke-width="0.75" fill="none"/><path d="M353.74 225V228.69M352.54 225h2.4M352.54 228.69h2.4" stroke="#2fa295" stroke-width="0.75" fill="none"/><path d="M354.12 218.02V220.9M352.92 218.02h2.4M352.92 220.9h2.4" stroke="#2fa295" stroke-width="0.75" fill="none"/><circle cx="354.12" cy="219.46" r="1.0" fill="none" stroke="#2fa295" stroke-width="0.8"/><path d="M354.51 222.21V224.95M353.31 222.21h2.4M353.31 224.95h2.4" stroke="#2fa295" stroke-width="0.75" fill="none"/><path d="M354.89 221.47V226.39M353.69 221.47h2.4M353.69 226.39h2.4" stroke="#2fa295" stroke-width="0.75" fill="none"/><circle cx="354.89" cy="223.93" r="1.0" fill="none" stroke="#2fa295" stroke-width="0.8"/><path d="M355.27 221.25V225.31M354.07 221.25h2.4M354.07 225.31h2.4" stroke="#2fa295" stroke-width="0.75" fill="none"/><circle cx="355.27" cy="223.28" r="1.0" fill="none" stroke="#2fa295" stroke-width="0.8"/><path d="M355.65 220.47V222.98M354.45 220.47h2.4M354.45 222.98h2.4" stroke="#2fa295" stroke-width="0.75" fill="none"/><path d="M356.04 223.36V227.57M354.84 223.36h2.4M354.84 227.57h2.4" stroke="#2fa295" stroke-width="0.75" fill="none"/><circle cx="356.04" cy="225.46" r="1.0" fill="none" stroke="#2fa295" stroke-width="0.8"/><path d="M356.42 226.61V231.5M355.22 226.61h2.4M355.22 231.5h2.4" stroke="#2fa295" stroke-width="0.75" fill="none"/><path d="M356.8 220.83V225.85M355.6 220.83h2.4M355.6 225.85h2.4" stroke="#2fa295" stroke-width="0.75" fill="none"/><path d="M357.19 222.5V225.71M355.99 222.5h2.4M355.99 225.71h2.4" stroke="#2fa295" stroke-width="0.75" fill="none"/><circle cx="357.19" cy="224.1" r="1.0" fill="none" stroke="#2fa295" stroke-width="0.8"/><path d="M357.57 223.64V226.31M356.37 223.64h2.4M356.37 226.31h2.4" stroke="#2fa295" stroke-width="0.75" fill="none"/><circle cx="357.57" cy="224.97" r="1.0" fill="none" stroke="#2fa295" stroke-width="0.8"/><path d="M357.95 221.82V226M356.75 221.82h2.4M356.75 226h2.4" stroke="#2fa295" stroke-width="0.75" fill="none"/><path d="M358.33 224.01V229.32M357.13 224.01h2.4M357.13 229.32h2.4" stroke="#2fa295" stroke-width="0.75" fill="none"/><circle cx="358.33" cy="226.66" r="1.0" fill="none" stroke="#2fa295" stroke-width="0.8"/><path d="M358.72 223.8V228.12M357.52 223.8h2.4M357.52 228.12h2.4" stroke="#2fa295" stroke-width="0.75" fill="none"/><path d="M359.1 223.1V226.33M357.9 223.1h2.4M357.9 226.33h2.4" stroke="#2fa295" stroke-width="0.75" fill="none"/><path d="M359.48 220.5V224.95M358.28 220.5h2.4M358.28 224.95h2.4" stroke="#2fa295" stroke-width="0.75" fill="none"/><circle cx="359.48" cy="222.73" r="1.0" fill="none" stroke="#2fa295" stroke-width="0.8"/><path d="M359.87 224.04V227.88M358.67 224.04h2.4M358.67 227.88h2.4" stroke="#2fa295" stroke-width="0.75" fill="none"/><circle cx="359.87" cy="225.96" r="1.0" fill="none" stroke="#2fa295" stroke-width="0.8"/><path d="M360.25 221.26V226.75M359.05 221.26h2.4M359.05 226.75h2.4" stroke="#2fa295" stroke-width="0.75" fill="none"/><circle cx="360.25" cy="224.01" r="1.0" fill="none" stroke="#2fa295" stroke-width="0.8"/><path d="M360.63 223.71V226.92M359.43 223.71h2.4M359.43 226.92h2.4" stroke="#2fa295" stroke-width="0.75" fill="none"/><circle cx="360.63" cy="225.31" r="1.0" fill="none" stroke="#2fa295" stroke-width="0.8"/><path d="M361.01 219.84V225.13M359.81 219.84h2.4M359.81 225.13h2.4" stroke="#2fa295" stroke-width="0.75" fill="none"/><circle cx="361.01" cy="222.48" r="1.0" fill="none" stroke="#2fa295" stroke-width="0.8"/><path d="M361.4 224.68V229.6M360.2 224.68h2.4M360.2 229.6h2.4" stroke="#2fa295" stroke-width="0.75" fill="none"/><path d="M361.78 222.42V226.89M360.58 222.42h2.4M360.58 226.89h2.4" stroke="#2fa295" stroke-width="0.75" fill="none"/><circle cx="361.78" cy="224.66" r="1.0" fill="none" stroke="#2fa295" stroke-width="0.8"/><path d="M362.16 222.9V227.71M360.96 222.9h2.4M360.96 227.71h2.4" stroke="#2fa295" stroke-width="0.75" fill="none"/><path d="M362.55 223.68V228.24M361.35 223.68h2.4M361.35 228.24h2.4" stroke="#2fa295" stroke-width="0.75" fill="none"/><path d="M362.93 221.64V224.37M361.73 221.64h2.4M361.73 224.37h2.4" stroke="#2fa295" stroke-width="0.75" fill="none"/><circle cx="362.93" cy="223.01" r="1.0" fill="none" stroke="#2fa295" stroke-width="0.8"/><path d="M363.31 222.21V225.43M362.11 222.21h2.4M362.11 225.43h2.4" stroke="#2fa295" stroke-width="0.75" fill="none"/><circle cx="363.31" cy="223.82" r="1.0" fill="none" stroke="#2fa295" stroke-width="0.8"/><path d="M363.69 222.25V225.41M362.49 222.25h2.4M362.49 225.41h2.4" stroke="#2fa295" stroke-width="0.75" fill="none"/><circle cx="363.69" cy="223.83" r="1.0" fill="none" stroke="#2fa295" stroke-width="0.8"/><path d="M364.08 220.18V224.75M362.88 220.18h2.4M362.88 224.75h2.4" stroke="#2fa295" stroke-width="0.75" fill="none"/><circle cx="364.08" cy="222.46" r="1.0" fill="none" stroke="#2fa295" stroke-width="0.8"/><path d="M364.46 223.77V226.29M363.26 223.77h2.4M363.26 226.29h2.4" stroke="#2fa295" stroke-width="0.75" fill="none"/><path d="M364.84 220.46V223.57M363.64 220.46h2.4M363.64 223.57h2.4" stroke="#2fa295" stroke-width="0.75" fill="none"/><path d="M365.22 225.25V228.1M364.02 225.25h2.4M364.02 228.1h2.4" stroke="#2fa295" stroke-width="0.75" fill="none"/><path d="M365.61 220.85V223.56M364.41 220.85h2.4M364.41 223.56h2.4" stroke="#2fa295" stroke-width="0.75" fill="none"/><path d="M365.99 224.79V228.64M364.79 224.79h2.4M364.79 228.64h2.4" stroke="#2fa295" stroke-width="0.75" fill="none"/><circle cx="365.99" cy="226.71" r="1.0" fill="none" stroke="#2fa295" stroke-width="0.8"/><path d="M366.37 225.18V230.22M365.17 225.18h2.4M365.17 230.22h2.4" stroke="#2fa295" stroke-width="0.75" fill="none"/><circle cx="366.37" cy="227.7" r="1.0" fill="none" stroke="#2fa295" stroke-width="0.8"/><path d="M366.76 223.35V226.46M365.56 223.35h2.4M365.56 226.46h2.4" stroke="#2fa295" stroke-width="0.75" fill="none"/><circle cx="366.76" cy="224.9" r="1.0" fill="none" stroke="#2fa295" stroke-width="0.8"/><path d="M367.14 223.84V228.52M365.94 223.84h2.4M365.94 228.52h2.4" stroke="#2fa295" stroke-width="0.75" fill="none"/><path d="M367.52 223.95V227.2M366.32 223.95h2.4M366.32 227.2h2.4" stroke="#2fa295" stroke-width="0.75" fill="none"/><path d="M367.9 224.25V227.14M366.7 224.25h2.4M366.7 227.14h2.4" stroke="#2fa295" stroke-width="0.75" fill="none"/><circle cx="367.9" cy="225.7" r="1.0" fill="none" stroke="#2fa295" stroke-width="0.8"/><path d="M368.29 220.45V223.38M367.09 220.45h2.4M367.09 223.38h2.4" stroke="#2fa295" stroke-width="0.75" fill="none"/><path d="M368.67 222.83V226.25M367.47 222.83h2.4M367.47 226.25h2.4" stroke="#2fa295" stroke-width="0.75" fill="none"/><path d="M369.05 224.45V227.04M367.85 224.45h2.4M367.85 227.04h2.4" stroke="#2fa295" stroke-width="0.75" fill="none"/><path d="M369.44 222.5V227.03M368.24 222.5h2.4M368.24 227.03h2.4" stroke="#2fa295" stroke-width="0.75" fill="none"/><circle cx="369.44" cy="224.77" r="1.0" fill="none" stroke="#2fa295" stroke-width="0.8"/><path d="M369.82 221.69V224.92M368.62 221.69h2.4M368.62 224.92h2.4" stroke="#2fa295" stroke-width="0.75" fill="none"/><circle cx="369.82" cy="223.3" r="1.0" fill="none" stroke="#2fa295" stroke-width="0.8"/><path d="M370.2 217.25V220.82M369 217.25h2.4M369 220.82h2.4" stroke="#2fa295" stroke-width="0.75" fill="none"/><path d="M370.58 224.24V226.96M369.38 224.24h2.4M369.38 226.96h2.4" stroke="#2fa295" stroke-width="0.75" fill="none"/><circle cx="370.58" cy="225.6" r="1.0" fill="none" stroke="#2fa295" stroke-width="0.8"/><path d="M370.97 219.97V225.23M369.77 219.97h2.4M369.77 225.23h2.4" stroke="#2fa295" stroke-width="0.75" fill="none"/><circle cx="370.97" cy="222.6" r="1.0" fill="none" stroke="#2fa295" stroke-width="0.8"/><path d="M371.35 221.48V227.01M370.15 221.48h2.4M370.15 227.01h2.4" stroke="#2fa295" stroke-width="0.75" fill="none"/><circle cx="371.35" cy="224.25" r="1.0" fill="none" stroke="#2fa295" stroke-width="0.8"/><path d="M371.73 223.28V228.26M370.53 223.28h2.4M370.53 228.26h2.4" stroke="#2fa295" stroke-width="0.75" fill="none"/><circle cx="371.73" cy="225.77" r="1.0" fill="none" stroke="#2fa295" stroke-width="0.8"/><path d="M372.12 221.9V226.97M370.92 221.9h2.4M370.92 226.97h2.4" stroke="#2fa295" stroke-width="0.75" fill="none"/><path d="M372.5 227.32V230.31M371.3 227.32h2.4M371.3 230.31h2.4" stroke="#2fa295" stroke-width="0.75" fill="none"/><circle cx="372.5" cy="228.81" r="1.0" fill="none" stroke="#2fa295" stroke-width="0.8"/><path d="M372.88 221.6V225.83M371.68 221.6h2.4M371.68 225.83h2.4" stroke="#2fa295" stroke-width="0.75" fill="none"/><circle cx="372.88" cy="223.72" r="1.0" fill="none" stroke="#2fa295" stroke-width="0.8"/><path d="M373.26 223.41V226.38M372.06 223.41h2.4M372.06 226.38h2.4" stroke="#2fa295" stroke-width="0.75" fill="none"/><circle cx="373.26" cy="224.89" r="1.0" fill="none" stroke="#2fa295" stroke-width="0.8"/><path d="M373.65 226.68V229.33M372.45 226.68h2.4M372.45 229.33h2.4" stroke="#2fa295" stroke-width="0.75" fill="none"/><circle cx="373.65" cy="228" r="1.0" fill="none" stroke="#2fa295" stroke-width="0.8"/><path d="M374.03 224.48V228.83M372.83 224.48h2.4M372.83 228.83h2.4" stroke="#2fa295" stroke-width="0.75" fill="none"/><circle cx="374.03" cy="226.66" r="1.0" fill="none" stroke="#2fa295" stroke-width="0.8"/><path d="M374.41 223.03V227.39M373.21 223.03h2.4M373.21 227.39h2.4" stroke="#2fa295" stroke-width="0.75" fill="none"/><path d="M374.79 223.78V228.77M373.59 223.78h2.4M373.59 228.77h2.4" stroke="#2fa295" stroke-width="0.75" fill="none"/><circle cx="374.79" cy="226.28" r="1.0" fill="none" stroke="#2fa295" stroke-width="0.8"/><path d="M375.18 223.47V228.21M373.98 223.47h2.4M373.98 228.21h2.4" stroke="#2fa295" stroke-width="0.75" fill="none"/><path d="M375.56 219.88V224.59M374.36 219.88h2.4M374.36 224.59h2.4" stroke="#2fa295" stroke-width="0.75" fill="none"/><circle cx="375.56" cy="222.23" r="1.0" fill="none" stroke="#2fa295" stroke-width="0.8"/><path d="M375.94 221.61V226.7M374.74 221.61h2.4M374.74 226.7h2.4" stroke="#2fa295" stroke-width="0.75" fill="none"/><path d="M376.33 219.42V223.39M375.13 219.42h2.4M375.13 223.39h2.4" stroke="#2fa295" stroke-width="0.75" fill="none"/><path d="M376.71 222.28V227.47M375.51 222.28h2.4M375.51 227.47h2.4" stroke="#2fa295" stroke-width="0.75" fill="none"/><circle cx="376.71" cy="224.88" r="1.0" fill="none" stroke="#2fa295" stroke-width="0.8"/><path d="M377.09 222.93V225.92M375.89 222.93h2.4M375.89 225.92h2.4" stroke="#2fa295" stroke-width="0.75" fill="none"/><circle cx="377.09" cy="224.42" r="1.0" fill="none" stroke="#2fa295" stroke-width="0.8"/><path d="M377.47 224.92V228.51M376.27 224.92h2.4M376.27 228.51h2.4" stroke="#2fa295" stroke-width="0.75" fill="none"/><path d="M377.86 225.94V228.35M376.66 225.94h2.4M376.66 228.35h2.4" stroke="#2fa295" stroke-width="0.75" fill="none"/><path d="M378.24 224.09V226.88M377.04 224.09h2.4M377.04 226.88h2.4" stroke="#2fa295" stroke-width="0.75" fill="none"/><path d="M378.62 221.72V226.73M377.42 221.72h2.4M377.42 226.73h2.4" stroke="#2fa295" stroke-width="0.75" fill="none"/><path d="M379.01 224.6V228.22M377.81 224.6h2.4M377.81 228.22h2.4" stroke="#2fa295" stroke-width="0.75" fill="none"/><path d="M379.39 220.91V223.5M378.19 220.91h2.4M378.19 223.5h2.4" stroke="#2fa295" stroke-width="0.75" fill="none"/><path d="M379.77 226.36V230.4M378.57 226.36h2.4M378.57 230.4h2.4" stroke="#2fa295" stroke-width="0.75" fill="none"/><path d="M380.15 218.62V222.74M378.95 218.62h2.4M378.95 222.74h2.4" stroke="#2fa295" stroke-width="0.75" fill="none"/><circle cx="380.15" cy="220.68" r="1.0" fill="none" stroke="#2fa295" stroke-width="0.8"/><path d="M380.54 223.16V226.14M379.34 223.16h2.4M379.34 226.14h2.4" stroke="#2fa295" stroke-width="0.75" fill="none"/><circle cx="380.54" cy="224.65" r="1.0" fill="none" stroke="#2fa295" stroke-width="0.8"/><path d="M380.92 223.47V226.67M379.72 223.47h2.4M379.72 226.67h2.4" stroke="#2fa295" stroke-width="0.75" fill="none"/><circle cx="380.92" cy="225.07" r="1.0" fill="none" stroke="#2fa295" stroke-width="0.8"/></g>
<path d="M246 188.5V224" stroke="#7fcdc5" stroke-width="0.9"/><path d="M246 189V201.7M244.4 189h3.2M244.4 201.7h3.2" stroke="#6cc4bb" stroke-width="0.8" fill="none"/><circle cx="246" cy="204" r="1.3" fill="none" stroke="#6cc4bb" stroke-width="0.8"/><path d="M246.4 223.8V228.2M245 223.8h2.8M245 228.2h2.8" stroke="#5cbdb3" stroke-width="0.8" fill="none"/><circle cx="246.4" cy="226" r="1.0" fill="none" stroke="#5cbdb3" stroke-width="0.8"/><path d="M245.04 226.8V231.2M243.64 226.8h2.8M243.64 231.2h2.8" stroke="#5cbdb3" stroke-width="0.8" fill="none"/><path d="M246.15 229.8V234.2M244.75 229.8h2.8M244.75 234.2h2.8" stroke="#5cbdb3" stroke-width="0.8" fill="none"/><path d="M246.41 232.8V237.2M245.01 232.8h2.8M245.01 237.2h2.8" stroke="#5cbdb3" stroke-width="0.8" fill="none"/><circle cx="246.41" cy="235" r="1.0" fill="none" stroke="#5cbdb3" stroke-width="0.8"/><path d="M246.74 235.8V240.2M245.34 235.8h2.8M245.34 240.2h2.8" stroke="#5cbdb3" stroke-width="0.8" fill="none"/><path d="M245.09 238.8V243.2M243.69 238.8h2.8M243.69 243.2h2.8" stroke="#5cbdb3" stroke-width="0.8" fill="none"/><circle cx="245.09" cy="241" r="1.0" fill="none" stroke="#5cbdb3" stroke-width="0.8"/><path d="M245.99 241.8V246.2M244.59 241.8h2.8M244.59 246.2h2.8" stroke="#5cbdb3" stroke-width="0.8" fill="none"/><path d="M245.56 244.8V249.2M244.16 244.8h2.8M244.16 249.2h2.8" stroke="#5cbdb3" stroke-width="0.8" fill="none"/><circle cx="245.56" cy="247" r="1.0" fill="none" stroke="#5cbdb3" stroke-width="0.8"/><path d="M280.8 173.4V224" stroke="#6cc4bb" stroke-width="1.1"/><path d="M280.8 224V277" stroke="#45b0a5" stroke-width="2.4"/><path d="M282.02 202.8V207.2M280.22 202.8h3.6M280.22 207.2h3.6" stroke="#6cc4bb" stroke-width="0.8" fill="none"/><circle cx="282.02" cy="205" r="1.1" fill="none" stroke="#6cc4bb" stroke-width="0.8"/><path d="M282.58 205.8V210.2M280.78 205.8h3.6M280.78 210.2h3.6" stroke="#6cc4bb" stroke-width="0.8" fill="none"/><path d="M281.24 208.8V213.2M279.44 208.8h3.6M279.44 213.2h3.6" stroke="#6cc4bb" stroke-width="0.8" fill="none"/><path d="M283.04 211.8V216.2M281.24 211.8h3.6M281.24 216.2h3.6" stroke="#6cc4bb" stroke-width="0.8" fill="none"/><circle cx="283.04" cy="214" r="1.1" fill="none" stroke="#6cc4bb" stroke-width="0.8"/><path d="M283.28 214.8V219.2M281.48 214.8h3.6M281.48 219.2h3.6" stroke="#6cc4bb" stroke-width="0.8" fill="none"/><circle cx="280.8" cy="246" r="1.6" fill="none" stroke="#2f9f93" stroke-width="0.9"/><circle cx="280.8" cy="264.5" r="1.6" fill="none" stroke="#2f9f93" stroke-width="0.9"/>
<path d="M225.47 225.25 L225.82 225.25 L226.16 225.25 L226.51 225.25 L226.86 225.25 L227.21 225.25 L227.56 225.25 L227.9 225.25 L228.25 225.25 L228.6 225.25 L228.95 225.25 L229.3 225.25 L229.64 225.25 L229.99 225.25 L230.34 225.25 L230.69 225.25 L231.04 225.24 L231.38 225.22 L231.73 225.17 L232.08 225.08 L232.43 224.92 L232.78 224.63 L233.12 224.18 L233.47 223.53 L233.82 222.67 L234.17 221.67 L234.52 220.63 L234.86 219.71 L235.21 219.06 L235.56 218.83 L235.91 219.06 L236.26 219.71 L236.6 220.63 L236.95 221.67 L237.3 222.67 L237.65 223.53 L238 224.18 L238.34 224.63 L238.69 224.92 L239.04 225.08 L239.39 225.17 L239.74 225.22 L240.08 225.24 L240.43 225.25 L240.78 225.25 L241.13 225.25 L241.48 225.25 L241.82 225.25 L242.17 225.25 L242.52 225.25 L242.87 225.25 L243.22 225.25 L243.56 225.25 L243.91 225.25 L244.26 225.25 L244.61 225.25 L244.96 225.25 L245.3 225.25 L245.65 225.25 L246 225.25 L246.35 225.25 L246.7 225.25 L247.04 225.25 L247.39 225.25 L247.74 225.25 L248.09 225.25 L248.44 225.25 L248.78 225.25 L249.13 225.25 L249.48 225.25 L249.83 225.25 L250.18 225.25 L250.52 225.25 L250.87 225.25 L251.22 225.25 L251.57 225.25 L251.92 225.24 L252.26 225.22 L252.61 225.17 L252.96 225.08 L253.31 224.92 L253.66 224.63 L254 224.18 L254.35 223.53 L254.7 222.67 L255.05 221.67 L255.4 220.63 L255.74 219.71 L256.09 219.06 L256.44 218.83 L256.79 219.06 L257.14 219.71 L257.48 220.63 L257.83 221.67 L258.18 222.67 L258.53 223.53 L258.88 224.18 L259.22 224.63 L259.57 224.92 L259.92 225.08 L260.27 225.17 L260.62 225.22 L260.96 225.24 L261.31 225.25 L261.66 225.25 L262.01 225.25 L262.36 225.25 L262.7 225.25 L263.05 225.25 L263.4 225.25 L263.75 225.25 L264.1 225.25 L264.44 225.25 L264.79 225.25 L265.14 225.25 L265.49 225.25 L265.84 225.25 L266.18 225.25 L266.53 225.25 L266.88 225.25 L267.23 225.25 L267.58 225.25 L267.92 225.25 L268.27 225.25 L268.62 225.25 L268.97 225.25 L269.32 225.25 L269.66 225.25 L270.01 225.25 L270.36 225.25 L270.71 225.25 L271.06 225.25 L271.4 225.25 L271.75 225.25 L272.1 225.25 L272.45 225.25 L272.8 225.25 L273.14 225.25 L273.49 225.25 L273.84 225.25 L274.19 225.25 L274.54 225.25 L274.88 225.25 L275.23 225.25 L275.58 225.25 L275.93 225.25 L276.28 225.25 L276.62 225.25 L276.97 225.25 L277.32 225.25 L277.67 225.25 L278.02 225.25 L278.36 225.25 L278.71 225.25 L279.06 225.25 L279.41 225.25 L279.76 225.25 L280.1 225.25 L280.45 225.25 L280.8 225.25 L281.15 225.25 L281.5 225.25 L281.84 225.25 L282.19 225.25 L282.54 225.25 L282.89 225.25 L283.24 225.25 L283.58 225.25 L283.93 225.25 L284.28 225.25 L284.63 225.25 L284.98 225.25 L285.32 225.25 L285.67 225.25 L286.02 225.25 L286.37 225.25 L286.72 225.25 L287.06 225.25 L287.41 225.25 L287.76 225.25 L288.11 225.25 L288.46 225.25 L288.8 225.25 L289.15 225.25 L289.5 225.25 L289.85 225.25 L290.2 225.25 L290.54 225.25 L290.89 225.25 L291.24 225.25 L291.59 225.25 L291.94 225.25 L292.28 225.25 L292.63 225.25 L292.98 225.25 L293.33 225.25 L293.68 225.25 L294.02 225.25 L294.37 225.25 L294.72 225.25 L295.07 225.25 L295.42 225.25 L295.76 225.25 L296.11 225.25 L296.46 225.25 L296.81 225.25 L297.16 225.25 L297.5 225.25 L297.85 225.25 L298.2 225.25 L298.55 225.25 L298.9 225.25 L299.24 225.25 L299.59 225.25 L299.94 225.25 L300.29 225.25 L300.64 225.24 L300.98 225.22 L301.33 225.17 L301.68 225.08 L302.03 224.92 L302.38 224.63 L302.72 224.18 L303.07 223.53 L303.42 222.67 L303.77 221.67 L304.12 220.63 L304.46 219.71 L304.81 219.06 L305.16 218.83 L305.51 219.06 L305.86 219.71 L306.2 220.63 L306.55 221.67 L306.9 222.67 L307.25 223.53 L307.6 224.18 L307.94 224.63 L308.29 224.92 L308.64 225.08 L308.99 225.17 L309.34 225.22 L309.68 225.24 L310.03 225.25 L310.38 225.25 L310.73 225.25 L311.08 225.25 L311.42 225.25 L311.77 225.25 L312.12 225.25 L312.47 225.25 L312.82 225.25 L313.16 225.25 L313.51 225.25 L313.86 225.25 L314.21 225.25 L314.56 225.25 L314.9 225.25 L315.25 225.25 L315.6 225.25 L315.95 225.25 L316.3 225.25 L316.64 225.25 L316.99 225.25 L317.34 225.25 L317.69 225.25 L318.04 225.25 L318.38 225.25 L318.73 225.25 L319.08 225.25 L319.43 225.25 L319.78 225.25 L320.12 225.25 L320.47 225.25 L320.82 225.25 L321.17 225.25 L321.52 225.24 L321.86 225.22 L322.21 225.17 L322.56 225.08 L322.91 224.92 L323.26 224.63 L323.6 224.18 L323.95 223.53 L324.3 222.67 L324.65 221.67 L325 220.63 L325.34 219.71 L325.69 219.06 L326.04 218.83 L326.39 219.06 L326.74 219.71 L327.08 220.63 L327.43 221.67 L327.78 222.67 L328.13 223.53 L328.48 224.18 L328.82 224.63 L329.17 224.92 L329.52 225.08 L329.87 225.17 L330.22 225.22 L330.56 225.24 L330.91 225.25 L331.26 225.25 L331.61 225.25 L331.96 225.25 L332.3 225.25 L332.65 225.25 L333 225.25 L333.35 225.25 L333.7 225.25 L334.04 225.25 L334.39 225.25 L334.74 225.25 L335.09 225.25 L335.44 225.25 L335.78 225.25 L336.13 225.25 L336.48 225.25 L336.83 225.25 L337.18 225.25 L337.52 225.25 L337.87 225.25 L338.22 225.25 L338.57 225.25 L338.92 225.25 L339.26 225.25 L339.61 225.25 L339.96 225.25 L340.31 225.25 L340.66 225.25 L341 225.25 L341.35 225.25 L341.7 225.25 L342.05 225.25 L342.4 225.25 L342.74 225.25 L343.09 225.25 L343.44 225.25 L343.79 225.25 L344.14 225.25 L344.48 225.25 L344.83 225.25 L345.18 225.25 L345.53 225.25 L345.88 225.25 L346.22 225.25 L346.57 225.25 L346.92 225.25 L347.27 225.25 L347.62 225.25 L347.96 225.25 L348.31 225.25 L348.66 225.25 L349.01 225.25 L349.36 225.25 L349.7 225.25 L350.05 225.25 L350.4 225.25 L350.75 225.25 L351.1 225.25 L351.44 225.25 L351.79 225.25 L352.14 225.25 L352.49 225.25 L352.84 225.25 L353.18 225.25 L353.53 225.25 L353.88 225.25 L354.23 225.25 L354.58 225.25 L354.92 225.25 L355.27 225.25 L355.62 225.25 L355.97 225.25 L356.32 225.25 L356.66 225.25 L357.01 225.25 L357.36 225.25 L357.71 225.25 L358.06 225.25 L358.4 225.25 L358.75 225.25 L359.1 225.25 L359.45 225.25 L359.8 225.25 L360.14 225.25 L360.49 225.25 L360.84 225.25 L361.19 225.25 L361.54 225.25 L361.88 225.25 L362.23 225.25 L362.58 225.25 L362.93 225.25 L363.28 225.25 L363.62 225.25 L363.97 225.25 L364.32 225.25 L364.67 225.25 L365.02 225.25 L365.36 225.25 L365.71 225.25 L366.06 225.25 L366.41 225.25 L366.76 225.25 L367.1 225.25 L367.45 225.25 L367.8 225.25 L368.15 225.25 L368.5 225.25 L368.84 225.25 L369.19 225.25 L369.54 225.25 L369.89 225.25 L370.24 225.24 L370.58 225.22 L370.93 225.17 L371.28 225.08 L371.63 224.92 L371.98 224.63 L372.32 224.18 L372.67 223.53 L373.02 222.67 L373.37 221.67 L373.72 220.63 L374.06 219.71 L374.41 219.06 L374.76 218.83 L375.11 219.06 L375.46 219.71 L375.8 220.63 L376.15 221.67 L376.5 222.67 L376.85 223.53 L377.2 224.18 L377.54 224.63 L377.89 224.92 L378.24 225.08 L378.59 225.17 L378.94 225.22 L379.28 225.24 L379.63 225.25 L379.98 225.25 L380.33 225.25 L380.68 225.25" stroke="#c93d68" stroke-width="1.5" fill="none" stroke-linejoin="round" />
<rect x="225.4" y="173.4" width="155.6" height="103.6" fill="none" stroke="#000" stroke-width="1.6"/><path d="M232.08 277v-2.2M232.08 173.4v2.2M239.04 277v-2.2M239.04 173.4v2.2M246 277v-3.0M246 173.4v3.0M252.96 277v-2.2M252.96 173.4v2.2M259.92 277v-2.2M259.92 173.4v2.2M266.88 277v-2.2M266.88 173.4v2.2M273.84 277v-2.2M273.84 173.4v2.2M280.8 277v-3.0M280.8 173.4v3.0M287.76 277v-2.2M287.76 173.4v2.2M294.72 277v-2.2M294.72 173.4v2.2M301.68 277v-2.2M301.68 173.4v2.2M308.64 277v-2.2M308.64 173.4v2.2M315.6 277v-3.0M315.6 173.4v3.0M322.56 277v-2.2M322.56 173.4v2.2M329.52 277v-2.2M329.52 173.4v2.2M336.48 277v-2.2M336.48 173.4v2.2M343.44 277v-2.2M343.44 173.4v2.2M350.4 277v-3.0M350.4 173.4v3.0M357.36 277v-2.2M357.36 173.4v2.2M364.32 277v-2.2M364.32 173.4v2.2M371.28 277v-2.2M371.28 173.4v2.2M378.24 277v-2.2M378.24 173.4v2.2M225.4 274.93h2.2M381 274.93h-2.2M225.4 270.79h2.2M381 270.79h-2.2M225.4 266.65h3.0M381 266.65h-3.0M225.4 262.51h2.2M381 262.51h-2.2M225.4 258.37h2.2M381 258.37h-2.2M225.4 254.23h2.2M381 254.23h-2.2M225.4 250.09h2.2M381 250.09h-2.2M225.4 245.95h3.0M381 245.95h-3.0M225.4 241.81h2.2M381 241.81h-2.2M225.4 237.67h2.2M381 237.67h-2.2M225.4 233.53h2.2M381 233.53h-2.2M225.4 229.39h2.2M381 229.39h-2.2M225.4 225.25h3.0M381 225.25h-3.0M225.4 221.11h2.2M381 221.11h-2.2M225.4 216.97h2.2M381 216.97h-2.2M225.4 212.83h2.2M381 212.83h-2.2M225.4 208.69h2.2M381 208.69h-2.2M225.4 204.55h3.0M381 204.55h-3.0M225.4 200.41h2.2M381 200.41h-2.2M225.4 196.27h2.2M381 196.27h-2.2M225.4 192.13h2.2M381 192.13h-2.2M225.4 187.99h2.2M381 187.99h-2.2M225.4 183.85h3.0M381 183.85h-3.0M225.4 179.71h2.2M381 179.71h-2.2M225.4 175.57h2.2M381 175.57h-2.2" stroke="#000" stroke-width="1.1" fill="none"/>
<text x="246" y="287.6" font-size="9.0" text-anchor="middle" font-weight="normal" fill="#111" stroke="#111" stroke-width="0.38" >-4</text>
<text x="280.8" y="287.6" font-size="9.0" text-anchor="middle" font-weight="normal" fill="#111" stroke="#111" stroke-width="0.38" >-3</text>
<text x="315.6" y="287.6" font-size="9.0" text-anchor="middle" font-weight="normal" fill="#111" stroke="#111" stroke-width="0.38" >-2</text>
<text x="350.4" y="287.6" font-size="9.0" text-anchor="middle" font-weight="normal" fill="#111" stroke="#111" stroke-width="0.38" >-1</text>
<text x="223.3" y="270.25" font-size="9.0" text-anchor="end" font-weight="normal" fill="#111" stroke="#111" stroke-width="0.38" >-4</text>
<text x="223.3" y="249.55" font-size="9.0" text-anchor="end" font-weight="normal" fill="#111" stroke="#111" stroke-width="0.38" >-2</text>
<text x="223.3" y="228.85" font-size="9.0" text-anchor="end" font-weight="normal" fill="#111" stroke="#111" stroke-width="0.38" >0</text>
<text x="223.3" y="208.15" font-size="9.0" text-anchor="end" font-weight="normal" fill="#111" stroke="#111" stroke-width="0.38" >2</text>
<text x="223.3" y="187.45" font-size="9.0" text-anchor="end" font-weight="normal" fill="#111" stroke="#111" stroke-width="0.38" >4</text>
<text x="303.7" y="297.8" font-size="9.6" text-anchor="middle" font-weight="normal" fill="#111" stroke="#111" stroke-width="0.38" ><tspan font-style="italic">L</tspan> in [1 0 L] (r.l.u.)</text>
<text x="0" y="0" font-size="9.6" text-anchor="middle" font-weight="normal" fill="#111" stroke="#111" stroke-width="0.38" transform="translate(213 225.6) rotate(-90)">Intensity (a.u.)</text>
<rect x="303" y="180.6" width="72.2" height="20.4" rx="3.2" ry="3.2" fill="#fff" stroke="#333" stroke-width="1.2"/>
<path d="M309 183.7V190.3M307.2 183.7h3.6M307.2 190.3h3.6" stroke="#4cb8ae" stroke-width="0.9" fill="none"/><circle cx="309" cy="187" r="1.3" fill="none" stroke="#4cb8ae" stroke-width="0.8"/>
<path d="M305 196.6H313.5" stroke="#c93d68" stroke-width="1.5"/>
<text x="314.6" y="189.2" font-size="7.3" text-anchor="start" font-weight="normal" fill="#111" stroke="#111" stroke-width="0.2" >I(4.6K) - I(60K)</text>
<text x="314.6" y="198.9" font-size="7.3" text-anchor="start" font-weight="normal" fill="#111" stroke="#111" stroke-width="0.2" >Model Calculation</text>
<ellipse cx="450.2" cy="35.6" rx="32.1" ry="7.25" fill="none" stroke="#bfe8a6" stroke-width="1.05" stroke-dasharray="1.6 0.6"/><ellipse cx="450.2" cy="48.35" rx="32.1" ry="7.25" fill="none" stroke="#b6e5a6" stroke-width="1.05" stroke-dasharray="1.6 0.6"/><ellipse cx="450.2" cy="61.1" rx="32.1" ry="7.25" fill="none" stroke="#ade1a6" stroke-width="1.05" stroke-dasharray="1.6 0.6"/><ellipse cx="450.2" cy="73.85" rx="32.1" ry="7.25" fill="none" stroke="#a4dea6" stroke-width="1.05" stroke-dasharray="1.6 0.6"/><ellipse cx="450.2" cy="86.6" rx="32.1" ry="7.25" fill="none" stroke="#9cdba6" stroke-width="1.05" stroke-dasharray="1.6 0.6"/><ellipse cx="450.2" cy="99.35" rx="32.1" ry="7.25" fill="none" stroke="#93d7a6" stroke-width="1.05" stroke-dasharray="1.6 0.6"/><ellipse cx="450.2" cy="112.1" rx="32.1" ry="7.25" fill="none" stroke="#8ad4a6" stroke-width="1.05" stroke-dasharray="1.6 0.6"/><ellipse cx="450.2" cy="124.85" rx="32.1" ry="7.25" fill="none" stroke="#7ecea8" stroke-width="1.05" stroke-dasharray="1.6 0.6"/><ellipse cx="450.2" cy="137.6" rx="32.1" ry="7.25" fill="none" stroke="#72c8ab" stroke-width="1.05" stroke-dasharray="1.6 0.6"/><ellipse cx="450.2" cy="150.35" rx="32.1" ry="7.25" fill="none" stroke="#66c2ae" stroke-width="1.05" stroke-dasharray="1.6 0.6"/><ellipse cx="450.2" cy="163.1" rx="32.1" ry="7.25" fill="none" stroke="#5abcb0" stroke-width="1.05" stroke-dasharray="1.6 0.6"/><ellipse cx="450.2" cy="175.85" rx="32.1" ry="7.25" fill="none" stroke="#58b8b0" stroke-width="1.05" stroke-dasharray="1.6 0.6"/><ellipse cx="450.2" cy="188.6" rx="32.1" ry="7.25" fill="none" stroke="#56b5b0" stroke-width="1.05" stroke-dasharray="1.6 0.6"/><ellipse cx="450.2" cy="201.35" rx="32.1" ry="7.25" fill="none" stroke="#55b1b0" stroke-width="1.05" stroke-dasharray="1.6 0.6"/><ellipse cx="450.2" cy="214.1" rx="32.1" ry="7.25" fill="none" stroke="#53adb0" stroke-width="1.05" stroke-dasharray="1.6 0.6"/><ellipse cx="450.2" cy="226.85" rx="32.1" ry="7.25" fill="none" stroke="#53a8ae" stroke-width="1.05" stroke-dasharray="1.6 0.6"/><ellipse cx="450.2" cy="239.6" rx="32.1" ry="7.25" fill="none" stroke="#54a2aa" stroke-width="1.05" stroke-dasharray="1.6 0.6"/><ellipse cx="450.2" cy="252.35" rx="32.1" ry="7.25" fill="none" stroke="#569ca7" stroke-width="1.05" stroke-dasharray="1.6 0.6"/><ellipse cx="450.2" cy="265.1" rx="32.1" ry="7.25" fill="none" stroke="#5796a3" stroke-width="1.05" stroke-dasharray="1.6 0.6"/><ellipse cx="450.2" cy="277.85" rx="32.1" ry="7.25" fill="none" stroke="#5990a0" stroke-width="1.05" stroke-dasharray="1.6 0.6"/><ellipse cx="450.2" cy="290.6" rx="32.1" ry="7.25" fill="none" stroke="#5a8a9c" stroke-width="1.05" stroke-dasharray="1.6 0.6"/>
<path d="M449.62 37.52 L474.19 39.55 L474.08 40.81 L480.44 39.13 L474.44 36.44 L474.34 37.7 L449.78 35.68Z" fill="#bae69b" stroke="#9cdc70" stroke-width="0.9" stroke-linejoin="round"/>
<path d="M448.63 50.53 L452.77 54.29 L451.8 55.35 L458.43 57.27 L455.88 50.86 L454.91 51.92 L450.77 48.17Z" fill="#b3e49e" stroke="#93d875" stroke-width="0.9" stroke-linejoin="round"/>
<path d="M449.21 60.8 L437.27 65.32 L436.78 64.03 L431.96 68.82 L438.74 69.21 L438.25 67.92 L450.19 63.4Z" fill="#ade2a3" stroke="#8ad57b" stroke-width="0.9" stroke-linejoin="round"/>
<path d="M449.7 74 L424.6 74 L424.6 72.75 L418.4 74.85 L424.6 76.95 L424.6 75.7 L449.7 75.7Z" fill="#a7dfa6" stroke="#81d180" stroke-width="0.9" stroke-linejoin="round"/>
<path d="M450.19 86.3 L438.25 81.78 L438.74 80.49 L431.96 80.88 L436.78 85.67 L437.27 84.38 L449.21 88.9Z" fill="#a0dcaa" stroke="#78cd85" stroke-width="0.9" stroke-linejoin="round"/>
<path d="M450.41 101.68 L458.88 97.17 L459.54 98.41 L463.64 92.92 L456.79 93.26 L457.46 94.51 L448.99 99.02Z" fill="#9adaae" stroke="#6fca8b" stroke-width="0.9" stroke-linejoin="round"/>
<path d="M449.71 113.95 L475.79 113.72 L475.8 114.97 L481.98 112.81 L475.76 110.77 L475.77 112.02 L449.69 112.25Z" fill="#94d7b1" stroke="#66c690" stroke-width="0.9" stroke-linejoin="round"/>
<path d="M449.39 127.06 L466.37 131.34 L466.04 132.65 L472.69 131.65 L467.31 127.61 L466.98 128.92 L450.01 124.64Z" fill="#84ceb1" stroke="#4fb990" stroke-width="0.9" stroke-linejoin="round"/>
<path d="M448.07 138.37 L447.54 142.05 L446.11 141.85 L448.54 146.79 L452.24 142.72 L450.81 142.52 L451.33 138.83Z" fill="#74c6b1" stroke="#39ad90" stroke-width="0.9" stroke-linejoin="round"/>
<path d="M449.47 150.22 L430.98 154.02 L430.72 152.72 L425.14 156.4 L431.71 157.58 L431.45 156.28 L449.93 152.48Z" fill="#64bcb1" stroke="#22a090" stroke-width="0.9" stroke-linejoin="round"/>
<path d="M449.79 163.16 L426.58 160.95 L426.7 159.68 L420.32 161.3 L426.28 164.09 L426.4 162.82 L449.61 165.04Z" fill="#64bab1" stroke="#229c90" stroke-width="0.9" stroke-linejoin="round"/>
<path d="M450.75 175.67 L446.58 171.95 L447.54 170.88 L440.9 169.01 L443.52 175.38 L444.48 174.31 L448.65 178.03Z" fill="#64b6b2" stroke="#229791" stroke-width="0.9" stroke-linejoin="round"/>
<path d="M450.05 190.84 L465.86 186.42 L466.22 187.73 L471.48 183.51 L464.79 182.62 L465.16 183.93 L449.35 188.36Z" fill="#64b3b2" stroke="#229391" stroke-width="0.9" stroke-linejoin="round"/>
<path d="M449.68 203.21 L475.66 203.78 L475.63 205.03 L481.88 203.06 L475.73 200.82 L475.7 202.07 L449.72 201.49Z" fill="#64b0b3" stroke="#228e92" stroke-width="0.9" stroke-linejoin="round"/>
<path d="M449.23 216.41 L462.14 221.03 L461.67 222.33 L468.44 221.82 L463.54 217.12 L463.07 218.42 L450.17 213.79Z" fill="#64adb3" stroke="#228a92" stroke-width="0.9" stroke-linejoin="round"/>
<path d="M448.85 226.57 L442.59 230.74 L441.81 229.55 L438.29 235.45 L445.09 234.48 L444.3 233.3 L450.55 229.13Z" fill="#66a6ac" stroke="#258089" stroke-width="0.9" stroke-linejoin="round"/>
<path d="M449.66 239.73 L425.04 240.86 L424.98 239.61 L418.88 242.02 L425.17 243.87 L425.12 242.61 L449.74 241.47Z" fill="#68a0a6" stroke="#287780" stroke-width="0.9" stroke-linejoin="round"/>
<path d="M450.02 252.14 L434.03 247.92 L434.37 246.62 L427.71 247.55 L433.05 251.65 L433.39 250.34 L449.38 254.56Z" fill="#6b99a0" stroke="#2b6d77" stroke-width="0.9" stroke-linejoin="round"/>
<path d="M451.35 266.2 L451.57 262.51 L453.02 262.6 L450.2 257.9 L446.83 262.22 L448.28 262.31 L448.05 266Z" fill="#6d929a" stroke="#2e636e" stroke-width="0.9" stroke-linejoin="round"/>
<path d="M449.94 280 L468.74 276.02 L469.02 277.32 L474.56 273.58 L467.97 272.41 L468.25 273.71 L449.46 277.7Z" fill="#6f8c93" stroke="#315a65" stroke-width="0.9" stroke-linejoin="round"/>
<path d="M449.64 292.5 L474.67 294.2 L474.58 295.46 L480.92 293.72 L474.88 291.14 L474.79 292.4 L449.76 290.7Z" fill="#71848d" stroke="#34505c" stroke-width="0.9" stroke-linejoin="round"/>
<path d="M480.44 39.13 L479.92 40.16 L479.32 41.17 L478.65 42.18 L477.9 43.18 L477.09 44.16 L476.22 45.14 L475.28 46.11 L474.27 47.06 L473.21 48 L472.09 48.92 L470.92 49.83 L469.69 50.73 L468.42 51.61 L467.1 52.47 L465.74 53.32 L464.34 54.14 L462.91 54.95 L461.44 55.75 L459.95 56.52 L458.43 57.27 L457.08 57.99 L455.72 58.7 L454.35 59.39 L452.97 60.07 L451.59 60.73 L450.2 61.38 L448.81 62 L447.43 62.62 L446.05 63.22 L444.68 63.8 L443.32 64.37 L441.97 64.92 L440.64 65.46 L439.32 65.98 L438.03 66.49 L436.76 66.98 L435.52 67.46 L434.3 67.93 L433.11 68.38 L431.96 68.82 L430.73 69.22 L429.55 69.61 L428.41 69.99 L427.32 70.35 L426.29 70.69 L425.31 71.03 L424.39 71.35 L423.53 71.67 L422.73 71.97 L421.99 72.26 L421.32 72.55 L420.72 72.82 L420.18 73.09 L419.71 73.35 L419.31 73.61 L418.98 73.86 L418.73 74.11 L418.55 74.36 L418.44 74.61 L418.4 74.85 L418.44 75.09 L418.55 75.34 L418.73 75.59 L418.98 75.84 L419.31 76.09 L419.71 76.35 L420.18 76.61 L420.72 76.88 L421.32 77.15 L421.99 77.44 L422.73 77.73 L423.53 78.03 L424.39 78.35 L425.31 78.67 L426.29 79.01 L427.32 79.35 L428.41 79.71 L429.55 80.09 L430.73 80.48 L431.96 80.88 L433.35 81.28 L434.78 81.7 L436.26 82.14 L437.77 82.6 L439.32 83.08 L440.9 83.58 L442.51 84.11 L444.13 84.65 L445.77 85.22 L447.43 85.81 L449.09 86.42 L450.75 87.05 L452.42 87.71 L454.08 88.39 L455.72 89.09 L457.35 89.81 L458.97 90.56 L460.55 91.32 L462.11 92.11 L463.64 92.92 L465.2 93.76 L466.72 94.62 L468.19 95.5 L469.6 96.4 L470.96 97.33 L472.25 98.27 L473.48 99.23 L474.63 100.2 L475.71 101.19 L476.72 102.2 L477.64 103.22 L478.48 104.25 L479.24 105.3 L479.91 106.35 L480.49 107.41 L480.97 108.48 L481.37 109.56 L481.67 110.64 L481.87 111.73 L481.98 112.81 L482 113.79 L481.96 114.76 L481.88 115.73 L481.74 116.71 L481.54 117.68 L481.29 118.64 L480.99 119.61 L480.64 120.57 L480.24 121.53 L479.79 122.48 L479.28 123.43 L478.73 124.37 L478.13 125.31 L477.49 126.24 L476.79 127.16 L476.06 128.07 L475.28 128.98 L474.45 129.88 L473.59 130.77 L472.69 131.65 L471.72 132.52 L470.73 133.39 L469.69 134.24 L468.62 135.08 L467.52 135.91 L466.39 136.73 L465.23 137.54 L464.04 138.33 L462.83 139.11 L461.6 139.88 L460.34 140.63 L459.07 141.37 L457.79 142.1 L456.49 142.81 L455.17 143.51 L453.86 144.2 L452.53 144.87 L451.2 145.52 L449.87 146.16 L448.54 146.79 L447.18 147.4 L445.83 148 L444.49 148.58 L443.15 149.15 L441.84 149.7 L440.53 150.24 L439.25 150.76 L437.98 151.27 L436.74 151.77 L435.52 152.25 L434.32 152.72 L433.16 153.17 L432.03 153.62 L430.93 154.05 L429.87 154.47 L428.84 154.87 L427.85 155.27 L426.91 155.66 L426 156.03 L425.14 156.4 L424.18 156.7 L423.29 156.99 L422.47 157.28 L421.72 157.55 L421.04 157.81 L420.43 158.06 L419.91 158.31 L419.46 158.54 L419.08 158.78 L418.79 159.01 L418.58 159.23 L418.45 159.46 L418.4 159.68 L418.43 159.9 L418.55 160.13 L418.74 160.35 L419.02 160.58 L419.37 160.81 L419.81 161.05 L420.32 161.3 L420.85 161.58 L421.45 161.87 L422.11 162.17 L422.83 162.48 L423.61 162.79 L424.44 163.12 L425.33 163.45 L426.27 163.8 L427.27 164.16 L428.31 164.53 L429.4 164.91 L430.53 165.31 L431.71 165.72 L432.93 166.14 L434.18 166.58 L435.47 167.03 L436.79 167.5 L438.13 167.99 L439.51 168.49 L440.9 169.01 L442.48 169.53 L444.08 170.08 L445.69 170.65 L447.32 171.23 L448.95 171.84 L450.59 172.48 L452.22 173.13 L453.86 173.8 L455.48 174.5 L457.08 175.22 L458.67 175.96 L460.24 176.72 L461.78 177.5 L463.29 178.3 L464.76 179.12 L466.2 179.96 L467.59 180.82 L468.94 181.7 L470.23 182.59 L471.48 183.51 L472.55 184.4 L473.57 185.31 L474.54 186.24 L475.46 187.17 L476.33 188.11 L477.14 189.07 L477.89 190.03 L478.58 191 L479.22 191.98 L479.79 192.97 L480.29 193.96 L480.74 194.96 L481.11 195.97 L481.43 196.97 L481.67 197.99 L481.85 199 L481.96 200.02 L482 201.03 L481.97 202.05 L481.88 203.06 L481.73 204.06 L481.52 205.05 L481.25 206.04 L480.92 207.02 L480.53 208 L480.08 208.98 L479.58 209.95 L479.02 210.92 L478.41 211.87 L477.74 212.82 L477.02 213.77 L476.25 214.7 L475.43 215.63 L474.56 216.55 L473.65 217.45 L472.69 218.35 L471.68 219.23 L470.64 220.11 L469.56 220.97 L468.44 221.82 L467.12 222.68 L465.76 223.53 L464.36 224.35 L462.93 225.16 L461.47 225.96 L459.97 226.73 L458.46 227.48 L456.92 228.21 L455.37 228.93 L453.8 229.62 L452.22 230.3 L450.64 230.95 L449.06 231.58 L447.48 232.2 L445.91 232.79 L444.35 233.36 L442.8 233.91 L441.27 234.45 L439.77 234.96 L438.29 235.45 L436.81 235.93 L435.37 236.38 L433.96 236.81 L432.6 237.23 L431.28 237.63 L430.02 238.01 L428.8 238.38 L427.64 238.73 L426.53 239.06 L425.49 239.39 L424.51 239.69 L423.59 239.99 L422.74 240.27 L421.97 240.55 L421.26 240.81 L420.63 241.07 L420.08 241.32 L419.6 241.56 L419.2 241.79 L418.88 242.02 L418.65 242.27 L418.5 242.52 L418.41 242.76 L418.4 243.01 L418.47 243.25 L418.6 243.5 L418.81 243.74 L419.09 244 L419.45 244.25 L419.87 244.51 L420.37 244.77 L420.93 245.05 L421.56 245.33 L422.25 245.61 L423.01 245.91 L423.84 246.21 L424.72 246.53 L425.66 246.86 L426.66 247.2 L427.71 247.55 L428.61 247.97 L429.55 248.39 L430.51 248.82 L431.51 249.27 L432.53 249.72 L433.58 250.18 L434.66 250.66 L435.76 251.14 L436.89 251.64 L438.03 252.15 L439.19 252.67 L440.37 253.2 L441.57 253.75 L442.78 254.3 L444 254.87 L445.23 255.45 L446.46 256.04 L447.71 256.65 L448.95 257.27 L450.2 257.9 L451.59 258.55 L452.97 259.21 L454.35 259.88 L455.72 260.57 L457.08 261.28 L458.43 262 L459.76 262.74 L461.08 263.49 L462.37 264.26 L463.64 265.04 L464.88 265.84 L466.1 266.65 L467.29 267.47 L468.44 268.31 L469.56 269.16 L470.64 270.02 L471.68 270.89 L472.69 271.78 L473.65 272.67 L474.56 273.58 L475.51 274.52 L476.41 275.48 L477.24 276.45 L478.01 277.42 L478.72 278.41 L479.36 279.41 L479.94 280.41 L480.44 281.42 L480.88 282.43 L481.25 283.45 L481.54 284.47 L481.76 285.5 L481.91 286.53 L481.99 287.56 L481.99 288.59 L481.92 289.62 L481.78 290.65 L481.56 291.68 L481.28 292.7 L480.92 293.72" stroke="#c41e4e" stroke-width="1.45" fill="none" stroke-linejoin="round" stroke-dasharray="4.8 3.2"/>
<path d="M404 288V262M404 288L426.5 289.8M404 288L391 296.5" stroke="#999" stroke-width="0.9" fill="none"/>
<path d="M402.2 264.8L404 261.5L405.8 264.8M424 288L427 289.9L423.8 291.6M393.5 293.2L390.6 296.8L394.5 296.3" stroke="#999" stroke-width="0.9" fill="none"/>
<text x="405.8" y="272.4" font-size="9" text-anchor="start" font-weight="normal" fill="#8a8a8a" stroke="#8a8a8a" stroke-width="0.1" >c</text>
<text x="428.9" y="293.3" font-size="9" text-anchor="start" font-weight="normal" fill="#8a8a8a" stroke="#8a8a8a" stroke-width="0.1" >a</text>
<text x="397.6" y="300.3" font-size="9" text-anchor="start" font-weight="normal" fill="#8a8a8a" stroke="#8a8a8a" stroke-width="0.1" >b</text>
</svg></body></html>
